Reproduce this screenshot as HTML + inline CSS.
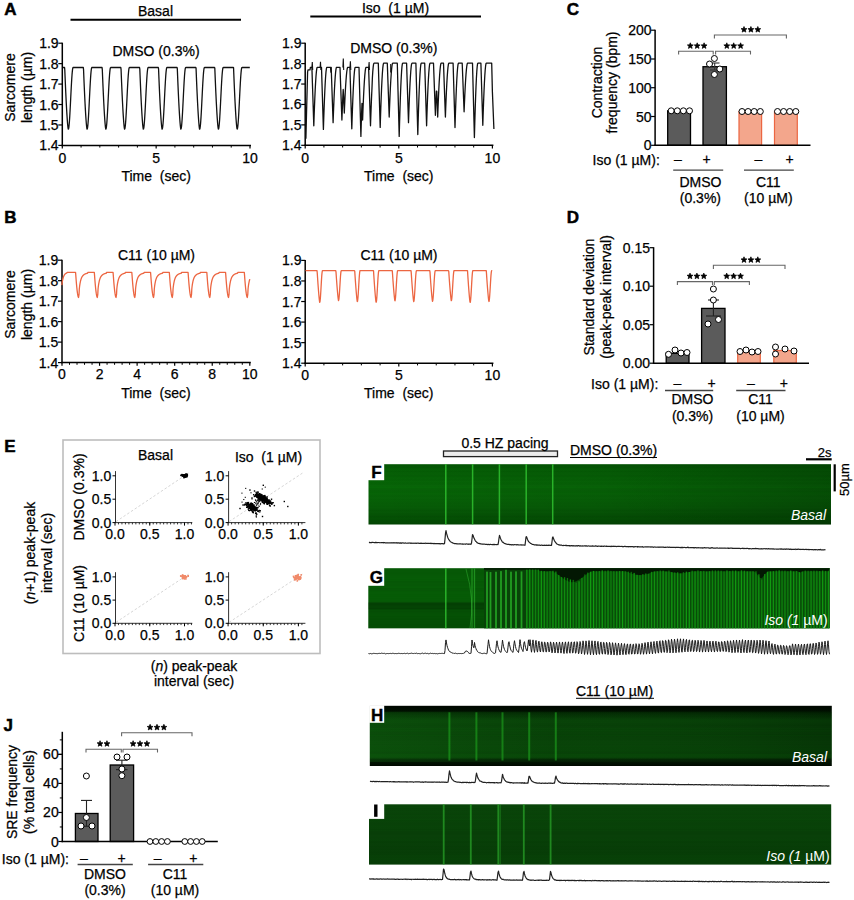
<!DOCTYPE html>
<html><head><meta charset="utf-8"><style>
html,body{margin:0;padding:0;background:#fff;width:854px;height:900px;overflow:hidden}
svg{display:block}
text{font-family:"Liberation Sans", sans-serif; stroke:#000; stroke-width:0.25px}
</style></head><body>
<svg width="854" height="900" viewBox="0 0 854 900">
<defs><linearGradient id="gF" x1="0" y1="0" x2="0" y2="1"><stop offset="0" stop-color="rgb(6,90,6)"/><stop offset="0.4" stop-color="rgb(8,102,8)"/><stop offset="0.75" stop-color="rgb(7,90,7)"/><stop offset="1" stop-color="rgb(4,70,4)"/></linearGradient><linearGradient id="gFx" x1="0" y1="0" x2="1" y2="0"><stop offset="0" stop-color="#000" stop-opacity="0"/><stop offset="0.5" stop-color="#000" stop-opacity="0.05"/><stop offset="1" stop-color="#000" stop-opacity="0.22"/></linearGradient><linearGradient id="gH" x1="0" y1="0" x2="0" y2="1"><stop offset="0" stop-color="rgb(0,6,0)"/><stop offset="0.07" stop-color="rgb(0,12,0)"/><stop offset="0.13" stop-color="rgb(4,38,4)"/><stop offset="0.22" stop-color="rgb(8,62,8)"/><stop offset="0.86" stop-color="rgb(8,64,8)"/><stop offset="0.9" stop-color="rgb(3,28,3)"/><stop offset="1" stop-color="rgb(0,8,0)"/></linearGradient><linearGradient id="gHx" x1="0" y1="0" x2="1" y2="0"><stop offset="0" stop-color="rgb(30,150,30)" stop-opacity="0.18"/><stop offset="0.4" stop-color="rgb(30,150,30)" stop-opacity="0.05"/><stop offset="1" stop-color="#000" stop-opacity="0.15"/></linearGradient><linearGradient id="gI" x1="0" y1="0" x2="0" y2="1"><stop offset="0" stop-color="rgb(10,70,10)"/><stop offset="0.5" stop-color="rgb(9,64,9)"/><stop offset="1" stop-color="rgb(8,62,8)"/></linearGradient><pattern id="pG" x="0" y="0" width="3.05" height="10" patternUnits="userSpaceOnUse"><rect x="0" y="0" width="3.05" height="10" fill="rgb(8,80,8)"/><rect x="0.7" y="0" width="1.4" height="10" fill="rgb(30,160,30)"/></pattern></defs>
<text x="4.30" y="14.80" font-size="17" font-weight="bold" style="stroke-width:0.5px">A</text>
<text x="4.30" y="223.00" font-size="17" font-weight="bold" style="stroke-width:0.5px">B</text>
<text x="566.80" y="15.00" font-size="17" font-weight="bold" style="stroke-width:0.5px">C</text>
<text x="566.80" y="222.50" font-size="17" font-weight="bold" style="stroke-width:0.5px">D</text>
<text x="4.30" y="451.50" font-size="17" font-weight="bold" style="stroke-width:0.5px">E</text>
<text x="3.50" y="730.50" font-size="17" font-weight="bold" style="stroke-width:0.5px">J</text>
<line x1="62.30" y1="42.70" x2="62.30" y2="146.15" stroke="#000" stroke-width="1.5" />
<line x1="61.55" y1="145.40" x2="251.00" y2="145.40" stroke="#000" stroke-width="1.5" />
<line x1="58.30" y1="43.20" x2="62.30" y2="43.20" stroke="#000" stroke-width="1.2" />
<text x="58.60" y="48.20" font-size="14" text-anchor="end" >1.9</text>
<line x1="58.30" y1="63.64" x2="62.30" y2="63.64" stroke="#000" stroke-width="1.2" />
<text x="58.60" y="68.64" font-size="14" text-anchor="end" >1.8</text>
<line x1="58.30" y1="84.08" x2="62.30" y2="84.08" stroke="#000" stroke-width="1.2" />
<text x="58.60" y="89.08" font-size="14" text-anchor="end" >1.7</text>
<line x1="58.30" y1="104.52" x2="62.30" y2="104.52" stroke="#000" stroke-width="1.2" />
<text x="58.60" y="109.52" font-size="14" text-anchor="end" >1.6</text>
<line x1="58.30" y1="124.96" x2="62.30" y2="124.96" stroke="#000" stroke-width="1.2" />
<text x="58.60" y="129.96" font-size="14" text-anchor="end" >1.5</text>
<line x1="58.30" y1="145.40" x2="62.30" y2="145.40" stroke="#000" stroke-width="1.2" />
<text x="58.60" y="150.40" font-size="14" text-anchor="end" >1.4</text>
<line x1="62.30" y1="145.40" x2="62.30" y2="148.60" stroke="#000" stroke-width="1.2" />
<text x="62.30" y="162.50" font-size="14" text-anchor="middle" >0</text>
<line x1="156.15" y1="145.40" x2="156.15" y2="148.60" stroke="#000" stroke-width="1.2" />
<text x="156.15" y="162.50" font-size="14" text-anchor="middle" >5</text>
<line x1="250.00" y1="145.40" x2="250.00" y2="148.60" stroke="#000" stroke-width="1.2" />
<text x="250.00" y="162.50" font-size="14" text-anchor="middle" >10</text>
<line x1="81.07" y1="145.40" x2="81.07" y2="147.60" stroke="#000" stroke-width="1.0" />
<line x1="99.84" y1="145.40" x2="99.84" y2="147.60" stroke="#000" stroke-width="1.0" />
<line x1="118.61" y1="145.40" x2="118.61" y2="147.60" stroke="#000" stroke-width="1.0" />
<line x1="137.38" y1="145.40" x2="137.38" y2="147.60" stroke="#000" stroke-width="1.0" />
<line x1="174.92" y1="145.40" x2="174.92" y2="147.60" stroke="#000" stroke-width="1.0" />
<line x1="193.69" y1="145.40" x2="193.69" y2="147.60" stroke="#000" stroke-width="1.0" />
<line x1="212.46" y1="145.40" x2="212.46" y2="147.60" stroke="#000" stroke-width="1.0" />
<line x1="231.23" y1="145.40" x2="231.23" y2="147.60" stroke="#000" stroke-width="1.0" />
<text x="156.15" y="181.00" font-size="14" text-anchor="middle" >Time&#160;&#160;(sec)</text>
<text transform="translate(15.00,87.50) rotate(-90)" font-size="14" text-anchor="middle">Sarcomere</text>
<text transform="translate(31.50,87.50) rotate(-90)" font-size="14" text-anchor="middle">length (µm)</text>
<text transform="translate(15.00,304.50) rotate(-90)" font-size="14" text-anchor="middle">Sarcomere</text>
<text transform="translate(31.50,304.50) rotate(-90)" font-size="14" text-anchor="middle">length (µm)</text>
<line x1="70.50" y1="19.70" x2="241.00" y2="19.70" stroke="#000" stroke-width="2" />
<text x="155.50" y="15.50" font-size="14" text-anchor="middle" >Basal</text>
<line x1="310.30" y1="16.40" x2="481.00" y2="16.40" stroke="#000" stroke-width="2" />
<text x="395.50" y="12.50" font-size="14" text-anchor="middle" >Iso&#160;&#160;(1 µM)</text>
<text x="156.00" y="56.00" font-size="14" text-anchor="middle" >DMSO (0.3%)</text>
<path d="M62.80,67.50 L63.05,67.50 L63.30,67.50 L63.55,67.50 L63.80,67.50 L64.05,67.50 L64.30,67.50 L64.55,67.50 L64.80,70.05 L65.05,76.28 L65.30,82.26 L65.55,88.01 L65.80,93.49 L66.05,98.71 L66.30,103.65 L66.55,108.29 L66.80,112.61 L67.05,116.58 L67.30,120.17 L67.55,123.33 L67.80,126.01 L68.05,128.07 L68.30,129.20 L68.55,128.79 L68.80,127.56 L69.05,125.56 L69.30,122.82 L69.55,119.44 L69.80,115.49 L70.05,111.08 L70.30,106.33 L70.55,101.37 L70.80,96.33 L71.05,91.34 L71.30,86.54 L71.55,82.06 L71.80,78.01 L72.05,74.50 L72.30,71.63 L72.55,69.48 L72.80,68.09 L73.05,67.52 L73.30,67.50 L73.55,67.50 L73.80,67.50 L74.05,67.50 L74.30,67.50 L74.55,67.50 L74.80,67.50 L75.05,67.50 L75.30,67.50 L75.55,67.50 L75.80,67.50 L76.05,67.50 L76.30,67.50 L76.55,67.50 L76.80,67.50 L77.05,67.50 L77.30,67.50 L77.55,67.50 L77.80,67.50 L78.05,67.50 L78.30,67.50 L78.55,67.50 L78.80,67.50 L79.05,67.50 L79.30,67.50 L79.55,67.50 L79.80,67.50 L80.05,67.50 L80.30,67.50 L80.55,67.50 L80.80,67.50 L81.05,67.50 L81.30,67.50 L81.55,67.50 L81.80,67.50 L82.05,67.50 L82.30,67.50 L82.55,67.50 L82.80,67.50 L83.05,67.50 L83.30,67.50 L83.55,69.80 L83.80,76.03 L84.05,82.03 L84.30,87.78 L84.55,93.28 L84.80,98.51 L85.05,103.46 L85.30,108.11 L85.55,112.44 L85.80,116.42 L86.05,120.03 L86.30,123.22 L86.55,125.91 L86.80,128.00 L87.05,129.19 L87.30,128.82 L87.55,127.63 L87.80,125.65 L88.05,122.95 L88.30,119.59 L88.55,115.66 L88.80,111.27 L89.05,106.53 L89.30,101.57 L89.55,96.53 L89.80,91.54 L90.05,86.73 L90.30,82.23 L90.55,78.16 L90.80,74.63 L91.05,71.73 L91.30,69.55 L91.55,68.13 L91.80,67.52 L92.05,67.50 L92.30,67.50 L92.55,67.50 L92.80,67.50 L93.05,67.50 L93.30,67.50 L93.55,67.50 L93.80,67.50 L94.05,67.50 L94.30,67.50 L94.55,67.50 L94.80,67.50 L95.05,67.50 L95.30,67.50 L95.55,67.50 L95.80,67.50 L96.05,67.50 L96.30,67.50 L96.55,67.50 L96.80,67.50 L97.05,67.50 L97.30,67.50 L97.55,67.50 L97.80,67.50 L98.05,67.50 L98.30,67.50 L98.55,67.50 L98.80,67.50 L99.05,67.50 L99.30,67.50 L99.55,67.50 L99.80,67.50 L100.05,67.50 L100.30,67.50 L100.55,67.50 L100.80,67.50 L101.05,67.50 L101.30,67.50 L101.55,67.50 L101.80,67.50 L102.05,67.50 L102.30,69.55 L102.55,75.79 L102.80,81.79 L103.05,87.56 L103.30,93.06 L103.55,98.31 L103.80,103.27 L104.05,107.93 L104.30,112.27 L104.55,116.27 L104.80,119.89 L105.05,123.10 L105.30,125.81 L105.55,127.93 L105.80,129.17 L106.05,128.85 L106.30,127.69 L106.55,125.75 L106.80,123.07 L107.05,119.73 L107.30,115.82 L107.55,111.45 L107.80,106.72 L108.05,101.78 L108.30,96.74 L108.55,91.74 L108.80,86.92 L109.05,82.40 L109.30,78.31 L109.55,74.76 L109.80,71.84 L110.05,69.62 L110.30,68.17 L110.55,67.53 L110.80,67.50 L111.05,67.50 L111.30,67.50 L111.55,67.50 L111.80,67.50 L112.05,67.50 L112.30,67.50 L112.55,67.50 L112.80,67.50 L113.05,67.50 L113.30,67.50 L113.55,67.50 L113.80,67.50 L114.05,67.50 L114.30,67.50 L114.55,67.50 L114.80,67.50 L115.05,67.50 L115.30,67.50 L115.55,67.50 L115.80,67.50 L116.05,67.50 L116.30,67.50 L116.55,67.50 L116.80,67.50 L117.05,67.50 L117.30,67.50 L117.55,67.50 L117.80,67.50 L118.05,67.50 L118.30,67.50 L118.55,67.50 L118.80,67.50 L119.05,67.50 L119.30,67.50 L119.55,67.50 L119.80,67.50 L120.05,67.50 L120.30,67.50 L120.55,67.50 L120.80,67.50 L121.05,69.29 L121.30,75.54 L121.55,81.56 L121.80,87.33 L122.05,92.85 L122.30,98.10 L122.55,103.07 L122.80,107.75 L123.05,112.11 L123.30,116.12 L123.55,119.76 L123.80,122.98 L124.05,125.71 L124.30,127.86 L124.55,129.15 L124.80,128.88 L125.05,127.75 L125.30,125.84 L125.55,123.19 L125.80,119.88 L126.05,115.99 L126.30,111.63 L126.55,106.92 L126.80,101.98 L127.05,96.94 L127.30,91.94 L127.55,87.11 L127.80,82.58 L128.05,78.47 L128.30,74.89 L128.55,71.94 L128.80,69.70 L129.05,68.22 L129.30,67.54 L129.55,67.50 L129.80,67.50 L130.05,67.50 L130.30,67.50 L130.55,67.50 L130.80,67.50 L131.05,67.50 L131.30,67.50 L131.55,67.50 L131.80,67.50 L132.05,67.50 L132.30,67.50 L132.55,67.50 L132.80,67.50 L133.05,67.50 L133.30,67.50 L133.55,67.50 L133.80,67.50 L134.05,67.50 L134.30,67.50 L134.55,67.50 L134.80,67.50 L135.05,67.50 L135.30,67.50 L135.55,67.50 L135.80,67.50 L136.05,67.50 L136.30,67.50 L136.55,67.50 L136.80,67.50 L137.05,67.50 L137.30,67.50 L137.55,67.50 L137.80,67.50 L138.05,67.50 L138.30,67.50 L138.55,67.50 L138.80,67.50 L139.05,67.50 L139.30,67.50 L139.55,67.50 L139.80,69.04 L140.05,75.30 L140.30,81.32 L140.55,87.10 L140.80,92.63 L141.05,97.90 L141.30,102.88 L141.55,107.57 L141.80,111.94 L142.05,115.97 L142.30,119.62 L142.55,122.86 L142.80,125.62 L143.05,127.79 L143.30,129.13 L143.55,128.91 L143.80,127.81 L144.05,125.93 L144.30,123.31 L144.55,120.02 L144.80,116.15 L145.05,111.81 L145.30,107.11 L145.55,102.18 L145.80,97.14 L146.05,92.13 L146.30,87.29 L146.55,82.75 L146.80,78.62 L147.05,75.02 L147.30,72.05 L147.55,69.77 L147.80,68.26 L148.05,67.55 L148.30,67.50 L148.55,67.50 L148.80,67.50 L149.05,67.50 L149.30,67.50 L149.55,67.50 L149.80,67.50 L150.05,67.50 L150.30,67.50 L150.55,67.50 L150.80,67.50 L151.05,67.50 L151.30,67.50 L151.55,67.50 L151.80,67.50 L152.05,67.50 L152.30,67.50 L152.55,67.50 L152.80,67.50 L153.05,67.50 L153.30,67.50 L153.55,67.50 L153.80,67.50 L154.05,67.50 L154.30,67.50 L154.55,67.50 L154.80,67.50 L155.05,67.50 L155.30,67.50 L155.55,67.50 L155.80,67.50 L156.05,67.50 L156.30,67.50 L156.55,67.50 L156.80,67.50 L157.05,67.50 L157.30,67.50 L157.55,67.50 L157.80,67.50 L158.05,67.50 L158.30,67.50 L158.55,68.78 L158.80,75.05 L159.05,81.08 L159.30,86.88 L159.55,92.42 L159.80,97.69 L160.05,102.69 L160.30,107.39 L160.55,111.77 L160.80,115.81 L161.05,119.48 L161.30,122.74 L161.55,125.52 L161.80,127.72 L162.05,129.10 L162.30,128.94 L162.55,127.87 L162.80,126.02 L163.05,123.43 L163.30,120.16 L163.55,116.32 L163.80,111.99 L164.05,107.31 L164.30,102.38 L164.55,97.34 L164.80,92.33 L165.05,87.48 L165.30,82.93 L165.55,78.78 L165.80,75.16 L166.05,72.15 L166.30,69.85 L166.55,68.31 L166.80,67.57 L167.05,67.50 L167.30,67.50 L167.55,67.50 L167.80,67.50 L168.05,67.50 L168.30,67.50 L168.55,67.50 L168.80,67.50 L169.05,67.50 L169.30,67.50 L169.55,67.50 L169.80,67.50 L170.05,67.50 L170.30,67.50 L170.55,67.50 L170.80,67.50 L171.05,67.50 L171.30,67.50 L171.55,67.50 L171.80,67.50 L172.05,67.50 L172.30,67.50 L172.55,67.50 L172.80,67.50 L173.05,67.50 L173.30,67.50 L173.55,67.50 L173.80,67.50 L174.05,67.50 L174.30,67.50 L174.55,67.50 L174.80,67.50 L175.05,67.50 L175.30,67.50 L175.55,67.50 L175.80,67.50 L176.05,67.50 L176.30,67.50 L176.55,67.50 L176.80,67.50 L177.05,67.50 L177.30,68.53 L177.55,74.80 L177.80,80.85 L178.05,86.65 L178.30,92.20 L178.55,97.49 L178.80,102.49 L179.05,107.20 L179.30,111.60 L179.55,115.66 L179.80,119.34 L180.05,122.61 L180.30,125.41 L180.55,127.64 L180.80,129.07 L181.05,128.96 L181.30,127.93 L181.55,126.11 L181.80,123.54 L182.05,120.31 L182.30,116.48 L182.55,112.18 L182.80,107.50 L183.05,102.58 L183.30,97.54 L183.55,92.53 L183.80,87.67 L184.05,83.10 L184.30,78.94 L184.55,75.29 L184.80,72.26 L185.05,69.93 L185.30,68.35 L185.55,67.58 L185.80,67.50 L186.05,67.50 L186.30,67.50 L186.55,67.50 L186.80,67.50 L187.05,67.50 L187.30,67.50 L187.55,67.50 L187.80,67.50 L188.05,67.50 L188.30,67.50 L188.55,67.50 L188.80,67.50 L189.05,67.50 L189.30,67.50 L189.55,67.50 L189.80,67.50 L190.05,67.50 L190.30,67.50 L190.55,67.50 L190.80,67.50 L191.05,67.50 L191.30,67.50 L191.55,67.50 L191.80,67.50 L192.05,67.50 L192.30,67.50 L192.55,67.50 L192.80,67.50 L193.05,67.50 L193.30,67.50 L193.55,67.50 L193.80,67.50 L194.05,67.50 L194.30,67.50 L194.55,67.50 L194.80,67.50 L195.05,67.50 L195.30,67.50 L195.55,67.50 L195.80,67.50 L196.05,68.27 L196.30,74.56 L196.55,80.61 L196.80,86.42 L197.05,91.98 L197.30,97.28 L197.55,102.30 L197.80,107.02 L198.05,111.43 L198.30,115.50 L198.55,119.20 L198.80,122.49 L199.05,125.31 L199.30,127.56 L199.55,129.03 L199.80,128.99 L200.05,127.99 L200.30,126.19 L200.55,123.66 L200.80,120.45 L201.05,116.65 L201.30,112.36 L201.55,107.69 L201.80,102.78 L202.05,97.74 L202.30,92.73 L202.55,87.86 L202.80,83.28 L203.05,79.09 L203.30,75.42 L203.55,72.37 L203.80,70.01 L204.05,68.40 L204.30,67.60 L204.55,67.50 L204.80,67.50 L205.05,67.50 L205.30,67.50 L205.55,67.50 L205.80,67.50 L206.05,67.50 L206.30,67.50 L206.55,67.50 L206.80,67.50 L207.05,67.50 L207.30,67.50 L207.55,67.50 L207.80,67.50 L208.05,67.50 L208.30,67.50 L208.55,67.50 L208.80,67.50 L209.05,67.50 L209.30,67.50 L209.55,67.50 L209.80,67.50 L210.05,67.50 L210.30,67.50 L210.55,67.50 L210.80,67.50 L211.05,67.50 L211.30,67.50 L211.55,67.50 L211.80,67.50 L212.05,67.50 L212.30,67.50 L212.55,67.50 L212.80,67.50 L213.05,67.50 L213.30,67.50 L213.55,67.50 L213.80,67.50 L214.05,67.50 L214.30,67.50 L214.55,67.50 L214.80,68.01 L215.05,74.31 L215.30,80.37 L215.55,86.20 L215.80,91.77 L216.05,97.07 L216.30,102.10 L216.55,106.84 L216.80,111.26 L217.05,115.34 L217.30,119.06 L217.55,122.37 L217.80,125.21 L218.05,127.49 L218.30,129.00 L218.55,129.01 L218.80,128.04 L219.05,126.28 L219.30,123.77 L219.55,120.59 L219.80,116.81 L220.05,112.54 L220.30,107.88 L220.55,102.98 L220.80,97.95 L221.05,92.93 L221.30,88.05 L221.55,83.45 L221.80,79.25 L222.05,75.56 L222.30,72.48 L222.55,70.09 L222.80,68.45 L223.05,67.61 L223.30,67.50 L223.55,67.50 L223.80,67.50 L224.05,67.50 L224.30,67.50 L224.55,67.50 L224.80,67.50 L225.05,67.50 L225.30,67.50 L225.55,67.50 L225.80,67.50 L226.05,67.50 L226.30,67.50 L226.55,67.50 L226.80,67.50 L227.05,67.50 L227.30,67.50 L227.55,67.50 L227.80,67.50 L228.05,67.50 L228.30,67.50 L228.55,67.50 L228.80,67.50 L229.05,67.50 L229.30,67.50 L229.55,67.50 L229.80,67.50 L230.05,67.50 L230.30,67.50 L230.55,67.50 L230.80,67.50 L231.05,67.50 L231.30,67.50 L231.55,67.50 L231.80,67.50 L232.05,67.50 L232.30,67.50 L232.55,67.50 L232.80,67.50 L233.05,67.50 L233.30,67.50 L233.55,67.76 L233.80,74.06 L234.05,80.14 L234.30,85.97 L234.55,91.55 L234.80,96.87 L235.05,101.91 L235.30,106.65 L235.55,111.09 L235.80,115.19 L236.05,118.92 L236.30,122.25 L236.55,125.11 L236.80,127.41 L237.05,128.96 L237.30,129.03 L237.55,128.10 L237.80,126.37 L238.05,123.89 L238.30,120.73 L238.55,116.97 L238.80,112.71 L239.05,108.07 L239.30,103.18 L239.55,98.15 L239.80,93.13 L240.05,88.24 L240.30,83.63 L240.55,79.41 L240.80,75.70 L241.05,72.59 L241.30,70.17 L241.55,68.50 L241.80,67.63 L242.05,67.50 L242.30,67.50 L242.55,67.50 L242.80,67.50 L243.05,67.50 L243.30,67.50 L243.55,67.50 L243.80,67.50 L244.05,67.50 L244.30,67.50 L244.55,67.50 L244.80,67.50 L245.05,67.50 L245.30,67.50 L245.55,67.50 L245.80,67.50 L246.05,67.50 L246.30,67.50 L246.55,67.50 L246.80,67.50 L247.05,67.50 L247.30,67.50 L247.55,67.50 L247.80,67.50 L248.05,67.50 L248.30,67.50 L248.55,67.50 L248.80,67.50 L249.05,67.50 L249.30,67.50 L249.55,67.50 L249.80,67.50" fill="none" stroke="#111" stroke-width="1.3" stroke-linejoin="round" />
<line x1="305.20" y1="42.70" x2="305.20" y2="146.05" stroke="#000" stroke-width="1.5" />
<line x1="304.45" y1="145.30" x2="493.40" y2="145.30" stroke="#000" stroke-width="1.5" />
<line x1="301.20" y1="43.20" x2="305.20" y2="43.20" stroke="#000" stroke-width="1.2" />
<text x="301.50" y="48.20" font-size="14" text-anchor="end" >1.9</text>
<line x1="301.20" y1="63.62" x2="305.20" y2="63.62" stroke="#000" stroke-width="1.2" />
<text x="301.50" y="68.62" font-size="14" text-anchor="end" >1.8</text>
<line x1="301.20" y1="84.04" x2="305.20" y2="84.04" stroke="#000" stroke-width="1.2" />
<text x="301.50" y="89.04" font-size="14" text-anchor="end" >1.7</text>
<line x1="301.20" y1="104.46" x2="305.20" y2="104.46" stroke="#000" stroke-width="1.2" />
<text x="301.50" y="109.46" font-size="14" text-anchor="end" >1.6</text>
<line x1="301.20" y1="124.88" x2="305.20" y2="124.88" stroke="#000" stroke-width="1.2" />
<text x="301.50" y="129.88" font-size="14" text-anchor="end" >1.5</text>
<line x1="301.20" y1="145.30" x2="305.20" y2="145.30" stroke="#000" stroke-width="1.2" />
<text x="301.50" y="150.30" font-size="14" text-anchor="end" >1.4</text>
<line x1="305.20" y1="145.30" x2="305.20" y2="148.50" stroke="#000" stroke-width="1.2" />
<text x="305.20" y="162.50" font-size="14" text-anchor="middle" >0</text>
<line x1="398.80" y1="145.30" x2="398.80" y2="148.50" stroke="#000" stroke-width="1.2" />
<text x="398.80" y="162.50" font-size="14" text-anchor="middle" >5</text>
<line x1="492.40" y1="145.30" x2="492.40" y2="148.50" stroke="#000" stroke-width="1.2" />
<text x="492.40" y="162.50" font-size="14" text-anchor="middle" >10</text>
<line x1="323.92" y1="145.30" x2="323.92" y2="147.50" stroke="#000" stroke-width="1.0" />
<line x1="342.64" y1="145.30" x2="342.64" y2="147.50" stroke="#000" stroke-width="1.0" />
<line x1="361.36" y1="145.30" x2="361.36" y2="147.50" stroke="#000" stroke-width="1.0" />
<line x1="380.08" y1="145.30" x2="380.08" y2="147.50" stroke="#000" stroke-width="1.0" />
<line x1="417.52" y1="145.30" x2="417.52" y2="147.50" stroke="#000" stroke-width="1.0" />
<line x1="436.24" y1="145.30" x2="436.24" y2="147.50" stroke="#000" stroke-width="1.0" />
<line x1="454.96" y1="145.30" x2="454.96" y2="147.50" stroke="#000" stroke-width="1.0" />
<line x1="473.68" y1="145.30" x2="473.68" y2="147.50" stroke="#000" stroke-width="1.0" />
<text x="398.80" y="181.00" font-size="14" text-anchor="middle" >Time&#160;&#160;(sec)</text>
<text x="393.80" y="53.00" font-size="14" text-anchor="middle" >DMSO (0.3%)</text>
<path d="M305.90,138.70 L306.60,110.00 L307.60,72.00 L308.00,69.80 L308.40,69.80 L308.80,69.80 L309.20,69.80 L309.60,69.80 L310.00,69.80 L310.40,67.30 L310.80,67.30 L311.20,67.30 L311.60,67.30 L311.90,67.30 L312.00,70.38 L312.40,82.69 L312.80,95.01 L313.20,107.33 L313.60,119.64 L313.80,125.80 L314.00,119.75 L314.10,116.84 L314.40,108.55 L314.80,98.55 L315.20,89.81 L315.60,82.36 L316.00,76.27 L316.40,71.63 L316.80,68.54 L317.20,67.30 L317.60,67.30 L318.00,67.30 L318.40,67.30 L318.80,67.30 L319.20,67.30 L319.60,67.30 L320.00,67.30 L320.40,67.30 L320.80,67.30 L321.20,67.30 L321.50,67.30 L321.60,70.57 L322.00,83.64 L322.40,96.72 L322.80,109.79 L323.20,122.86 L323.40,129.40 L323.60,122.98 L323.70,119.89 L324.00,111.08 L324.40,100.47 L324.80,91.19 L325.20,83.29 L325.60,76.83 L326.00,71.89 L326.40,68.62 L326.80,67.30 L327.20,67.30 L327.60,67.30 L328.00,67.30 L328.40,67.30 L328.80,67.30 L329.20,67.30 L329.60,67.30 L330.00,67.30 L330.40,67.30 L330.80,67.30 L331.20,67.30 L331.20,67.30 L331.60,78.96 L332.00,90.63 L332.40,102.29 L332.80,113.95 L333.10,122.70 L333.20,119.80 L333.40,114.21 L333.60,108.91 L334.00,99.15 L334.40,90.57 L334.80,83.21 L335.20,77.12 L335.60,72.36 L336.00,69.06 L336.40,67.40 L336.80,67.30 L337.20,67.30 L337.60,67.30 L338.00,67.30 L338.40,67.30 L338.80,67.30 L339.20,67.30 L339.60,67.30 L340.00,67.30 L340.00,67.30 L340.40,78.39 L340.80,89.49 L341.20,100.58 L341.60,111.68 L341.90,120.00 L342.00,117.24 L342.20,111.93 L342.40,106.88 L342.40,106.88 L342.80,97.60 L343.20,89.44 L343.60,96.16 L344.00,105.78 L344.30,113.00 L344.40,110.61 L344.60,106.00 L344.80,101.62 L345.20,93.58 L345.60,86.50 L346.00,80.42 L346.40,75.40 L346.80,71.48 L347.20,68.75 L347.60,67.38 L348.00,67.30 L348.40,67.30 L348.80,67.30 L349.20,67.30 L349.60,67.30 L349.90,67.30 L350.00,70.54 L350.40,83.48 L350.80,96.43 L351.20,109.38 L351.60,122.33 L351.80,128.80 L352.00,122.44 L352.10,119.38 L352.40,110.66 L352.80,100.15 L353.20,90.96 L353.60,83.14 L354.00,76.73 L354.40,71.85 L354.80,68.61 L355.20,67.30 L355.60,67.30 L356.00,67.30 L356.40,67.30 L356.80,67.30 L357.20,67.30 L357.60,67.30 L358.00,67.30 L358.40,67.30 L358.80,67.30 L359.00,67.30 L359.20,74.57 L359.60,89.12 L360.00,103.67 L360.40,118.22 L360.70,129.13 L360.80,132.76 L360.90,136.40 L361.20,125.81 L361.20,125.81 L361.60,112.93 L362.00,103.36 L362.40,114.45 L362.60,120.00 L362.80,114.55 L362.90,111.93 L363.20,104.46 L363.60,95.45 L364.00,87.58 L364.40,80.87 L364.80,75.38 L365.20,71.20 L365.60,68.42 L366.00,67.30 L366.40,67.30 L366.80,67.30 L367.20,67.30 L367.60,67.30 L368.00,67.30 L368.40,67.30 L368.60,67.30 L368.80,73.46 L369.20,85.77 L369.60,98.09 L370.00,110.41 L370.40,122.72 L370.50,125.80 L370.80,116.84 L370.80,116.84 L371.20,105.93 L371.60,96.25 L372.00,87.82 L372.40,77.55 L372.80,71.41 L373.20,66.84 L373.60,63.99 L374.00,63.20 L374.40,63.20 L374.80,63.20 L375.20,63.20 L375.60,63.20 L376.00,63.20 L376.40,63.20 L376.80,63.20 L377.20,63.20 L377.60,63.20 L378.00,63.20 L378.30,63.20 L378.40,66.58 L378.80,80.09 L379.20,93.61 L379.60,107.13 L380.00,120.64 L380.20,127.40 L380.40,120.76 L380.50,117.57 L380.80,108.46 L381.20,97.50 L381.60,87.90 L382.00,79.73 L382.40,73.05 L382.80,67.95 L383.20,64.56 L383.60,63.20 L384.00,63.20 L384.40,63.20 L384.80,63.20 L385.20,63.20 L385.60,63.20 L386.00,63.20 L386.40,63.20 L386.80,63.20 L387.20,63.20 L387.30,63.20 L387.60,71.69 L388.00,83.02 L388.40,94.35 L388.80,105.67 L389.20,117.00 L389.20,117.00 L389.50,108.76 L389.60,106.15 L390.00,96.39 L390.40,87.77 L390.80,80.32 L391.20,74.09 L391.60,69.14 L392.00,65.57 L392.40,63.53 L392.80,63.20 L393.20,63.20 L393.60,63.20 L394.00,63.20 L394.40,63.20 L394.80,63.20 L395.20,63.20 L395.60,63.20 L396.00,63.20 L396.40,63.20 L396.80,63.20 L397.20,63.20 L397.30,63.20 L397.60,74.76 L398.00,90.17 L398.40,105.58 L398.80,120.99 L399.20,136.40 L399.20,136.40 L399.50,125.19 L399.60,121.63 L400.00,108.36 L400.40,96.64 L400.80,86.50 L401.20,78.02 L401.60,71.29 L402.00,66.42 L402.40,63.65 L402.80,63.20 L403.20,63.20 L403.60,63.20 L404.00,63.20 L404.40,63.20 L404.80,63.20 L405.20,63.20 L405.60,63.20 L406.00,63.20 L406.40,63.20 L406.60,63.20 L406.80,69.46 L407.20,81.99 L407.60,94.52 L408.00,107.04 L408.40,119.57 L408.50,122.70 L408.80,113.59 L408.80,113.59 L409.20,102.49 L409.60,92.64 L410.00,84.07 L410.40,76.84 L410.80,71.00 L411.20,66.66 L411.60,63.95 L412.00,63.20 L412.40,63.20 L412.80,63.20 L413.20,63.20 L413.60,63.20 L414.00,63.20 L414.40,63.20 L414.80,63.20 L415.20,63.20 L415.60,63.20 L415.90,63.20 L416.00,66.96 L416.40,81.99 L416.80,97.02 L417.20,112.05 L417.60,127.08 L417.80,134.60 L418.00,127.22 L418.10,123.66 L418.40,113.54 L418.80,101.34 L419.20,90.67 L419.60,81.58 L420.00,74.15 L420.40,68.48 L420.80,64.72 L421.20,63.20 L421.60,63.20 L422.00,63.20 L422.40,63.20 L422.80,63.20 L423.20,63.20 L423.60,63.20 L424.00,63.20 L424.40,63.20 L424.70,63.20 L424.80,66.49 L425.20,79.67 L425.60,92.85 L426.00,106.03 L426.40,119.21 L426.60,125.80 L426.80,119.33 L426.90,116.21 L427.20,107.34 L427.60,96.64 L428.00,87.29 L428.40,79.32 L428.80,72.80 L429.20,67.83 L429.60,64.53 L430.00,63.20 L430.40,63.20 L430.80,63.20 L431.20,63.20 L431.60,63.20 L432.00,63.20 L432.40,63.20 L432.80,63.20 L433.20,63.20 L433.50,63.20 L433.60,65.94 L434.00,76.91 L434.40,87.88 L434.80,98.85 L435.20,109.82 L435.40,115.30 L435.60,109.91 L435.70,107.32 L435.80,104.79 L436.00,99.93 L436.40,91.03 L436.80,91.52 L437.20,102.84 L437.60,114.17 L437.70,117.00 L438.00,108.76 L438.00,108.76 L438.40,98.73 L438.80,89.82 L439.20,82.07 L439.60,75.53 L440.00,70.26 L440.40,66.33 L440.80,63.88 L441.20,63.20 L441.60,63.20 L442.00,63.20 L442.40,63.20 L442.80,63.20 L443.20,63.20 L443.50,63.20 L443.60,66.03 L444.00,77.36 L444.40,88.68 L444.80,100.01 L445.20,111.34 L445.40,117.00 L445.60,111.44 L445.70,108.76 L446.00,101.13 L446.40,91.94 L446.80,83.90 L447.20,77.05 L447.60,71.45 L448.00,67.18 L448.40,64.34 L448.80,63.20 L449.20,63.20 L449.60,63.20 L450.00,63.20 L450.40,63.20 L450.80,63.20 L451.20,63.20 L451.60,63.20 L452.00,63.20 L452.40,63.20 L452.80,63.20 L453.10,63.20 L453.20,66.59 L453.60,80.15 L454.00,93.71 L454.40,107.26 L454.80,120.82 L455.00,127.60 L455.20,120.94 L455.30,117.73 L455.60,108.61 L456.00,97.60 L456.40,87.98 L456.80,79.78 L457.20,73.08 L457.60,67.96 L458.00,64.57 L458.40,63.20 L458.80,63.20 L459.20,63.20 L459.60,63.20 L460.00,63.20 L460.40,63.20 L460.80,63.20 L461.20,63.20 L461.60,63.20 L462.00,63.20 L462.20,63.20 L462.40,68.32 L462.80,78.55 L463.20,88.78 L463.60,99.01 L464.00,109.24 L464.10,111.80 L464.40,104.36 L464.40,104.36 L464.80,95.29 L465.20,87.25 L465.60,80.25 L466.00,74.34 L466.40,69.58 L466.80,66.03 L467.20,63.81 L467.60,63.20 L468.00,63.20 L468.40,63.20 L468.80,63.20 L469.20,63.20 L469.60,63.20 L470.00,63.20 L470.40,63.20 L470.80,63.20 L471.20,63.20 L471.60,63.20 L472.00,63.20 L472.40,63.20 L472.50,63.20 L472.80,74.95 L473.20,90.61 L473.60,106.27 L474.00,121.94 L474.40,137.60 L474.40,137.60 L474.70,126.20 L474.80,122.59 L475.20,109.11 L475.60,97.18 L476.00,86.88 L476.40,78.26 L476.80,71.42 L477.20,66.48 L477.60,63.65 L478.00,63.20 L478.40,63.20 L478.80,63.20 L479.20,63.20 L479.60,63.20 L480.00,63.20 L480.40,63.20 L480.80,63.20 L480.90,63.20 L481.20,73.01 L481.60,86.08 L482.00,99.15 L482.40,112.23 L482.80,125.30 L482.80,125.30 L483.10,115.79 L483.20,112.77 L483.60,101.52 L484.00,91.57 L484.40,82.97 L484.80,75.77 L485.20,70.06 L485.60,65.94 L486.00,63.58 L486.40,63.20 L486.80,63.20 L487.20,63.20 L487.60,63.20 L488.00,63.20 L488.40,63.20 L488.80,63.20 L489.20,63.20 L489.60,63.20 L490.00,63.20 L490.40,63.20 L490.80,63.20 L491.20,63.20 L491.60,63.20 L491.70,63.20 L492.00,75.48 L492.40,91.86 L493.90,129.08" fill="none" stroke="#111" stroke-width="1.3" stroke-linejoin="round" />
<path d="M311.90,67.5 L312.30,62 L312.70,70" fill="none" stroke="#111" stroke-width="1.1"/>
<path d="M320.10,67.5 L320.50,61.8 L320.90,70" fill="none" stroke="#111" stroke-width="1.1"/>
<path d="M342.90,67.5 L343.30,58.5 L343.70,70" fill="none" stroke="#111" stroke-width="1.1"/>
<path d="M350.00,67.5 L350.40,61.4 L350.80,70" fill="none" stroke="#111" stroke-width="1.1"/>
<path d="M368.70,67.5 L369.10,62 L369.50,70" fill="none" stroke="#111" stroke-width="1.1"/>
<line x1="330.50" y1="67.30" x2="331.00" y2="72.60" stroke="#111" stroke-width="1.3" />
<line x1="390.70" y1="64.00" x2="390.70" y2="72.60" stroke="#111" stroke-width="1.1" />
<line x1="62.00" y1="259.70" x2="62.00" y2="363.35" stroke="#000" stroke-width="1.5" />
<line x1="61.25" y1="362.60" x2="250.80" y2="362.60" stroke="#000" stroke-width="1.5" />
<line x1="58.00" y1="260.20" x2="62.00" y2="260.20" stroke="#000" stroke-width="1.2" />
<text x="58.30" y="265.20" font-size="14" text-anchor="end" >1.9</text>
<line x1="58.00" y1="280.68" x2="62.00" y2="280.68" stroke="#000" stroke-width="1.2" />
<text x="58.30" y="285.68" font-size="14" text-anchor="end" >1.8</text>
<line x1="58.00" y1="301.16" x2="62.00" y2="301.16" stroke="#000" stroke-width="1.2" />
<text x="58.30" y="306.16" font-size="14" text-anchor="end" >1.7</text>
<line x1="58.00" y1="321.64" x2="62.00" y2="321.64" stroke="#000" stroke-width="1.2" />
<text x="58.30" y="326.64" font-size="14" text-anchor="end" >1.6</text>
<line x1="58.00" y1="342.12" x2="62.00" y2="342.12" stroke="#000" stroke-width="1.2" />
<text x="58.30" y="347.12" font-size="14" text-anchor="end" >1.5</text>
<line x1="58.00" y1="362.60" x2="62.00" y2="362.60" stroke="#000" stroke-width="1.2" />
<text x="58.30" y="367.60" font-size="14" text-anchor="end" >1.4</text>
<line x1="62.00" y1="362.60" x2="62.00" y2="365.80" stroke="#000" stroke-width="1.2" />
<text x="62.00" y="379.30" font-size="14" text-anchor="middle" >0</text>
<line x1="99.56" y1="362.60" x2="99.56" y2="365.80" stroke="#000" stroke-width="1.2" />
<text x="99.56" y="379.30" font-size="14" text-anchor="middle" >2</text>
<line x1="137.12" y1="362.60" x2="137.12" y2="365.80" stroke="#000" stroke-width="1.2" />
<text x="137.12" y="379.30" font-size="14" text-anchor="middle" >4</text>
<line x1="174.68" y1="362.60" x2="174.68" y2="365.80" stroke="#000" stroke-width="1.2" />
<text x="174.68" y="379.30" font-size="14" text-anchor="middle" >6</text>
<line x1="212.24" y1="362.60" x2="212.24" y2="365.80" stroke="#000" stroke-width="1.2" />
<text x="212.24" y="379.30" font-size="14" text-anchor="middle" >8</text>
<line x1="249.80" y1="362.60" x2="249.80" y2="365.80" stroke="#000" stroke-width="1.2" />
<text x="249.80" y="379.30" font-size="14" text-anchor="middle" >10</text>
<line x1="69.51" y1="362.60" x2="69.51" y2="364.80" stroke="#000" stroke-width="1.0" />
<line x1="77.02" y1="362.60" x2="77.02" y2="364.80" stroke="#000" stroke-width="1.0" />
<line x1="84.54" y1="362.60" x2="84.54" y2="364.80" stroke="#000" stroke-width="1.0" />
<line x1="92.05" y1="362.60" x2="92.05" y2="364.80" stroke="#000" stroke-width="1.0" />
<line x1="107.07" y1="362.60" x2="107.07" y2="364.80" stroke="#000" stroke-width="1.0" />
<line x1="114.58" y1="362.60" x2="114.58" y2="364.80" stroke="#000" stroke-width="1.0" />
<line x1="122.10" y1="362.60" x2="122.10" y2="364.80" stroke="#000" stroke-width="1.0" />
<line x1="129.61" y1="362.60" x2="129.61" y2="364.80" stroke="#000" stroke-width="1.0" />
<line x1="144.63" y1="362.60" x2="144.63" y2="364.80" stroke="#000" stroke-width="1.0" />
<line x1="152.14" y1="362.60" x2="152.14" y2="364.80" stroke="#000" stroke-width="1.0" />
<line x1="159.66" y1="362.60" x2="159.66" y2="364.80" stroke="#000" stroke-width="1.0" />
<line x1="167.17" y1="362.60" x2="167.17" y2="364.80" stroke="#000" stroke-width="1.0" />
<line x1="182.19" y1="362.60" x2="182.19" y2="364.80" stroke="#000" stroke-width="1.0" />
<line x1="189.70" y1="362.60" x2="189.70" y2="364.80" stroke="#000" stroke-width="1.0" />
<line x1="197.22" y1="362.60" x2="197.22" y2="364.80" stroke="#000" stroke-width="1.0" />
<line x1="204.73" y1="362.60" x2="204.73" y2="364.80" stroke="#000" stroke-width="1.0" />
<line x1="219.75" y1="362.60" x2="219.75" y2="364.80" stroke="#000" stroke-width="1.0" />
<line x1="227.26" y1="362.60" x2="227.26" y2="364.80" stroke="#000" stroke-width="1.0" />
<line x1="234.78" y1="362.60" x2="234.78" y2="364.80" stroke="#000" stroke-width="1.0" />
<line x1="242.29" y1="362.60" x2="242.29" y2="364.80" stroke="#000" stroke-width="1.0" />
<text x="155.90" y="398.20" font-size="14" text-anchor="middle" >Time&#160;&#160;(sec)</text>
<text x="156.50" y="260.00" font-size="14" text-anchor="middle" >C11 (10 µM)</text>
<path d="M61.80,285.20 L62.05,283.35 L62.30,281.76 L62.55,280.41 L62.80,279.25 L63.05,278.26 L63.30,277.41 L63.55,276.69 L63.80,276.07 L64.05,275.54 L64.30,275.08 L64.55,274.69 L64.80,274.36 L65.05,274.08 L65.30,273.84 L65.55,273.63 L65.80,273.45 L66.05,273.30 L66.30,273.17 L66.55,273.06 L66.80,272.96 L67.05,272.40 L67.30,272.40 L67.55,272.40 L67.80,272.40 L68.05,272.40 L68.30,272.40 L68.55,272.40 L68.80,272.40 L69.05,272.40 L69.30,272.40 L69.55,272.40 L69.80,272.40 L70.05,272.40 L70.30,272.40 L70.55,272.40 L70.80,272.40 L71.05,272.40 L71.30,272.40 L71.55,272.40 L71.80,272.40 L72.05,272.40 L72.30,272.40 L72.55,272.40 L72.80,272.40 L73.05,272.40 L73.30,272.40 L73.55,272.40 L73.80,272.40 L74.05,272.40 L74.30,272.40 L74.55,272.40 L74.80,272.40 L75.05,272.40 L75.30,272.40 L75.55,272.40 L75.80,275.33 L76.05,278.77 L76.30,281.94 L76.55,284.85 L76.80,287.49 L77.05,289.85 L77.30,291.93 L77.55,293.71 L77.80,295.18 L78.05,296.32 L78.30,297.10 L78.55,297.48 L78.80,295.99 L79.05,294.11 L79.30,288.98 L79.55,286.80 L79.80,284.96 L80.05,283.40 L80.30,282.07 L80.55,280.95 L80.80,279.98 L81.05,279.15 L81.30,278.44 L81.55,277.82 L81.80,277.28 L82.05,276.82 L82.30,276.41 L82.55,276.05 L82.80,275.73 L83.05,275.45 L83.30,275.20 L83.55,274.97 L83.80,274.77 L84.05,274.59 L84.30,274.43 L84.55,274.28 L84.80,274.15 L85.05,274.02 L85.30,273.91 L85.55,273.81 L85.80,273.71 L86.05,273.63 L86.30,273.55 L86.55,273.47 L86.80,273.40 L87.05,273.34 L87.30,273.28 L87.55,273.22 L87.80,272.40 L88.05,272.40 L88.30,272.40 L88.55,272.40 L88.80,272.40 L89.05,272.40 L89.30,272.40 L89.55,272.40 L89.80,272.40 L90.05,272.40 L90.30,272.40 L90.55,272.40 L90.80,272.40 L91.05,272.40 L91.30,272.40 L91.55,272.40 L91.80,272.40 L92.05,272.40 L92.30,272.40 L92.55,272.40 L92.80,272.40 L93.05,272.40 L93.30,272.40 L93.55,272.40 L93.80,272.40 L94.05,272.40 L94.30,272.40 L94.55,275.33 L94.80,278.77 L95.05,281.94 L95.30,284.85 L95.55,287.49 L95.80,289.85 L96.05,291.93 L96.30,293.71 L96.55,295.18 L96.80,296.32 L97.05,297.10 L97.30,297.48 L97.55,295.99 L97.80,294.11 L98.05,288.98 L98.30,286.80 L98.55,284.96 L98.80,283.40 L99.05,282.07 L99.30,280.95 L99.55,279.98 L99.80,279.15 L100.05,278.44 L100.30,277.82 L100.55,277.28 L100.80,276.82 L101.05,276.41 L101.30,276.05 L101.55,275.73 L101.80,275.45 L102.05,275.20 L102.30,274.97 L102.55,274.77 L102.80,274.59 L103.05,274.43 L103.30,274.28 L103.55,274.15 L103.80,274.02 L104.05,273.91 L104.30,273.81 L104.55,273.71 L104.80,273.63 L105.05,273.55 L105.30,273.47 L105.55,273.40 L105.80,273.34 L106.05,273.28 L106.30,273.22 L106.55,272.40 L106.80,272.40 L107.05,272.40 L107.30,272.40 L107.55,272.40 L107.80,272.40 L108.05,272.40 L108.30,272.40 L108.55,272.40 L108.80,272.40 L109.05,272.40 L109.30,272.40 L109.55,272.40 L109.80,272.40 L110.05,272.40 L110.30,272.40 L110.55,272.40 L110.80,272.40 L111.05,272.40 L111.30,272.40 L111.55,272.40 L111.80,272.40 L112.05,272.40 L112.30,272.40 L112.55,272.40 L112.80,272.40 L113.05,272.40 L113.30,275.33 L113.55,278.77 L113.80,281.94 L114.05,284.85 L114.30,287.49 L114.55,289.85 L114.80,291.93 L115.05,293.71 L115.30,295.18 L115.55,296.32 L115.80,297.10 L116.05,297.48 L116.30,295.99 L116.55,294.11 L116.80,288.98 L117.05,286.80 L117.30,284.96 L117.55,283.40 L117.80,282.07 L118.05,280.95 L118.30,279.98 L118.55,279.15 L118.80,278.44 L119.05,277.82 L119.30,277.28 L119.55,276.82 L119.80,276.41 L120.05,276.05 L120.30,275.73 L120.55,275.45 L120.80,275.20 L121.05,274.97 L121.30,274.77 L121.55,274.59 L121.80,274.43 L122.05,274.28 L122.30,274.15 L122.55,274.02 L122.80,273.91 L123.05,273.81 L123.30,273.71 L123.55,273.63 L123.80,273.55 L124.05,273.47 L124.30,273.40 L124.55,273.34 L124.80,273.28 L125.05,273.22 L125.30,272.40 L125.55,272.40 L125.80,272.40 L126.05,272.40 L126.30,272.40 L126.55,272.40 L126.80,272.40 L127.05,272.40 L127.30,272.40 L127.55,272.40 L127.80,272.40 L128.05,272.40 L128.30,272.40 L128.55,272.40 L128.80,272.40 L129.05,272.40 L129.30,272.40 L129.55,272.40 L129.80,272.40 L130.05,272.40 L130.30,272.40 L130.55,272.40 L130.80,272.40 L131.05,272.40 L131.30,272.40 L131.55,272.40 L131.80,272.40 L132.05,275.33 L132.30,278.77 L132.55,281.94 L132.80,284.85 L133.05,287.49 L133.30,289.85 L133.55,291.93 L133.80,293.71 L134.05,295.18 L134.30,296.32 L134.55,297.10 L134.80,297.48 L135.05,295.99 L135.30,294.11 L135.55,288.98 L135.80,286.80 L136.05,284.96 L136.30,283.40 L136.55,282.07 L136.80,280.95 L137.05,279.98 L137.30,279.15 L137.55,278.44 L137.80,277.82 L138.05,277.28 L138.30,276.82 L138.55,276.41 L138.80,276.05 L139.05,275.73 L139.30,275.45 L139.55,275.20 L139.80,274.97 L140.05,274.77 L140.30,274.59 L140.55,274.43 L140.80,274.28 L141.05,274.15 L141.30,274.02 L141.55,273.91 L141.80,273.81 L142.05,273.71 L142.30,273.63 L142.55,273.55 L142.80,273.47 L143.05,273.40 L143.30,273.34 L143.55,273.28 L143.80,273.22 L144.05,272.40 L144.30,272.40 L144.55,272.40 L144.80,272.40 L145.05,272.40 L145.30,272.40 L145.55,272.40 L145.80,272.40 L146.05,272.40 L146.30,272.40 L146.55,272.40 L146.80,272.40 L147.05,272.40 L147.30,272.40 L147.55,272.40 L147.80,272.40 L148.05,272.40 L148.30,272.40 L148.55,272.40 L148.80,272.40 L149.05,272.40 L149.30,272.40 L149.55,272.40 L149.80,272.40 L150.05,272.40 L150.30,272.40 L150.55,272.40 L150.80,275.33 L151.05,278.77 L151.30,281.94 L151.55,284.85 L151.80,287.49 L152.05,289.85 L152.30,291.93 L152.55,293.71 L152.80,295.18 L153.05,296.32 L153.30,297.10 L153.55,297.48 L153.80,295.99 L154.05,294.11 L154.30,288.98 L154.55,286.80 L154.80,284.96 L155.05,283.40 L155.30,282.07 L155.55,280.95 L155.80,279.98 L156.05,279.15 L156.30,278.44 L156.55,277.82 L156.80,277.28 L157.05,276.82 L157.30,276.41 L157.55,276.05 L157.80,275.73 L158.05,275.45 L158.30,275.20 L158.55,274.97 L158.80,274.77 L159.05,274.59 L159.30,274.43 L159.55,274.28 L159.80,274.15 L160.05,274.02 L160.30,273.91 L160.55,273.81 L160.80,273.71 L161.05,273.63 L161.30,273.55 L161.55,273.47 L161.80,273.40 L162.05,273.34 L162.30,273.28 L162.55,273.22 L162.80,272.40 L163.05,272.40 L163.30,272.40 L163.55,272.40 L163.80,272.40 L164.05,272.40 L164.30,272.40 L164.55,272.40 L164.80,272.40 L165.05,272.40 L165.30,272.40 L165.55,272.40 L165.80,272.40 L166.05,272.40 L166.30,272.40 L166.55,272.40 L166.80,272.40 L167.05,272.40 L167.30,272.40 L167.55,272.40 L167.80,272.40 L168.05,272.40 L168.30,272.40 L168.55,272.40 L168.80,272.40 L169.05,272.40 L169.30,272.40 L169.55,275.33 L169.80,278.77 L170.05,281.94 L170.30,284.85 L170.55,287.49 L170.80,289.85 L171.05,291.93 L171.30,293.71 L171.55,295.18 L171.80,296.32 L172.05,297.10 L172.30,297.48 L172.55,295.99 L172.80,294.11 L173.05,288.98 L173.30,286.80 L173.55,284.96 L173.80,283.40 L174.05,282.07 L174.30,280.95 L174.55,279.98 L174.80,279.15 L175.05,278.44 L175.30,277.82 L175.55,277.28 L175.80,276.82 L176.05,276.41 L176.30,276.05 L176.55,275.73 L176.80,275.45 L177.05,275.20 L177.30,274.97 L177.55,274.77 L177.80,274.59 L178.05,274.43 L178.30,274.28 L178.55,274.15 L178.80,274.02 L179.05,273.91 L179.30,273.81 L179.55,273.71 L179.80,273.63 L180.05,273.55 L180.30,273.47 L180.55,273.40 L180.80,273.34 L181.05,273.28 L181.30,273.22 L181.55,272.40 L181.80,272.40 L182.05,272.40 L182.30,272.40 L182.55,272.40 L182.80,272.40 L183.05,272.40 L183.30,272.40 L183.55,272.40 L183.80,272.40 L184.05,272.40 L184.30,272.40 L184.55,272.40 L184.80,272.40 L185.05,272.40 L185.30,272.40 L185.55,272.40 L185.80,272.40 L186.05,272.40 L186.30,272.40 L186.55,272.40 L186.80,272.40 L187.05,272.40 L187.30,272.40 L187.55,272.40 L187.80,272.40 L188.05,272.40 L188.30,275.33 L188.55,278.77 L188.80,281.94 L189.05,284.85 L189.30,287.49 L189.55,289.85 L189.80,291.93 L190.05,293.71 L190.30,295.18 L190.55,296.32 L190.80,297.10 L191.05,297.48 L191.30,295.99 L191.55,294.11 L191.80,288.98 L192.05,286.80 L192.30,284.96 L192.55,283.40 L192.80,282.07 L193.05,280.95 L193.30,279.98 L193.55,279.15 L193.80,278.44 L194.05,277.82 L194.30,277.28 L194.55,276.82 L194.80,276.41 L195.05,276.05 L195.30,275.73 L195.55,275.45 L195.80,275.20 L196.05,274.97 L196.30,274.77 L196.55,274.59 L196.80,274.43 L197.05,274.28 L197.30,274.15 L197.55,274.02 L197.80,273.91 L198.05,273.81 L198.30,273.71 L198.55,273.63 L198.80,273.55 L199.05,273.47 L199.30,273.40 L199.55,273.34 L199.80,273.28 L200.05,273.22 L200.30,272.40 L200.55,272.40 L200.80,272.40 L201.05,272.40 L201.30,272.40 L201.55,272.40 L201.80,272.40 L202.05,272.40 L202.30,272.40 L202.55,272.40 L202.80,272.40 L203.05,272.40 L203.30,272.40 L203.55,272.40 L203.80,272.40 L204.05,272.40 L204.30,272.40 L204.55,272.40 L204.80,272.40 L205.05,272.40 L205.30,272.40 L205.55,272.40 L205.80,272.40 L206.05,272.40 L206.30,272.40 L206.55,272.40 L206.80,272.40 L207.05,275.33 L207.30,278.77 L207.55,281.94 L207.80,284.85 L208.05,287.49 L208.30,289.85 L208.55,291.93 L208.80,293.71 L209.05,295.18 L209.30,296.32 L209.55,297.10 L209.80,297.48 L210.05,295.99 L210.30,294.11 L210.55,288.98 L210.80,286.80 L211.05,284.96 L211.30,283.40 L211.55,282.07 L211.80,280.95 L212.05,279.98 L212.30,279.15 L212.55,278.44 L212.80,277.82 L213.05,277.28 L213.30,276.82 L213.55,276.41 L213.80,276.05 L214.05,275.73 L214.30,275.45 L214.55,275.20 L214.80,274.97 L215.05,274.77 L215.30,274.59 L215.55,274.43 L215.80,274.28 L216.05,274.15 L216.30,274.02 L216.55,273.91 L216.80,273.81 L217.05,273.71 L217.30,273.63 L217.55,273.55 L217.80,273.47 L218.05,273.40 L218.30,273.34 L218.55,273.28 L218.80,273.22 L219.05,272.40 L219.30,272.40 L219.55,272.40 L219.80,272.40 L220.05,272.40 L220.30,272.40 L220.55,272.40 L220.80,272.40 L221.05,272.40 L221.30,272.40 L221.55,272.40 L221.80,272.40 L222.05,272.40 L222.30,272.40 L222.55,272.40 L222.80,272.40 L223.05,272.40 L223.30,272.40 L223.55,272.40 L223.80,272.40 L224.05,272.40 L224.30,272.40 L224.55,272.40 L224.80,272.40 L225.05,272.40 L225.30,272.40 L225.55,272.40 L225.80,275.33 L226.05,278.77 L226.30,281.94 L226.55,284.85 L226.80,287.49 L227.05,289.85 L227.30,291.93 L227.55,293.71 L227.80,295.18 L228.05,296.32 L228.30,297.10 L228.55,297.48 L228.80,295.99 L229.05,294.11 L229.30,288.98 L229.55,286.80 L229.80,284.96 L230.05,283.40 L230.30,282.07 L230.55,280.95 L230.80,279.98 L231.05,279.15 L231.30,278.44 L231.55,277.82 L231.80,277.28 L232.05,276.82 L232.30,276.41 L232.55,276.05 L232.80,275.73 L233.05,275.45 L233.30,275.20 L233.55,274.97 L233.80,274.77 L234.05,274.59 L234.30,274.43 L234.55,274.28 L234.80,274.15 L235.05,274.02 L235.30,273.91 L235.55,273.81 L235.80,273.71 L236.05,273.63 L236.30,273.55 L236.55,273.47 L236.80,273.40 L237.05,273.34 L237.30,273.28 L237.55,273.22 L237.80,272.40 L238.05,272.40 L238.30,272.40 L238.55,272.40 L238.80,272.40 L239.05,272.40 L239.30,272.40 L239.55,272.40 L239.80,272.40 L240.05,272.40 L240.30,272.40 L240.55,272.40 L240.80,272.40 L241.05,272.40 L241.30,272.40 L241.55,272.40 L241.80,272.40 L242.05,272.40 L242.30,272.40 L242.55,272.40 L242.80,272.40 L243.05,272.40 L243.30,272.40 L243.55,272.40 L243.80,272.40 L244.05,272.40 L244.30,272.40 L244.55,275.33 L244.80,278.77 L245.05,281.94 L245.30,284.85 L245.55,287.49 L245.80,289.85 L246.05,291.93 L246.30,293.71 L246.55,295.18 L246.80,296.32 L247.05,297.10 L247.30,297.48 L247.55,295.99 L247.80,294.11 L248.05,288.98 L248.30,286.80 L248.55,284.96 L248.80,283.40 L249.05,282.07 L249.30,280.95 L249.55,279.98 L249.80,279.15" fill="none" stroke="#ec6642" stroke-width="1.3" stroke-linejoin="round" />
<line x1="305.20" y1="259.90" x2="305.20" y2="363.95" stroke="#000" stroke-width="1.5" />
<line x1="304.45" y1="363.20" x2="493.40" y2="363.20" stroke="#000" stroke-width="1.5" />
<line x1="301.20" y1="260.40" x2="305.20" y2="260.40" stroke="#000" stroke-width="1.2" />
<text x="301.50" y="265.40" font-size="14" text-anchor="end" >1.9</text>
<line x1="301.20" y1="280.96" x2="305.20" y2="280.96" stroke="#000" stroke-width="1.2" />
<text x="301.50" y="285.96" font-size="14" text-anchor="end" >1.8</text>
<line x1="301.20" y1="301.52" x2="305.20" y2="301.52" stroke="#000" stroke-width="1.2" />
<text x="301.50" y="306.52" font-size="14" text-anchor="end" >1.7</text>
<line x1="301.20" y1="322.08" x2="305.20" y2="322.08" stroke="#000" stroke-width="1.2" />
<text x="301.50" y="327.08" font-size="14" text-anchor="end" >1.6</text>
<line x1="301.20" y1="342.64" x2="305.20" y2="342.64" stroke="#000" stroke-width="1.2" />
<text x="301.50" y="347.64" font-size="14" text-anchor="end" >1.5</text>
<line x1="301.20" y1="363.20" x2="305.20" y2="363.20" stroke="#000" stroke-width="1.2" />
<text x="301.50" y="368.20" font-size="14" text-anchor="end" >1.4</text>
<line x1="305.20" y1="363.20" x2="305.20" y2="366.40" stroke="#000" stroke-width="1.2" />
<text x="305.20" y="379.50" font-size="14" text-anchor="middle" >0</text>
<line x1="398.80" y1="363.20" x2="398.80" y2="366.40" stroke="#000" stroke-width="1.2" />
<text x="398.80" y="379.50" font-size="14" text-anchor="middle" >5</text>
<line x1="492.40" y1="363.20" x2="492.40" y2="366.40" stroke="#000" stroke-width="1.2" />
<text x="492.40" y="379.50" font-size="14" text-anchor="middle" >10</text>
<line x1="323.92" y1="363.20" x2="323.92" y2="365.40" stroke="#000" stroke-width="1.0" />
<line x1="342.64" y1="363.20" x2="342.64" y2="365.40" stroke="#000" stroke-width="1.0" />
<line x1="361.36" y1="363.20" x2="361.36" y2="365.40" stroke="#000" stroke-width="1.0" />
<line x1="380.08" y1="363.20" x2="380.08" y2="365.40" stroke="#000" stroke-width="1.0" />
<line x1="417.52" y1="363.20" x2="417.52" y2="365.40" stroke="#000" stroke-width="1.0" />
<line x1="436.24" y1="363.20" x2="436.24" y2="365.40" stroke="#000" stroke-width="1.0" />
<line x1="454.96" y1="363.20" x2="454.96" y2="365.40" stroke="#000" stroke-width="1.0" />
<line x1="473.68" y1="363.20" x2="473.68" y2="365.40" stroke="#000" stroke-width="1.0" />
<text x="398.80" y="398.40" font-size="14" text-anchor="middle" >Time&#160;&#160;(sec)</text>
<text x="399.00" y="260.20" font-size="14" text-anchor="middle" >C11 (10 µM)</text>
<path d="M305.50,270.60 L305.75,270.60 L306.00,270.60 L306.25,270.60 L306.50,270.60 L306.75,270.60 L307.00,270.60 L307.25,270.60 L307.50,270.60 L307.75,270.60 L308.00,270.60 L308.25,270.60 L308.50,270.60 L308.75,270.60 L309.00,270.60 L309.25,270.60 L309.50,270.60 L309.75,270.60 L310.00,270.60 L310.25,270.60 L310.50,270.60 L310.75,270.60 L311.00,270.60 L311.25,270.60 L311.50,270.60 L311.75,270.60 L312.00,270.60 L312.25,270.60 L312.50,270.60 L312.75,270.60 L313.00,270.60 L313.25,270.60 L313.50,270.60 L313.75,270.60 L314.00,270.60 L314.25,270.60 L314.50,270.60 L314.75,270.60 L315.00,270.60 L315.25,270.60 L315.50,270.60 L315.75,270.60 L316.00,270.60 L316.25,270.60 L316.50,270.60 L316.75,270.60 L317.00,270.60 L317.25,272.96 L317.50,276.81 L317.75,280.52 L318.00,284.10 L318.25,287.52 L318.50,290.76 L318.75,293.81 L319.00,296.62 L319.25,299.15 L319.50,301.27 L319.75,302.37 L320.00,301.51 L320.25,299.47 L320.50,296.41 L320.75,292.58 L321.00,288.28 L321.25,283.84 L321.50,279.60 L321.75,275.91 L322.00,273.04 L322.25,271.22 L322.50,270.60 L322.75,270.60 L323.00,270.60 L323.25,270.60 L323.50,270.60 L323.75,270.60 L324.00,270.60 L324.25,270.60 L324.50,270.60 L324.75,270.60 L325.00,270.60 L325.25,270.60 L325.50,270.60 L325.75,270.60 L326.00,270.60 L326.25,270.60 L326.50,270.60 L326.75,270.60 L327.00,270.60 L327.25,270.60 L327.50,270.60 L327.75,270.60 L328.00,270.60 L328.25,270.60 L328.50,270.60 L328.75,270.60 L329.00,270.60 L329.25,270.60 L329.50,270.60 L329.75,270.60 L330.00,270.60 L330.25,270.60 L330.50,270.60 L330.75,270.60 L331.00,270.60 L331.25,270.60 L331.50,270.60 L331.75,270.60 L332.00,270.60 L332.25,270.60 L332.50,270.60 L332.75,270.60 L333.00,270.60 L333.25,270.60 L333.50,270.60 L333.75,270.60 L334.00,270.60 L334.25,270.60 L334.50,270.60 L334.75,270.60 L335.00,270.60 L335.25,270.60 L335.50,270.60 L335.75,270.60 L336.00,272.09 L336.25,275.74 L336.50,279.27 L336.75,282.67 L337.00,285.93 L337.25,289.02 L337.50,291.94 L337.75,294.64 L338.00,297.08 L338.25,299.17 L338.50,300.60 L338.75,300.01 L339.00,298.30 L339.25,295.60 L339.50,292.11 L339.75,288.11 L340.00,283.92 L340.25,279.86 L340.50,276.25 L340.75,273.37 L341.00,271.44 L341.25,270.62 L341.50,270.60 L341.75,270.60 L342.00,270.60 L342.25,270.60 L342.50,270.60 L342.75,270.60 L343.00,270.60 L343.25,270.60 L343.50,270.60 L343.75,270.60 L344.00,270.60 L344.25,270.60 L344.50,270.60 L344.75,270.60 L345.00,270.60 L345.25,270.60 L345.50,270.60 L345.75,270.60 L346.00,270.60 L346.25,270.60 L346.50,270.60 L346.75,270.60 L347.00,270.60 L347.25,270.60 L347.50,270.60 L347.75,270.60 L348.00,270.60 L348.25,270.60 L348.50,270.60 L348.75,270.60 L349.00,270.60 L349.25,270.60 L349.50,270.60 L349.75,270.60 L350.00,270.60 L350.25,270.60 L350.50,270.60 L350.75,270.60 L351.00,270.60 L351.25,270.60 L351.50,270.60 L351.75,270.60 L352.00,270.60 L352.25,270.60 L352.50,270.60 L352.75,270.60 L353.00,270.60 L353.25,270.60 L353.50,270.60 L353.75,270.60 L354.00,270.60 L354.25,270.60 L354.50,270.60 L354.75,271.38 L355.00,275.18 L355.25,278.87 L355.50,282.42 L355.75,285.82 L356.00,289.07 L356.25,292.13 L356.50,294.98 L356.75,297.57 L357.00,299.82 L357.25,301.52 L357.50,301.31 L357.75,299.76 L358.00,297.15 L358.25,293.67 L358.50,289.61 L358.75,285.28 L359.00,281.01 L359.25,277.15 L359.50,273.99 L359.75,271.78 L360.00,270.70 L360.25,270.60 L360.50,270.60 L360.75,270.60 L361.00,270.60 L361.25,270.60 L361.50,270.60 L361.75,270.60 L362.00,270.60 L362.25,270.60 L362.50,270.60 L362.75,270.60 L363.00,270.60 L363.25,270.60 L363.50,270.60 L363.75,270.60 L364.00,270.60 L364.25,270.60 L364.50,270.60 L364.75,270.60 L365.00,270.60 L365.25,270.60 L365.50,270.60 L365.75,270.60 L366.00,270.60 L366.25,270.60 L366.50,270.60 L366.75,270.60 L367.00,270.60 L367.25,270.60 L367.50,270.60 L367.75,270.60 L368.00,270.60 L368.25,270.60 L368.50,270.60 L368.75,270.60 L369.00,270.60 L369.25,270.60 L369.50,270.60 L369.75,270.60 L370.00,270.60 L370.25,270.60 L370.50,270.60 L370.75,270.60 L371.00,270.60 L371.25,270.60 L371.50,270.60 L371.75,270.60 L372.00,270.60 L372.25,270.60 L372.50,270.60 L372.75,270.60 L373.00,270.60 L373.25,270.60 L373.50,270.60 L373.75,274.52 L374.00,278.31 L374.25,281.97 L374.50,285.48 L374.75,288.84 L375.00,292.01 L375.25,294.97 L375.50,297.67 L375.75,300.05 L376.00,301.94 L376.25,302.18 L376.50,300.83 L376.75,298.36 L377.00,294.96 L377.25,290.90 L377.50,286.50 L377.75,282.10 L378.00,278.04 L378.25,274.64 L378.50,272.17 L378.75,270.82 L379.00,270.60 L379.25,270.60 L379.50,270.60 L379.75,270.60 L380.00,270.60 L380.25,270.60 L380.50,270.60 L380.75,270.60 L381.00,270.60 L381.25,270.60 L381.50,270.60 L381.75,270.60 L382.00,270.60 L382.25,270.60 L382.50,270.60 L382.75,270.60 L383.00,270.60 L383.25,270.60 L383.50,270.60 L383.75,270.60 L384.00,270.60 L384.25,270.60 L384.50,270.60 L384.75,270.60 L385.00,270.60 L385.25,270.60 L385.50,270.60 L385.75,270.60 L386.00,270.60 L386.25,270.60 L386.50,270.60 L386.75,270.60 L387.00,270.60 L387.25,270.60 L387.50,270.60 L387.75,270.60 L388.00,270.60 L388.25,270.60 L388.50,270.60 L388.75,270.60 L389.00,270.60 L389.25,270.60 L389.50,270.60 L389.75,270.60 L390.00,270.60 L390.25,270.60 L390.50,270.60 L390.75,270.60 L391.00,270.60 L391.25,270.60 L391.50,270.60 L391.75,270.60 L392.00,270.60 L392.25,270.60 L392.50,273.59 L392.75,277.23 L393.00,280.75 L393.25,284.12 L393.50,287.35 L393.75,290.41 L394.00,293.27 L394.25,295.90 L394.50,298.24 L394.75,300.16 L395.00,300.80 L395.25,299.75 L395.50,297.59 L395.75,294.52 L396.00,290.75 L396.25,286.60 L396.50,282.38 L396.75,278.42 L397.00,275.04 L397.25,272.49 L397.50,270.98 L397.75,270.60 L398.00,270.60 L398.25,270.60 L398.50,270.60 L398.75,270.60 L399.00,270.60 L399.25,270.60 L399.50,270.60 L399.75,270.60 L400.00,270.60 L400.25,270.60 L400.50,270.60 L400.75,270.60 L401.00,270.60 L401.25,270.60 L401.50,270.60 L401.75,270.60 L402.00,270.60 L402.25,270.60 L402.50,270.60 L402.75,270.60 L403.00,270.60 L403.25,270.60 L403.50,270.60 L403.75,270.60 L404.00,270.60 L404.25,270.60 L404.50,270.60 L404.75,270.60 L405.00,270.60 L405.25,270.60 L405.50,270.60 L405.75,270.60 L406.00,270.60 L406.25,270.60 L406.50,270.60 L406.75,270.60 L407.00,270.60 L407.25,270.60 L407.50,270.60 L407.75,270.60 L408.00,270.60 L408.25,270.60 L408.50,270.60 L408.75,270.60 L409.00,270.60 L409.25,270.60 L409.50,270.60 L409.75,270.60 L410.00,270.60 L410.25,270.60 L410.50,270.60 L410.75,270.60 L411.00,270.60 L411.25,272.90 L411.50,276.65 L411.75,280.27 L412.00,283.76 L412.25,287.09 L412.50,290.25 L412.75,293.23 L413.00,295.97 L413.25,298.43 L413.50,300.50 L413.75,301.58 L414.00,300.73 L414.25,298.74 L414.50,295.76 L414.75,292.03 L415.00,287.84 L415.25,283.50 L415.50,279.37 L415.75,275.77 L416.00,272.98 L416.25,271.21 L416.50,270.60 L416.75,270.60 L417.00,270.60 L417.25,270.60 L417.50,270.60 L417.75,270.60 L418.00,270.60 L418.25,270.60 L418.50,270.60 L418.75,270.60 L419.00,270.60 L419.25,270.60 L419.50,270.60 L419.75,270.60 L420.00,270.60 L420.25,270.60 L420.50,270.60 L420.75,270.60 L421.00,270.60 L421.25,270.60 L421.50,270.60 L421.75,270.60 L422.00,270.60 L422.25,270.60 L422.50,270.60 L422.75,270.60 L423.00,270.60 L423.25,270.60 L423.50,270.60 L423.75,270.60 L424.00,270.60 L424.25,270.60 L424.50,270.60 L424.75,270.60 L425.00,270.60 L425.25,270.60 L425.50,270.60 L425.75,270.60 L426.00,270.60 L426.25,270.60 L426.50,270.60 L426.75,270.60 L427.00,270.60 L427.25,270.60 L427.50,270.60 L427.75,270.60 L428.00,270.60 L428.25,270.60 L428.50,270.60 L428.75,270.60 L429.00,270.60 L429.25,270.60 L429.50,270.60 L429.75,270.60 L430.00,272.13 L430.25,275.86 L430.50,279.47 L430.75,282.95 L431.00,286.28 L431.25,289.45 L431.50,292.44 L431.75,295.20 L432.00,297.70 L432.25,299.84 L432.50,301.30 L432.75,300.70 L433.00,298.95 L433.25,296.18 L433.50,292.61 L433.75,288.52 L434.00,284.23 L434.25,280.08 L434.50,276.38 L434.75,273.43 L435.00,271.46 L435.25,270.62 L435.50,270.60 L435.75,270.60 L436.00,270.60 L436.25,270.60 L436.50,270.60 L436.75,270.60 L437.00,270.60 L437.25,270.60 L437.50,270.60 L437.75,270.60 L438.00,270.60 L438.25,270.60 L438.50,270.60 L438.75,270.60 L439.00,270.60 L439.25,270.60 L439.50,270.60 L439.75,270.60 L440.00,270.60 L440.25,270.60 L440.50,270.60 L440.75,270.60 L441.00,270.60 L441.25,270.60 L441.50,270.60 L441.75,270.60 L442.00,270.60 L442.25,270.60 L442.50,270.60 L442.75,270.60 L443.00,270.60 L443.25,270.60 L443.50,270.60 L443.75,270.60 L444.00,270.60 L444.25,270.60 L444.50,270.60 L444.75,270.60 L445.00,270.60 L445.25,270.60 L445.50,270.60 L445.75,270.60 L446.00,270.60 L446.25,270.60 L446.50,270.60 L446.75,270.60 L447.00,270.60 L447.25,270.60 L447.50,270.60 L447.75,270.60 L448.00,270.60 L448.25,270.60 L448.50,270.60 L448.75,271.35 L449.00,275.05 L449.25,278.63 L449.50,282.08 L449.75,285.38 L450.00,288.53 L450.25,291.51 L450.50,294.28 L450.75,296.79 L451.00,298.98 L451.25,300.62 L451.50,300.42 L451.75,298.92 L452.00,296.38 L452.25,293.00 L452.50,289.06 L452.75,284.85 L453.00,280.71 L453.25,276.96 L453.50,273.89 L453.75,271.75 L454.00,270.69 L454.25,270.60 L454.50,270.60 L454.75,270.60 L455.00,270.60 L455.25,270.60 L455.50,270.60 L455.75,270.60 L456.00,270.60 L456.25,270.60 L456.50,270.60 L456.75,270.60 L457.00,270.60 L457.25,270.60 L457.50,270.60 L457.75,270.60 L458.00,270.60 L458.25,270.60 L458.50,270.60 L458.75,270.60 L459.00,270.60 L459.25,270.60 L459.50,270.60 L459.75,270.60 L460.00,270.60 L460.25,270.60 L460.50,270.60 L460.75,270.60 L461.00,270.60 L461.25,270.60 L461.50,270.60 L461.75,270.60 L462.00,270.60 L462.25,270.60 L462.50,270.60 L462.75,270.60 L463.00,270.60 L463.25,270.60 L463.50,270.60 L463.75,270.60 L464.00,270.60 L464.25,270.60 L464.50,270.60 L464.75,270.60 L465.00,270.60 L465.25,270.60 L465.50,270.60 L465.75,270.60 L466.00,270.60 L466.25,270.60 L466.50,270.60 L466.75,270.60 L467.00,270.60 L467.25,270.60 L467.50,270.60 L467.75,274.54 L468.00,278.36 L468.25,282.04 L468.50,285.58 L468.75,288.95 L469.00,292.14 L469.25,295.12 L469.50,297.84 L469.75,300.24 L470.00,302.14 L470.25,302.37 L470.50,301.02 L470.75,298.53 L471.00,295.11 L471.25,291.03 L471.50,286.60 L471.75,282.17 L472.00,278.09 L472.25,274.67 L472.50,272.18 L472.75,270.83 L473.00,270.60 L473.25,270.60 L473.50,270.60 L473.75,270.60 L474.00,270.60 L474.25,270.60 L474.50,270.60 L474.75,270.60 L475.00,270.60 L475.25,270.60 L475.50,270.60 L475.75,270.60 L476.00,270.60 L476.25,270.60 L476.50,270.60 L476.75,270.60 L477.00,270.60 L477.25,270.60 L477.50,270.60 L477.75,270.60 L478.00,270.60 L478.25,270.60 L478.50,270.60 L478.75,270.60 L479.00,270.60 L479.25,270.60 L479.50,270.60 L479.75,270.60 L480.00,270.60 L480.25,270.60 L480.50,270.60 L480.75,270.60 L481.00,270.60 L481.25,270.60 L481.50,270.60 L481.75,270.60 L482.00,270.60 L482.25,270.60 L482.50,270.60 L482.75,270.60 L483.00,270.60 L483.25,270.60 L483.50,270.60 L483.75,270.60 L484.00,270.60 L484.25,270.60 L484.50,270.60 L484.75,270.60 L485.00,270.60 L485.25,270.60 L485.50,270.60 L485.75,270.60 L486.00,270.60 L486.25,270.60 L486.50,273.66 L486.75,277.39 L487.00,280.98 L487.25,284.44 L487.50,287.74 L487.75,290.86 L488.00,293.79 L488.25,296.49 L488.50,298.88 L488.75,300.84 L489.00,301.50 L489.25,300.42 L489.50,298.22 L489.75,295.07 L490.00,291.22 L490.25,286.97 L490.50,282.65 L490.75,278.60 L491.00,275.14 L491.25,272.53 L491.50,270.99 L491.75,270.60 L492.00,270.60 L492.25,270.60" fill="none" stroke="#ec6642" stroke-width="1.3" stroke-linejoin="round" />
<line x1="651.10" y1="30.20" x2="655.10" y2="30.20" stroke="#000" stroke-width="1.2" />
<text x="651.50" y="35.20" font-size="14" text-anchor="end" >200</text>
<line x1="651.10" y1="59.00" x2="655.10" y2="59.00" stroke="#000" stroke-width="1.2" />
<text x="651.50" y="64.00" font-size="14" text-anchor="end" >150</text>
<line x1="651.10" y1="87.70" x2="655.10" y2="87.70" stroke="#000" stroke-width="1.2" />
<text x="651.50" y="92.70" font-size="14" text-anchor="end" >100</text>
<line x1="651.10" y1="116.50" x2="655.10" y2="116.50" stroke="#000" stroke-width="1.2" />
<text x="651.50" y="121.50" font-size="14" text-anchor="end" >50</text>
<line x1="651.10" y1="145.30" x2="655.10" y2="145.30" stroke="#000" stroke-width="1.2" />
<text x="651.50" y="150.30" font-size="14" text-anchor="end" >0</text>
<rect x="667.70" y="110.80" width="22.80" height="34.50" fill="#5b5b5b" stroke="#000" stroke-width="1.3" />
<rect x="703.00" y="66.70" width="23.40" height="78.60" fill="#5b5b5b" stroke="#000" stroke-width="1.3" />
<rect x="739.00" y="111.50" width="22.60" height="33.80" fill="#f3a68c" stroke="#ec6642" stroke-width="1.2" />
<rect x="774.50" y="111.50" width="22.80" height="33.80" fill="#f3a68c" stroke="#ec6642" stroke-width="1.2" />
<line x1="655.10" y1="29.70" x2="655.10" y2="146.00" stroke="#000" stroke-width="1.5" />
<line x1="654.40" y1="145.30" x2="810.50" y2="145.30" stroke="#000" stroke-width="1.5" />
<text x="592.60" y="164.50" font-size="14" >Iso (1 µM):</text>
<text x="677.90" y="163.50" font-size="14" text-anchor="middle" >&#8211;</text>
<text x="706.50" y="163.50" font-size="14" text-anchor="middle" >+</text>
<text x="758.40" y="163.50" font-size="14" text-anchor="middle" >&#8211;</text>
<text x="789.60" y="163.50" font-size="14" text-anchor="middle" >+</text>
<line x1="673.20" y1="170.20" x2="723.20" y2="170.20" stroke="#444" stroke-width="1.3" />
<line x1="744.00" y1="170.20" x2="793.80" y2="170.20" stroke="#444" stroke-width="1.3" />
<text x="700.40" y="187.00" font-size="14" text-anchor="middle" >DMSO</text>
<text x="700.40" y="202.70" font-size="14" text-anchor="middle" >(0.3%)</text>
<text x="768.30" y="187.00" font-size="14" text-anchor="middle" >C11</text>
<text x="768.30" y="202.70" font-size="14" text-anchor="middle" >(10 µM)</text>
<circle cx="671.20" cy="110.80" r="3" fill="#fff" stroke="#000" stroke-width="1"/>
<circle cx="677.30" cy="110.80" r="3" fill="#fff" stroke="#000" stroke-width="1"/>
<circle cx="683.40" cy="110.80" r="3" fill="#fff" stroke="#000" stroke-width="1"/>
<circle cx="689.50" cy="110.80" r="3" fill="#fff" stroke="#000" stroke-width="1"/>
<circle cx="742.00" cy="111.50" r="3" fill="#fff" stroke="#000" stroke-width="1"/>
<circle cx="748.10" cy="111.50" r="3" fill="#fff" stroke="#000" stroke-width="1"/>
<circle cx="754.20" cy="111.50" r="3" fill="#fff" stroke="#000" stroke-width="1"/>
<circle cx="760.30" cy="111.50" r="3" fill="#fff" stroke="#000" stroke-width="1"/>
<circle cx="777.50" cy="111.50" r="3" fill="#fff" stroke="#000" stroke-width="1"/>
<circle cx="783.60" cy="111.50" r="3" fill="#fff" stroke="#000" stroke-width="1"/>
<circle cx="789.70" cy="111.50" r="3" fill="#fff" stroke="#000" stroke-width="1"/>
<circle cx="795.80" cy="111.50" r="3" fill="#fff" stroke="#000" stroke-width="1"/>
<line x1="714.70" y1="63.00" x2="714.70" y2="70.00" stroke="#333" stroke-width="1.1" />
<line x1="710.00" y1="63.00" x2="719.50" y2="63.00" stroke="#333" stroke-width="1.1" />
<line x1="710.00" y1="70.00" x2="719.50" y2="70.00" stroke="#333" stroke-width="1.1" />
<circle cx="714.40" cy="58.50" r="3" fill="#fff" stroke="#000" stroke-width="1"/>
<circle cx="709.50" cy="64.00" r="3" fill="#fff" stroke="#000" stroke-width="1"/>
<circle cx="719.80" cy="69.00" r="3" fill="#fff" stroke="#000" stroke-width="1"/>
<circle cx="714.40" cy="74.50" r="3" fill="#fff" stroke="#000" stroke-width="1"/>
<path d="M678.60,54.50 L678.60,51.30 L713.20,51.30 L713.20,54.50" fill="none" stroke="#666" stroke-width="1.1"/>
<polygon points="690.30,42.80 691.12,44.77 693.25,44.94 691.63,46.33 692.12,48.41 690.30,47.30 688.48,48.41 688.97,46.33 687.35,44.94 689.48,44.77" fill="#000" stroke="#000" stroke-width="0.7" stroke-linejoin="round"/>
<polygon points="697.20,42.80 698.02,44.77 700.15,44.94 698.53,46.33 699.02,48.41 697.20,47.30 695.38,48.41 695.87,46.33 694.25,44.94 696.38,44.77" fill="#000" stroke="#000" stroke-width="0.7" stroke-linejoin="round"/>
<polygon points="704.10,42.80 704.92,44.77 707.05,44.94 705.43,46.33 705.92,48.41 704.10,47.30 702.28,48.41 702.77,46.33 701.15,44.94 703.28,44.77" fill="#000" stroke="#000" stroke-width="0.7" stroke-linejoin="round"/>
<path d="M715.60,54.50 L715.60,51.30 L750.50,51.30 L750.50,54.50" fill="none" stroke="#666" stroke-width="1.1"/>
<polygon points="726.80,42.80 727.62,44.77 729.75,44.94 728.13,46.33 728.62,48.41 726.80,47.30 724.98,48.41 725.47,46.33 723.85,44.94 725.98,44.77" fill="#000" stroke="#000" stroke-width="0.7" stroke-linejoin="round"/>
<polygon points="733.70,42.80 734.52,44.77 736.65,44.94 735.03,46.33 735.52,48.41 733.70,47.30 731.88,48.41 732.37,46.33 730.75,44.94 732.88,44.77" fill="#000" stroke="#000" stroke-width="0.7" stroke-linejoin="round"/>
<polygon points="740.60,42.80 741.42,44.77 743.55,44.94 741.93,46.33 742.42,48.41 740.60,47.30 738.78,48.41 739.27,46.33 737.65,44.94 739.78,44.77" fill="#000" stroke="#000" stroke-width="0.7" stroke-linejoin="round"/>
<path d="M714.40,38.50 L714.40,35.00 L786.40,35.00 L786.40,38.50" fill="none" stroke="#666" stroke-width="1.1"/>
<polygon points="744.00,26.50 744.82,28.47 746.95,28.64 745.33,30.03 745.82,32.11 744.00,31.00 742.18,32.11 742.67,30.03 741.05,28.64 743.18,28.47" fill="#000" stroke="#000" stroke-width="0.7" stroke-linejoin="round"/>
<polygon points="750.90,26.50 751.72,28.47 753.85,28.64 752.23,30.03 752.72,32.11 750.90,31.00 749.08,32.11 749.57,30.03 747.95,28.64 750.08,28.47" fill="#000" stroke="#000" stroke-width="0.7" stroke-linejoin="round"/>
<polygon points="757.80,26.50 758.62,28.47 760.75,28.64 759.13,30.03 759.62,32.11 757.80,31.00 755.98,32.11 756.47,30.03 754.85,28.64 756.98,28.47" fill="#000" stroke="#000" stroke-width="0.7" stroke-linejoin="round"/>
<text transform="translate(601.50,82.50) rotate(-90)" font-size="14" text-anchor="middle">Contraction</text>
<text transform="translate(617.00,82.50) rotate(-90)" font-size="14" text-anchor="middle">frequency (bpm)</text>
<line x1="649.60" y1="247.70" x2="653.60" y2="247.70" stroke="#000" stroke-width="1.2" />
<text x="650.00" y="252.70" font-size="14" text-anchor="end" >0.15</text>
<line x1="649.60" y1="286.20" x2="653.60" y2="286.20" stroke="#000" stroke-width="1.2" />
<text x="650.00" y="291.20" font-size="14" text-anchor="end" >0.10</text>
<line x1="649.60" y1="324.70" x2="653.60" y2="324.70" stroke="#000" stroke-width="1.2" />
<text x="650.00" y="329.70" font-size="14" text-anchor="end" >0.05</text>
<line x1="649.60" y1="363.20" x2="653.60" y2="363.20" stroke="#000" stroke-width="1.2" />
<text x="650.00" y="368.20" font-size="14" text-anchor="end" >0.00</text>
<rect x="666.20" y="353.30" width="22.80" height="9.90" fill="#5b5b5b" stroke="#000" stroke-width="1.3" />
<rect x="701.60" y="308.40" width="23.40" height="54.80" fill="#5b5b5b" stroke="#000" stroke-width="1.3" />
<rect x="737.70" y="352.00" width="22.60" height="11.20" fill="#f3a68c" stroke="#ec6642" stroke-width="1.2" />
<rect x="773.80" y="350.50" width="22.50" height="12.70" fill="#f3a68c" stroke="#ec6642" stroke-width="1.2" />
<line x1="653.60" y1="247.20" x2="653.60" y2="363.90" stroke="#000" stroke-width="1.5" />
<line x1="652.90" y1="363.20" x2="809.00" y2="363.20" stroke="#000" stroke-width="1.5" />
<text x="591.10" y="388.70" font-size="14" >Iso (1 µM):</text>
<text x="677.50" y="387.70" font-size="14" text-anchor="middle" >&#8211;</text>
<text x="711.50" y="387.70" font-size="14" text-anchor="middle" >+</text>
<text x="751.00" y="387.70" font-size="14" text-anchor="middle" >&#8211;</text>
<text x="783.80" y="387.70" font-size="14" text-anchor="middle" >+</text>
<line x1="665.00" y1="390.50" x2="713.20" y2="390.50" stroke="#444" stroke-width="1.3" />
<line x1="736.20" y1="390.50" x2="785.50" y2="390.50" stroke="#444" stroke-width="1.3" />
<text x="692.50" y="403.50" font-size="14" text-anchor="middle" >DMSO</text>
<text x="692.50" y="420.50" font-size="14" text-anchor="middle" >(0.3%)</text>
<text x="760.50" y="403.50" font-size="14" text-anchor="middle" >C11</text>
<text x="760.50" y="420.50" font-size="14" text-anchor="middle" >(10 µM)</text>
<circle cx="668.50" cy="354.30" r="3" fill="#fff" stroke="#000" stroke-width="1"/>
<circle cx="675.00" cy="350.00" r="3" fill="#fff" stroke="#000" stroke-width="1"/>
<circle cx="681.00" cy="353.00" r="3" fill="#fff" stroke="#000" stroke-width="1"/>
<circle cx="687.00" cy="352.50" r="3" fill="#fff" stroke="#000" stroke-width="1"/>
<circle cx="740.00" cy="351.50" r="3" fill="#fff" stroke="#000" stroke-width="1"/>
<circle cx="746.00" cy="350.00" r="3" fill="#fff" stroke="#000" stroke-width="1"/>
<circle cx="752.00" cy="352.00" r="3" fill="#fff" stroke="#000" stroke-width="1"/>
<circle cx="758.00" cy="351.50" r="3" fill="#fff" stroke="#000" stroke-width="1"/>
<circle cx="775.50" cy="347.00" r="3" fill="#fff" stroke="#000" stroke-width="1"/>
<circle cx="775.50" cy="354.00" r="3" fill="#fff" stroke="#000" stroke-width="1"/>
<circle cx="785.00" cy="349.00" r="3" fill="#fff" stroke="#000" stroke-width="1"/>
<circle cx="794.00" cy="351.00" r="3" fill="#fff" stroke="#000" stroke-width="1"/>
<line x1="713.40" y1="300.00" x2="713.40" y2="316.00" stroke="#222" stroke-width="1.1" />
<line x1="708.00" y1="300.00" x2="719.00" y2="300.00" stroke="#222" stroke-width="1.1" />
<line x1="706.00" y1="316.00" x2="721.00" y2="316.00" stroke="#222" stroke-width="1.1" />
<circle cx="713.40" cy="289.00" r="3" fill="#fff" stroke="#000" stroke-width="1"/>
<circle cx="713.40" cy="300.00" r="3" fill="#fff" stroke="#000" stroke-width="1"/>
<circle cx="708.00" cy="324.00" r="3" fill="#fff" stroke="#000" stroke-width="1"/>
<circle cx="718.50" cy="319.50" r="3" fill="#fff" stroke="#000" stroke-width="1"/>
<path d="M677.40,285.00 L677.40,281.60 L712.50,281.60 L712.50,285.00" fill="none" stroke="#666" stroke-width="1.1"/>
<polygon points="690.00,273.10 690.82,275.07 692.95,275.24 691.33,276.63 691.82,278.71 690.00,277.60 688.18,278.71 688.67,276.63 687.05,275.24 689.18,275.07" fill="#000" stroke="#000" stroke-width="0.7" stroke-linejoin="round"/>
<polygon points="696.90,273.10 697.72,275.07 699.85,275.24 698.23,276.63 698.72,278.71 696.90,277.60 695.08,278.71 695.57,276.63 693.95,275.24 696.08,275.07" fill="#000" stroke="#000" stroke-width="0.7" stroke-linejoin="round"/>
<polygon points="703.80,273.10 704.62,275.07 706.75,275.24 705.13,276.63 705.62,278.71 703.80,277.60 701.98,278.71 702.47,276.63 700.85,275.24 702.98,275.07" fill="#000" stroke="#000" stroke-width="0.7" stroke-linejoin="round"/>
<path d="M714.30,285.00 L714.30,281.60 L749.40,281.60 L749.40,285.00" fill="none" stroke="#666" stroke-width="1.1"/>
<polygon points="726.70,273.10 727.52,275.07 729.65,275.24 728.03,276.63 728.52,278.71 726.70,277.60 724.88,278.71 725.37,276.63 723.75,275.24 725.88,275.07" fill="#000" stroke="#000" stroke-width="0.7" stroke-linejoin="round"/>
<polygon points="733.60,273.10 734.42,275.07 736.55,275.24 734.93,276.63 735.42,278.71 733.60,277.60 731.78,278.71 732.27,276.63 730.65,275.24 732.78,275.07" fill="#000" stroke="#000" stroke-width="0.7" stroke-linejoin="round"/>
<polygon points="740.50,273.10 741.32,275.07 743.45,275.24 741.83,276.63 742.32,278.71 740.50,277.60 738.68,278.71 739.17,276.63 737.55,275.24 739.68,275.07" fill="#000" stroke="#000" stroke-width="0.7" stroke-linejoin="round"/>
<path d="M713.40,269.00 L713.40,265.30 L785.00,265.30 L785.00,269.00" fill="none" stroke="#666" stroke-width="1.1"/>
<polygon points="744.00,256.80 744.82,258.77 746.95,258.94 745.33,260.33 745.82,262.41 744.00,261.30 742.18,262.41 742.67,260.33 741.05,258.94 743.18,258.77" fill="#000" stroke="#000" stroke-width="0.7" stroke-linejoin="round"/>
<polygon points="750.90,256.80 751.72,258.77 753.85,258.94 752.23,260.33 752.72,262.41 750.90,261.30 749.08,262.41 749.57,260.33 747.95,258.94 750.08,258.77" fill="#000" stroke="#000" stroke-width="0.7" stroke-linejoin="round"/>
<polygon points="757.80,256.80 758.62,258.77 760.75,258.94 759.13,260.33 759.62,262.41 757.80,261.30 755.98,262.41 756.47,260.33 754.85,258.94 756.98,258.77" fill="#000" stroke="#000" stroke-width="0.7" stroke-linejoin="round"/>
<text transform="translate(594.30,297.00) rotate(-90)" font-size="14" text-anchor="middle">Standard deviation</text>
<text transform="translate(610.80,297.00) rotate(-90)" font-size="14" text-anchor="middle">(peak-peak interval)</text>
<line x1="58.30" y1="754.40" x2="62.30" y2="754.40" stroke="#000" stroke-width="1.2" />
<line x1="58.30" y1="754.40" x2="62.30" y2="754.40" stroke="#000" stroke-width="1.2" />
<text x="58.70" y="759.40" font-size="14" text-anchor="end" >60</text>
<line x1="58.30" y1="783.43" x2="62.30" y2="783.43" stroke="#000" stroke-width="1.2" />
<text x="58.70" y="788.43" font-size="14" text-anchor="end" >40</text>
<line x1="58.30" y1="812.47" x2="62.30" y2="812.47" stroke="#000" stroke-width="1.2" />
<text x="58.70" y="817.47" font-size="14" text-anchor="end" >20</text>
<line x1="58.30" y1="841.50" x2="62.30" y2="841.50" stroke="#000" stroke-width="1.2" />
<text x="58.70" y="846.50" font-size="14" text-anchor="end" >0</text>
<rect x="75.40" y="813.48" width="22.60" height="28.02" fill="#5b5b5b" stroke="#000" stroke-width="1.3" />
<rect x="110.20" y="765.00" width="23.40" height="76.50" fill="#5b5b5b" stroke="#000" stroke-width="1.3" />
<line x1="62.30" y1="731.80" x2="62.30" y2="842.20" stroke="#000" stroke-width="1.5" />
<line x1="61.60" y1="841.50" x2="217.80" y2="841.50" stroke="#000" stroke-width="1.5" />
<text x="1.80" y="864.20" font-size="14" >Iso (1 µM):</text>
<text x="84.00" y="863.20" font-size="14" text-anchor="middle" >&#8211;</text>
<text x="121.50" y="863.20" font-size="14" text-anchor="middle" >+</text>
<text x="157.60" y="863.20" font-size="14" text-anchor="middle" >&#8211;</text>
<text x="193.40" y="863.20" font-size="14" text-anchor="middle" >+</text>
<line x1="77.60" y1="864.50" x2="132.80" y2="864.50" stroke="#444" stroke-width="1.3" />
<line x1="148.10" y1="864.50" x2="203.30" y2="864.50" stroke="#444" stroke-width="1.3" />
<text x="105.00" y="878.60" font-size="14" text-anchor="middle" >DMSO</text>
<text x="105.00" y="894.60" font-size="14" text-anchor="middle" >(0.3%)</text>
<text x="175.00" y="878.60" font-size="14" text-anchor="middle" >C11</text>
<text x="175.00" y="894.60" font-size="14" text-anchor="middle" >(10 µM)</text>
<line x1="59.80" y1="826.98" x2="62.30" y2="826.98" stroke="#000" stroke-width="1.0" />
<line x1="59.80" y1="797.95" x2="62.30" y2="797.95" stroke="#000" stroke-width="1.0" />
<line x1="59.80" y1="768.92" x2="62.30" y2="768.92" stroke="#000" stroke-width="1.0" />
<line x1="59.80" y1="739.88" x2="62.30" y2="739.88" stroke="#000" stroke-width="1.0" />
<line x1="86.50" y1="800.42" x2="86.50" y2="826.26" stroke="#222" stroke-width="1.1" />
<line x1="81.00" y1="800.42" x2="92.00" y2="800.42" stroke="#222" stroke-width="1.1" />
<line x1="81.00" y1="826.26" x2="92.00" y2="826.26" stroke="#222" stroke-width="1.1" />
<circle cx="86.40" cy="776.00" r="3" fill="#fff" stroke="#000" stroke-width="1"/>
<circle cx="86.40" cy="817.50" r="3" fill="#fff" stroke="#000" stroke-width="1"/>
<circle cx="81.00" cy="826.00" r="3" fill="#fff" stroke="#000" stroke-width="1"/>
<circle cx="92.00" cy="826.00" r="3" fill="#fff" stroke="#000" stroke-width="1"/>
<line x1="121.90" y1="760.21" x2="121.90" y2="769.64" stroke="#222" stroke-width="1.1" />
<line x1="116.00" y1="760.21" x2="127.50" y2="760.21" stroke="#222" stroke-width="1.1" />
<line x1="116.00" y1="769.64" x2="127.50" y2="769.64" stroke="#222" stroke-width="1.1" />
<circle cx="117.00" cy="757.00" r="3" fill="#fff" stroke="#000" stroke-width="1"/>
<circle cx="127.00" cy="757.00" r="3" fill="#fff" stroke="#000" stroke-width="1"/>
<circle cx="121.90" cy="769.00" r="3" fill="#fff" stroke="#000" stroke-width="1"/>
<circle cx="121.90" cy="775.70" r="3" fill="#fff" stroke="#000" stroke-width="1"/>
<circle cx="150.00" cy="841.50" r="2.9" fill="#fff" stroke="#000" stroke-width="1"/>
<circle cx="155.80" cy="841.50" r="2.9" fill="#fff" stroke="#000" stroke-width="1"/>
<circle cx="161.60" cy="841.50" r="2.9" fill="#fff" stroke="#000" stroke-width="1"/>
<circle cx="167.40" cy="841.50" r="2.9" fill="#fff" stroke="#000" stroke-width="1"/>
<circle cx="184.80" cy="841.50" r="2.9" fill="#fff" stroke="#000" stroke-width="1"/>
<circle cx="190.60" cy="841.50" r="2.9" fill="#fff" stroke="#000" stroke-width="1"/>
<circle cx="196.40" cy="841.50" r="2.9" fill="#fff" stroke="#000" stroke-width="1"/>
<circle cx="202.20" cy="841.50" r="2.9" fill="#fff" stroke="#000" stroke-width="1"/>
<path d="M86.00,752.50 L86.00,749.20 L121.30,749.20 L121.30,752.50" fill="none" stroke="#666" stroke-width="1.1"/>
<polygon points="100.05,740.70 100.87,742.67 103.00,742.84 101.38,744.23 101.87,746.31 100.05,745.20 98.23,746.31 98.72,744.23 97.10,742.84 99.23,742.67" fill="#000" stroke="#000" stroke-width="0.7" stroke-linejoin="round"/>
<polygon points="106.95,740.70 107.77,742.67 109.90,742.84 108.28,744.23 108.77,746.31 106.95,745.20 105.13,746.31 105.62,744.23 104.00,742.84 106.13,742.67" fill="#000" stroke="#000" stroke-width="0.7" stroke-linejoin="round"/>
<path d="M123.00,752.50 L123.00,749.20 L157.50,749.20 L157.50,752.50" fill="none" stroke="#666" stroke-width="1.1"/>
<polygon points="133.10,740.70 133.92,742.67 136.05,742.84 134.43,744.23 134.92,746.31 133.10,745.20 131.28,746.31 131.77,744.23 130.15,742.84 132.28,742.67" fill="#000" stroke="#000" stroke-width="0.7" stroke-linejoin="round"/>
<polygon points="140.00,740.70 140.82,742.67 142.95,742.84 141.33,744.23 141.82,746.31 140.00,745.20 138.18,746.31 138.67,744.23 137.05,742.84 139.18,742.67" fill="#000" stroke="#000" stroke-width="0.7" stroke-linejoin="round"/>
<polygon points="146.90,740.70 147.72,742.67 149.85,742.84 148.23,744.23 148.72,746.31 146.90,745.20 145.08,746.31 145.57,744.23 143.95,742.84 146.08,742.67" fill="#000" stroke="#000" stroke-width="0.7" stroke-linejoin="round"/>
<path d="M121.60,736.30 L121.60,732.80 L192.00,732.80 L192.00,736.30" fill="none" stroke="#666" stroke-width="1.1"/>
<polygon points="150.10,724.30 150.92,726.27 153.05,726.44 151.43,727.83 151.92,729.91 150.10,728.79 148.28,729.91 148.77,727.83 147.15,726.44 149.28,726.27" fill="#000" stroke="#000" stroke-width="0.7" stroke-linejoin="round"/>
<polygon points="157.00,724.30 157.82,726.27 159.95,726.44 158.33,727.83 158.82,729.91 157.00,728.79 155.18,729.91 155.67,727.83 154.05,726.44 156.18,726.27" fill="#000" stroke="#000" stroke-width="0.7" stroke-linejoin="round"/>
<polygon points="163.90,724.30 164.72,726.27 166.85,726.44 165.23,727.83 165.72,729.91 163.90,728.79 162.08,729.91 162.57,727.83 160.95,726.44 163.08,726.27" fill="#000" stroke="#000" stroke-width="0.7" stroke-linejoin="round"/>
<text transform="translate(16.50,792.00) rotate(-90)" font-size="14" text-anchor="middle">SRE frequency</text>
<text transform="translate(34.00,792.00) rotate(-90)" font-size="14" text-anchor="middle">(% total cells)</text>
<rect x="63.00" y="440.00" width="257.00" height="213.50" fill="none" stroke="#bdbdbd" stroke-width="1.6" />
<text x="155.50" y="460.00" font-size="14" text-anchor="middle" >Basal</text>
<text x="268.50" y="461.80" font-size="14" text-anchor="middle" >Iso&#160;&#160;(1 µM)</text>
<text transform="translate(84,497) rotate(-90)" font-size="14" text-anchor="middle">DMSO (0.3%)</text>
<text transform="translate(84,603.5) rotate(-90)" font-size="14" text-anchor="middle">C11 (10 µM)</text>
<text transform="translate(35,553) rotate(-90)" font-size="14" text-anchor="middle">(<tspan font-style="italic">n</tspan>+1) peak-peak</text>
<text transform="translate(51.5,553) rotate(-90)" font-size="14" text-anchor="middle">interval (sec)</text>
<text x="194" y="671" font-size="14" text-anchor="middle">(<tspan font-style="italic">n</tspan>) peak-peak</text>
<text x="194.00" y="685.50" font-size="14" text-anchor="middle" >interval (sec)</text>
<line x1="115.50" y1="471.10" x2="115.50" y2="523.10" stroke="#333" stroke-width="1.0" />
<line x1="114.50" y1="522.60" x2="192.30" y2="522.60" stroke="#333" stroke-width="1.0" />
<line x1="112.50" y1="475.80" x2="115.50" y2="475.80" stroke="#000" stroke-width="1.0" />
<text x="111.20" y="480.80" font-size="14" text-anchor="end" >1.0</text>
<line x1="112.50" y1="499.20" x2="115.50" y2="499.20" stroke="#000" stroke-width="1.0" />
<text x="111.20" y="504.20" font-size="14" text-anchor="end" >0.5</text>
<line x1="112.50" y1="522.60" x2="115.50" y2="522.60" stroke="#000" stroke-width="1.0" />
<text x="111.20" y="527.60" font-size="14" text-anchor="end" >0.0</text>
<line x1="115.00" y1="522.60" x2="115.00" y2="525.60" stroke="#000" stroke-width="1.0" />
<text x="115.00" y="538.50" font-size="14" text-anchor="middle" >0.0</text>
<line x1="149.75" y1="522.60" x2="149.75" y2="525.60" stroke="#000" stroke-width="1.0" />
<text x="149.75" y="538.50" font-size="14" text-anchor="middle" >0.5</text>
<line x1="184.50" y1="522.60" x2="184.50" y2="525.60" stroke="#000" stroke-width="1.0" />
<text x="184.50" y="538.50" font-size="14" text-anchor="middle" >1.0</text>
<line x1="118.47" y1="522.60" x2="118.47" y2="524.40" stroke="#000" stroke-width="0.8" />
<line x1="121.95" y1="522.60" x2="121.95" y2="524.40" stroke="#000" stroke-width="0.8" />
<line x1="125.42" y1="522.60" x2="125.42" y2="524.40" stroke="#000" stroke-width="0.8" />
<line x1="128.90" y1="522.60" x2="128.90" y2="524.40" stroke="#000" stroke-width="0.8" />
<line x1="132.38" y1="522.60" x2="132.38" y2="524.40" stroke="#000" stroke-width="0.8" />
<line x1="135.85" y1="522.60" x2="135.85" y2="524.40" stroke="#000" stroke-width="0.8" />
<line x1="139.32" y1="522.60" x2="139.32" y2="524.40" stroke="#000" stroke-width="0.8" />
<line x1="142.80" y1="522.60" x2="142.80" y2="524.40" stroke="#000" stroke-width="0.8" />
<line x1="146.28" y1="522.60" x2="146.28" y2="524.40" stroke="#000" stroke-width="0.8" />
<line x1="149.75" y1="522.60" x2="149.75" y2="524.40" stroke="#000" stroke-width="0.8" />
<line x1="153.22" y1="522.60" x2="153.22" y2="524.40" stroke="#000" stroke-width="0.8" />
<line x1="156.70" y1="522.60" x2="156.70" y2="524.40" stroke="#000" stroke-width="0.8" />
<line x1="160.18" y1="522.60" x2="160.18" y2="524.40" stroke="#000" stroke-width="0.8" />
<line x1="163.65" y1="522.60" x2="163.65" y2="524.40" stroke="#000" stroke-width="0.8" />
<line x1="167.12" y1="522.60" x2="167.12" y2="524.40" stroke="#000" stroke-width="0.8" />
<line x1="170.60" y1="522.60" x2="170.60" y2="524.40" stroke="#000" stroke-width="0.8" />
<line x1="174.07" y1="522.60" x2="174.07" y2="524.40" stroke="#000" stroke-width="0.8" />
<line x1="177.55" y1="522.60" x2="177.55" y2="524.40" stroke="#000" stroke-width="0.8" />
<line x1="181.03" y1="522.60" x2="181.03" y2="524.40" stroke="#000" stroke-width="0.8" />
<line x1="184.50" y1="522.60" x2="184.50" y2="524.40" stroke="#000" stroke-width="0.8" />
<line x1="187.97" y1="522.60" x2="187.97" y2="524.40" stroke="#000" stroke-width="0.8" />
<line x1="191.45" y1="522.60" x2="191.45" y2="524.40" stroke="#000" stroke-width="0.8" />
<line x1="116.00" y1="521.60" x2="188.50" y2="473.11" stroke="#ccc" stroke-width="0.8" stroke-dasharray="2.5,2"/>
<line x1="228.60" y1="471.10" x2="228.60" y2="523.10" stroke="#333" stroke-width="1.0" />
<line x1="227.60" y1="522.60" x2="305.40" y2="522.60" stroke="#333" stroke-width="1.0" />
<line x1="225.60" y1="475.80" x2="228.60" y2="475.80" stroke="#000" stroke-width="1.0" />
<text x="224.30" y="480.80" font-size="14" text-anchor="end" >1.0</text>
<line x1="225.60" y1="499.20" x2="228.60" y2="499.20" stroke="#000" stroke-width="1.0" />
<text x="224.30" y="504.20" font-size="14" text-anchor="end" >0.5</text>
<line x1="225.60" y1="522.60" x2="228.60" y2="522.60" stroke="#000" stroke-width="1.0" />
<text x="224.30" y="527.60" font-size="14" text-anchor="end" >0.0</text>
<line x1="228.10" y1="522.60" x2="228.10" y2="525.60" stroke="#000" stroke-width="1.0" />
<text x="228.10" y="538.50" font-size="14" text-anchor="middle" >0.0</text>
<line x1="263.25" y1="522.60" x2="263.25" y2="525.60" stroke="#000" stroke-width="1.0" />
<text x="263.25" y="538.50" font-size="14" text-anchor="middle" >0.5</text>
<line x1="298.40" y1="522.60" x2="298.40" y2="525.60" stroke="#000" stroke-width="1.0" />
<text x="298.40" y="538.50" font-size="14" text-anchor="middle" >1.0</text>
<line x1="231.61" y1="522.60" x2="231.61" y2="524.40" stroke="#000" stroke-width="0.8" />
<line x1="235.13" y1="522.60" x2="235.13" y2="524.40" stroke="#000" stroke-width="0.8" />
<line x1="238.64" y1="522.60" x2="238.64" y2="524.40" stroke="#000" stroke-width="0.8" />
<line x1="242.16" y1="522.60" x2="242.16" y2="524.40" stroke="#000" stroke-width="0.8" />
<line x1="245.67" y1="522.60" x2="245.67" y2="524.40" stroke="#000" stroke-width="0.8" />
<line x1="249.19" y1="522.60" x2="249.19" y2="524.40" stroke="#000" stroke-width="0.8" />
<line x1="252.70" y1="522.60" x2="252.70" y2="524.40" stroke="#000" stroke-width="0.8" />
<line x1="256.22" y1="522.60" x2="256.22" y2="524.40" stroke="#000" stroke-width="0.8" />
<line x1="259.74" y1="522.60" x2="259.74" y2="524.40" stroke="#000" stroke-width="0.8" />
<line x1="263.25" y1="522.60" x2="263.25" y2="524.40" stroke="#000" stroke-width="0.8" />
<line x1="266.76" y1="522.60" x2="266.76" y2="524.40" stroke="#000" stroke-width="0.8" />
<line x1="270.28" y1="522.60" x2="270.28" y2="524.40" stroke="#000" stroke-width="0.8" />
<line x1="273.79" y1="522.60" x2="273.79" y2="524.40" stroke="#000" stroke-width="0.8" />
<line x1="277.31" y1="522.60" x2="277.31" y2="524.40" stroke="#000" stroke-width="0.8" />
<line x1="280.82" y1="522.60" x2="280.82" y2="524.40" stroke="#000" stroke-width="0.8" />
<line x1="284.34" y1="522.60" x2="284.34" y2="524.40" stroke="#000" stroke-width="0.8" />
<line x1="287.85" y1="522.60" x2="287.85" y2="524.40" stroke="#000" stroke-width="0.8" />
<line x1="291.37" y1="522.60" x2="291.37" y2="524.40" stroke="#000" stroke-width="0.8" />
<line x1="294.88" y1="522.60" x2="294.88" y2="524.40" stroke="#000" stroke-width="0.8" />
<line x1="298.40" y1="522.60" x2="298.40" y2="524.40" stroke="#000" stroke-width="0.8" />
<line x1="301.91" y1="522.60" x2="301.91" y2="524.40" stroke="#000" stroke-width="0.8" />
<line x1="229.10" y1="521.60" x2="302.40" y2="473.14" stroke="#ccc" stroke-width="0.8" stroke-dasharray="2.5,2"/>
<line x1="115.50" y1="572.20" x2="115.50" y2="623.80" stroke="#333" stroke-width="1.0" />
<line x1="114.50" y1="623.30" x2="192.30" y2="623.30" stroke="#333" stroke-width="1.0" />
<line x1="112.50" y1="576.90" x2="115.50" y2="576.90" stroke="#000" stroke-width="1.0" />
<text x="111.20" y="581.90" font-size="14" text-anchor="end" >1.0</text>
<line x1="112.50" y1="600.10" x2="115.50" y2="600.10" stroke="#000" stroke-width="1.0" />
<text x="111.20" y="605.10" font-size="14" text-anchor="end" >0.5</text>
<line x1="112.50" y1="623.30" x2="115.50" y2="623.30" stroke="#000" stroke-width="1.0" />
<text x="111.20" y="628.30" font-size="14" text-anchor="end" >0.0</text>
<line x1="115.00" y1="623.30" x2="115.00" y2="626.30" stroke="#000" stroke-width="1.0" />
<text x="115.00" y="639.60" font-size="14" text-anchor="middle" >0.0</text>
<line x1="149.75" y1="623.30" x2="149.75" y2="626.30" stroke="#000" stroke-width="1.0" />
<text x="149.75" y="639.60" font-size="14" text-anchor="middle" >0.5</text>
<line x1="184.50" y1="623.30" x2="184.50" y2="626.30" stroke="#000" stroke-width="1.0" />
<text x="184.50" y="639.60" font-size="14" text-anchor="middle" >1.0</text>
<line x1="118.47" y1="623.30" x2="118.47" y2="625.10" stroke="#000" stroke-width="0.8" />
<line x1="121.95" y1="623.30" x2="121.95" y2="625.10" stroke="#000" stroke-width="0.8" />
<line x1="125.42" y1="623.30" x2="125.42" y2="625.10" stroke="#000" stroke-width="0.8" />
<line x1="128.90" y1="623.30" x2="128.90" y2="625.10" stroke="#000" stroke-width="0.8" />
<line x1="132.38" y1="623.30" x2="132.38" y2="625.10" stroke="#000" stroke-width="0.8" />
<line x1="135.85" y1="623.30" x2="135.85" y2="625.10" stroke="#000" stroke-width="0.8" />
<line x1="139.32" y1="623.30" x2="139.32" y2="625.10" stroke="#000" stroke-width="0.8" />
<line x1="142.80" y1="623.30" x2="142.80" y2="625.10" stroke="#000" stroke-width="0.8" />
<line x1="146.28" y1="623.30" x2="146.28" y2="625.10" stroke="#000" stroke-width="0.8" />
<line x1="149.75" y1="623.30" x2="149.75" y2="625.10" stroke="#000" stroke-width="0.8" />
<line x1="153.22" y1="623.30" x2="153.22" y2="625.10" stroke="#000" stroke-width="0.8" />
<line x1="156.70" y1="623.30" x2="156.70" y2="625.10" stroke="#000" stroke-width="0.8" />
<line x1="160.18" y1="623.30" x2="160.18" y2="625.10" stroke="#000" stroke-width="0.8" />
<line x1="163.65" y1="623.30" x2="163.65" y2="625.10" stroke="#000" stroke-width="0.8" />
<line x1="167.12" y1="623.30" x2="167.12" y2="625.10" stroke="#000" stroke-width="0.8" />
<line x1="170.60" y1="623.30" x2="170.60" y2="625.10" stroke="#000" stroke-width="0.8" />
<line x1="174.07" y1="623.30" x2="174.07" y2="625.10" stroke="#000" stroke-width="0.8" />
<line x1="177.55" y1="623.30" x2="177.55" y2="625.10" stroke="#000" stroke-width="0.8" />
<line x1="181.03" y1="623.30" x2="181.03" y2="625.10" stroke="#000" stroke-width="0.8" />
<line x1="184.50" y1="623.30" x2="184.50" y2="625.10" stroke="#000" stroke-width="0.8" />
<line x1="187.97" y1="623.30" x2="187.97" y2="625.10" stroke="#000" stroke-width="0.8" />
<line x1="191.45" y1="623.30" x2="191.45" y2="625.10" stroke="#000" stroke-width="0.8" />
<line x1="116.00" y1="622.30" x2="188.50" y2="574.23" stroke="#ccc" stroke-width="0.8" stroke-dasharray="2.5,2"/>
<line x1="228.60" y1="572.20" x2="228.60" y2="623.80" stroke="#333" stroke-width="1.0" />
<line x1="227.60" y1="623.30" x2="305.40" y2="623.30" stroke="#333" stroke-width="1.0" />
<line x1="225.60" y1="576.90" x2="228.60" y2="576.90" stroke="#000" stroke-width="1.0" />
<text x="224.30" y="581.90" font-size="14" text-anchor="end" >1.0</text>
<line x1="225.60" y1="600.10" x2="228.60" y2="600.10" stroke="#000" stroke-width="1.0" />
<text x="224.30" y="605.10" font-size="14" text-anchor="end" >0.5</text>
<line x1="225.60" y1="623.30" x2="228.60" y2="623.30" stroke="#000" stroke-width="1.0" />
<text x="224.30" y="628.30" font-size="14" text-anchor="end" >0.0</text>
<line x1="228.10" y1="623.30" x2="228.10" y2="626.30" stroke="#000" stroke-width="1.0" />
<text x="228.10" y="639.60" font-size="14" text-anchor="middle" >0.0</text>
<line x1="263.25" y1="623.30" x2="263.25" y2="626.30" stroke="#000" stroke-width="1.0" />
<text x="263.25" y="639.60" font-size="14" text-anchor="middle" >0.5</text>
<line x1="298.40" y1="623.30" x2="298.40" y2="626.30" stroke="#000" stroke-width="1.0" />
<text x="298.40" y="639.60" font-size="14" text-anchor="middle" >1.0</text>
<line x1="231.61" y1="623.30" x2="231.61" y2="625.10" stroke="#000" stroke-width="0.8" />
<line x1="235.13" y1="623.30" x2="235.13" y2="625.10" stroke="#000" stroke-width="0.8" />
<line x1="238.64" y1="623.30" x2="238.64" y2="625.10" stroke="#000" stroke-width="0.8" />
<line x1="242.16" y1="623.30" x2="242.16" y2="625.10" stroke="#000" stroke-width="0.8" />
<line x1="245.67" y1="623.30" x2="245.67" y2="625.10" stroke="#000" stroke-width="0.8" />
<line x1="249.19" y1="623.30" x2="249.19" y2="625.10" stroke="#000" stroke-width="0.8" />
<line x1="252.70" y1="623.30" x2="252.70" y2="625.10" stroke="#000" stroke-width="0.8" />
<line x1="256.22" y1="623.30" x2="256.22" y2="625.10" stroke="#000" stroke-width="0.8" />
<line x1="259.74" y1="623.30" x2="259.74" y2="625.10" stroke="#000" stroke-width="0.8" />
<line x1="263.25" y1="623.30" x2="263.25" y2="625.10" stroke="#000" stroke-width="0.8" />
<line x1="266.76" y1="623.30" x2="266.76" y2="625.10" stroke="#000" stroke-width="0.8" />
<line x1="270.28" y1="623.30" x2="270.28" y2="625.10" stroke="#000" stroke-width="0.8" />
<line x1="273.79" y1="623.30" x2="273.79" y2="625.10" stroke="#000" stroke-width="0.8" />
<line x1="277.31" y1="623.30" x2="277.31" y2="625.10" stroke="#000" stroke-width="0.8" />
<line x1="280.82" y1="623.30" x2="280.82" y2="625.10" stroke="#000" stroke-width="0.8" />
<line x1="284.34" y1="623.30" x2="284.34" y2="625.10" stroke="#000" stroke-width="0.8" />
<line x1="287.85" y1="623.30" x2="287.85" y2="625.10" stroke="#000" stroke-width="0.8" />
<line x1="291.37" y1="623.30" x2="291.37" y2="625.10" stroke="#000" stroke-width="0.8" />
<line x1="294.88" y1="623.30" x2="294.88" y2="625.10" stroke="#000" stroke-width="0.8" />
<line x1="298.40" y1="623.30" x2="298.40" y2="625.10" stroke="#000" stroke-width="0.8" />
<line x1="301.91" y1="623.30" x2="301.91" y2="625.10" stroke="#000" stroke-width="0.8" />
<line x1="229.10" y1="622.30" x2="302.40" y2="574.26" stroke="#ccc" stroke-width="0.8" stroke-dasharray="2.5,2"/>
<rect x="184.20" y="475.27" width="1.60" height="1.60" fill="#000"/>
<rect x="183.76" y="474.20" width="1.60" height="1.60" fill="#000"/>
<rect x="183.47" y="474.11" width="1.60" height="1.60" fill="#000"/>
<rect x="184.30" y="476.21" width="1.60" height="1.60" fill="#000"/>
<rect x="183.41" y="474.44" width="1.60" height="1.60" fill="#000"/>
<rect x="184.98" y="475.32" width="1.60" height="1.60" fill="#000"/>
<rect x="184.37" y="474.16" width="1.60" height="1.60" fill="#000"/>
<rect x="184.15" y="475.63" width="1.60" height="1.60" fill="#000"/>
<rect x="182.05" y="474.59" width="1.60" height="1.60" fill="#000"/>
<rect x="181.16" y="473.84" width="1.60" height="1.60" fill="#000"/>
<rect x="181.25" y="474.79" width="1.60" height="1.60" fill="#000"/>
<rect x="182.17" y="475.24" width="1.60" height="1.60" fill="#000"/>
<rect x="184.45" y="474.83" width="1.60" height="1.60" fill="#000"/>
<rect x="180.17" y="474.52" width="1.60" height="1.60" fill="#000"/>
<rect x="184.12" y="475.10" width="1.60" height="1.60" fill="#000"/>
<rect x="181.75" y="474.57" width="1.60" height="1.60" fill="#000"/>
<rect x="182.63" y="474.27" width="1.60" height="1.60" fill="#000"/>
<rect x="185.90" y="474.27" width="1.60" height="1.60" fill="#000"/>
<rect x="184.15" y="475.80" width="1.60" height="1.60" fill="#000"/>
<rect x="183.27" y="474.90" width="1.60" height="1.60" fill="#000"/>
<rect x="184.38" y="475.06" width="1.60" height="1.60" fill="#000"/>
<rect x="182.24" y="475.07" width="1.60" height="1.60" fill="#000"/>
<rect x="186.37" y="473.61" width="1.60" height="1.60" fill="#000"/>
<rect x="185.58" y="475.11" width="1.60" height="1.60" fill="#000"/>
<rect x="183.17" y="476.80" width="1.60" height="1.60" fill="#000"/>
<rect x="185.42" y="473.92" width="1.60" height="1.60" fill="#000"/>
<rect x="184.32" y="475.52" width="1.60" height="1.60" fill="#000"/>
<rect x="183.90" y="475.61" width="1.60" height="1.60" fill="#000"/>
<rect x="184.09" y="475.60" width="1.60" height="1.60" fill="#000"/>
<rect x="186.50" y="474.39" width="1.60" height="1.60" fill="#000"/>
<rect x="184.53" y="474.58" width="1.60" height="1.60" fill="#000"/>
<rect x="184.40" y="473.93" width="1.60" height="1.60" fill="#000"/>
<rect x="183.27" y="474.82" width="1.60" height="1.60" fill="#000"/>
<rect x="185.64" y="476.03" width="1.60" height="1.60" fill="#000"/>
<rect x="182.08" y="474.28" width="1.60" height="1.60" fill="#000"/>
<rect x="185.24" y="473.21" width="1.60" height="1.60" fill="#000"/>
<rect x="183.46" y="474.91" width="1.60" height="1.60" fill="#000"/>
<rect x="186.21" y="475.62" width="1.60" height="1.60" fill="#000"/>
<rect x="183.68" y="474.67" width="1.60" height="1.60" fill="#000"/>
<rect x="183.80" y="476.37" width="1.60" height="1.60" fill="#000"/>
<rect x="261.11" y="496.99" width="1.40" height="1.40" fill="#000"/>
<rect x="264.30" y="499.27" width="1.40" height="1.40" fill="#000"/>
<rect x="262.73" y="496.56" width="1.40" height="1.40" fill="#000"/>
<rect x="263.00" y="497.90" width="1.40" height="1.40" fill="#000"/>
<rect x="267.16" y="502.38" width="1.40" height="1.40" fill="#000"/>
<rect x="262.07" y="499.29" width="1.40" height="1.40" fill="#000"/>
<rect x="260.43" y="498.96" width="1.40" height="1.40" fill="#000"/>
<rect x="262.22" y="499.23" width="1.40" height="1.40" fill="#000"/>
<rect x="256.92" y="495.58" width="1.40" height="1.40" fill="#000"/>
<rect x="257.09" y="491.49" width="1.40" height="1.40" fill="#000"/>
<rect x="262.11" y="496.55" width="1.40" height="1.40" fill="#000"/>
<rect x="261.64" y="501.80" width="1.40" height="1.40" fill="#000"/>
<rect x="259.64" y="495.53" width="1.40" height="1.40" fill="#000"/>
<rect x="263.19" y="499.67" width="1.40" height="1.40" fill="#000"/>
<rect x="262.11" y="497.78" width="1.40" height="1.40" fill="#000"/>
<rect x="265.29" y="501.00" width="1.40" height="1.40" fill="#000"/>
<rect x="258.35" y="495.70" width="1.40" height="1.40" fill="#000"/>
<rect x="263.68" y="497.24" width="1.40" height="1.40" fill="#000"/>
<rect x="264.48" y="498.08" width="1.40" height="1.40" fill="#000"/>
<rect x="266.70" y="501.28" width="1.40" height="1.40" fill="#000"/>
<rect x="263.54" y="497.98" width="1.40" height="1.40" fill="#000"/>
<rect x="263.76" y="495.63" width="1.40" height="1.40" fill="#000"/>
<rect x="257.59" y="496.01" width="1.40" height="1.40" fill="#000"/>
<rect x="252.96" y="494.03" width="1.40" height="1.40" fill="#000"/>
<rect x="254.66" y="494.91" width="1.40" height="1.40" fill="#000"/>
<rect x="258.48" y="497.29" width="1.40" height="1.40" fill="#000"/>
<rect x="264.46" y="496.88" width="1.40" height="1.40" fill="#000"/>
<rect x="266.90" y="503.60" width="1.40" height="1.40" fill="#000"/>
<rect x="262.63" y="497.98" width="1.40" height="1.40" fill="#000"/>
<rect x="262.78" y="496.84" width="1.40" height="1.40" fill="#000"/>
<rect x="267.81" y="500.67" width="1.40" height="1.40" fill="#000"/>
<rect x="263.10" y="497.35" width="1.40" height="1.40" fill="#000"/>
<rect x="261.03" y="495.23" width="1.40" height="1.40" fill="#000"/>
<rect x="268.18" y="501.58" width="1.40" height="1.40" fill="#000"/>
<rect x="266.81" y="501.04" width="1.40" height="1.40" fill="#000"/>
<rect x="259.99" y="496.27" width="1.40" height="1.40" fill="#000"/>
<rect x="260.30" y="497.05" width="1.40" height="1.40" fill="#000"/>
<rect x="261.33" y="497.14" width="1.40" height="1.40" fill="#000"/>
<rect x="257.45" y="493.87" width="1.40" height="1.40" fill="#000"/>
<rect x="270.28" y="501.96" width="1.40" height="1.40" fill="#000"/>
<rect x="257.94" y="496.18" width="1.40" height="1.40" fill="#000"/>
<rect x="269.84" y="500.31" width="1.40" height="1.40" fill="#000"/>
<rect x="262.31" y="497.15" width="1.40" height="1.40" fill="#000"/>
<rect x="254.61" y="494.85" width="1.40" height="1.40" fill="#000"/>
<rect x="262.54" y="498.53" width="1.40" height="1.40" fill="#000"/>
<rect x="259.14" y="497.12" width="1.40" height="1.40" fill="#000"/>
<rect x="260.51" y="496.91" width="1.40" height="1.40" fill="#000"/>
<rect x="258.93" y="494.05" width="1.40" height="1.40" fill="#000"/>
<rect x="268.79" y="501.34" width="1.40" height="1.40" fill="#000"/>
<rect x="263.97" y="499.22" width="1.40" height="1.40" fill="#000"/>
<rect x="261.22" y="496.70" width="1.40" height="1.40" fill="#000"/>
<rect x="265.62" y="499.76" width="1.40" height="1.40" fill="#000"/>
<rect x="262.04" y="498.13" width="1.40" height="1.40" fill="#000"/>
<rect x="267.19" y="502.44" width="1.40" height="1.40" fill="#000"/>
<rect x="264.77" y="498.78" width="1.40" height="1.40" fill="#000"/>
<rect x="256.06" y="496.11" width="1.40" height="1.40" fill="#000"/>
<rect x="266.93" y="500.84" width="1.40" height="1.40" fill="#000"/>
<rect x="264.40" y="500.91" width="1.40" height="1.40" fill="#000"/>
<rect x="265.52" y="501.85" width="1.40" height="1.40" fill="#000"/>
<rect x="259.57" y="499.25" width="1.40" height="1.40" fill="#000"/>
<rect x="256.71" y="496.35" width="1.40" height="1.40" fill="#000"/>
<rect x="264.12" y="500.91" width="1.40" height="1.40" fill="#000"/>
<rect x="269.55" y="505.30" width="1.40" height="1.40" fill="#000"/>
<rect x="259.14" y="493.35" width="1.40" height="1.40" fill="#000"/>
<rect x="266.98" y="499.33" width="1.40" height="1.40" fill="#000"/>
<rect x="261.99" y="499.54" width="1.40" height="1.40" fill="#000"/>
<rect x="257.34" y="491.51" width="1.40" height="1.40" fill="#000"/>
<rect x="263.77" y="499.23" width="1.40" height="1.40" fill="#000"/>
<rect x="261.62" y="497.91" width="1.40" height="1.40" fill="#000"/>
<rect x="260.21" y="494.32" width="1.40" height="1.40" fill="#000"/>
<rect x="262.75" y="496.82" width="1.40" height="1.40" fill="#000"/>
<rect x="255.29" y="494.86" width="1.40" height="1.40" fill="#000"/>
<rect x="262.12" y="498.86" width="1.40" height="1.40" fill="#000"/>
<rect x="259.00" y="495.08" width="1.40" height="1.40" fill="#000"/>
<rect x="259.13" y="494.76" width="1.40" height="1.40" fill="#000"/>
<rect x="264.15" y="498.01" width="1.40" height="1.40" fill="#000"/>
<rect x="263.95" y="499.86" width="1.40" height="1.40" fill="#000"/>
<rect x="272.43" y="502.00" width="1.40" height="1.40" fill="#000"/>
<rect x="266.56" y="500.70" width="1.40" height="1.40" fill="#000"/>
<rect x="263.78" y="496.61" width="1.40" height="1.40" fill="#000"/>
<rect x="260.16" y="498.25" width="1.40" height="1.40" fill="#000"/>
<rect x="262.28" y="498.39" width="1.40" height="1.40" fill="#000"/>
<rect x="260.56" y="499.22" width="1.40" height="1.40" fill="#000"/>
<rect x="264.33" y="495.63" width="1.40" height="1.40" fill="#000"/>
<rect x="261.29" y="494.18" width="1.40" height="1.40" fill="#000"/>
<rect x="249.25" y="489.34" width="1.40" height="1.40" fill="#000"/>
<rect x="268.35" y="502.04" width="1.40" height="1.40" fill="#000"/>
<rect x="258.44" y="494.24" width="1.40" height="1.40" fill="#000"/>
<rect x="267.40" y="501.65" width="1.40" height="1.40" fill="#000"/>
<rect x="262.95" y="498.56" width="1.40" height="1.40" fill="#000"/>
<rect x="262.23" y="499.63" width="1.40" height="1.40" fill="#000"/>
<rect x="264.89" y="500.22" width="1.40" height="1.40" fill="#000"/>
<rect x="257.85" y="496.43" width="1.40" height="1.40" fill="#000"/>
<rect x="258.93" y="498.11" width="1.40" height="1.40" fill="#000"/>
<rect x="257.39" y="495.01" width="1.40" height="1.40" fill="#000"/>
<rect x="263.71" y="496.79" width="1.40" height="1.40" fill="#000"/>
<rect x="268.90" y="504.86" width="1.40" height="1.40" fill="#000"/>
<rect x="260.12" y="498.28" width="1.40" height="1.40" fill="#000"/>
<rect x="266.36" y="496.14" width="1.40" height="1.40" fill="#000"/>
<rect x="263.82" y="499.07" width="1.40" height="1.40" fill="#000"/>
<rect x="263.90" y="497.34" width="1.40" height="1.40" fill="#000"/>
<rect x="261.69" y="497.57" width="1.40" height="1.40" fill="#000"/>
<rect x="267.51" y="502.03" width="1.40" height="1.40" fill="#000"/>
<rect x="261.48" y="500.44" width="1.40" height="1.40" fill="#000"/>
<rect x="260.64" y="496.55" width="1.40" height="1.40" fill="#000"/>
<rect x="253.72" y="495.77" width="1.40" height="1.40" fill="#000"/>
<rect x="266.10" y="502.19" width="1.40" height="1.40" fill="#000"/>
<rect x="265.47" y="500.39" width="1.40" height="1.40" fill="#000"/>
<rect x="263.82" y="498.74" width="1.40" height="1.40" fill="#000"/>
<rect x="261.79" y="498.04" width="1.40" height="1.40" fill="#000"/>
<rect x="268.71" y="503.16" width="1.40" height="1.40" fill="#000"/>
<rect x="262.90" y="497.61" width="1.40" height="1.40" fill="#000"/>
<rect x="258.74" y="498.89" width="1.40" height="1.40" fill="#000"/>
<rect x="264.81" y="499.91" width="1.40" height="1.40" fill="#000"/>
<rect x="262.09" y="496.18" width="1.40" height="1.40" fill="#000"/>
<rect x="261.73" y="499.44" width="1.40" height="1.40" fill="#000"/>
<rect x="261.20" y="497.18" width="1.40" height="1.40" fill="#000"/>
<rect x="261.67" y="498.06" width="1.40" height="1.40" fill="#000"/>
<rect x="256.09" y="494.04" width="1.40" height="1.40" fill="#000"/>
<rect x="258.36" y="497.40" width="1.40" height="1.40" fill="#000"/>
<rect x="258.96" y="497.23" width="1.40" height="1.40" fill="#000"/>
<rect x="269.45" y="502.08" width="1.40" height="1.40" fill="#000"/>
<rect x="259.98" y="497.18" width="1.40" height="1.40" fill="#000"/>
<rect x="263.47" y="497.22" width="1.40" height="1.40" fill="#000"/>
<rect x="263.09" y="502.28" width="1.40" height="1.40" fill="#000"/>
<rect x="261.76" y="497.57" width="1.40" height="1.40" fill="#000"/>
<rect x="257.99" y="496.18" width="1.40" height="1.40" fill="#000"/>
<rect x="258.25" y="493.83" width="1.40" height="1.40" fill="#000"/>
<rect x="268.87" y="500.68" width="1.40" height="1.40" fill="#000"/>
<rect x="266.12" y="503.27" width="1.40" height="1.40" fill="#000"/>
<rect x="263.37" y="499.88" width="1.40" height="1.40" fill="#000"/>
<rect x="271.18" y="503.34" width="1.40" height="1.40" fill="#000"/>
<rect x="261.23" y="495.22" width="1.40" height="1.40" fill="#000"/>
<rect x="261.72" y="500.50" width="1.40" height="1.40" fill="#000"/>
<rect x="267.53" y="499.80" width="1.40" height="1.40" fill="#000"/>
<rect x="259.45" y="495.62" width="1.40" height="1.40" fill="#000"/>
<rect x="264.11" y="499.00" width="1.40" height="1.40" fill="#000"/>
<rect x="263.38" y="499.44" width="1.40" height="1.40" fill="#000"/>
<rect x="261.46" y="497.67" width="1.40" height="1.40" fill="#000"/>
<rect x="263.65" y="498.93" width="1.40" height="1.40" fill="#000"/>
<rect x="263.38" y="502.21" width="1.40" height="1.40" fill="#000"/>
<rect x="265.18" y="500.12" width="1.40" height="1.40" fill="#000"/>
<rect x="255.20" y="494.60" width="1.40" height="1.40" fill="#000"/>
<rect x="255.50" y="491.62" width="1.40" height="1.40" fill="#000"/>
<rect x="265.79" y="501.63" width="1.40" height="1.40" fill="#000"/>
<rect x="263.40" y="495.92" width="1.40" height="1.40" fill="#000"/>
<rect x="261.65" y="496.66" width="1.40" height="1.40" fill="#000"/>
<rect x="263.65" y="503.05" width="1.40" height="1.40" fill="#000"/>
<rect x="264.24" y="498.07" width="1.40" height="1.40" fill="#000"/>
<rect x="257.75" y="495.37" width="1.40" height="1.40" fill="#000"/>
<rect x="262.85" y="496.57" width="1.40" height="1.40" fill="#000"/>
<rect x="264.10" y="497.33" width="1.40" height="1.40" fill="#000"/>
<rect x="266.61" y="502.76" width="1.40" height="1.40" fill="#000"/>
<rect x="267.70" y="500.72" width="1.40" height="1.40" fill="#000"/>
<rect x="265.00" y="499.67" width="1.40" height="1.40" fill="#000"/>
<rect x="261.31" y="497.05" width="1.40" height="1.40" fill="#000"/>
<rect x="258.29" y="493.26" width="1.40" height="1.40" fill="#000"/>
<rect x="266.24" y="500.33" width="1.40" height="1.40" fill="#000"/>
<rect x="262.84" y="500.35" width="1.40" height="1.40" fill="#000"/>
<rect x="255.92" y="492.97" width="1.40" height="1.40" fill="#000"/>
<rect x="263.14" y="499.46" width="1.40" height="1.40" fill="#000"/>
<rect x="260.29" y="498.83" width="1.40" height="1.40" fill="#000"/>
<rect x="264.55" y="497.50" width="1.40" height="1.40" fill="#000"/>
<rect x="258.10" y="497.10" width="1.40" height="1.40" fill="#000"/>
<rect x="266.16" y="497.28" width="1.40" height="1.40" fill="#000"/>
<rect x="267.98" y="502.78" width="1.40" height="1.40" fill="#000"/>
<rect x="268.73" y="501.51" width="1.40" height="1.40" fill="#000"/>
<rect x="262.32" y="496.29" width="1.40" height="1.40" fill="#000"/>
<rect x="273.66" y="504.90" width="1.40" height="1.40" fill="#000"/>
<rect x="269.98" y="501.81" width="1.40" height="1.40" fill="#000"/>
<rect x="264.71" y="496.79" width="1.40" height="1.40" fill="#000"/>
<rect x="260.30" y="498.76" width="1.40" height="1.40" fill="#000"/>
<rect x="256.52" y="496.61" width="1.40" height="1.40" fill="#000"/>
<rect x="264.96" y="498.04" width="1.40" height="1.40" fill="#000"/>
<rect x="260.92" y="496.60" width="1.40" height="1.40" fill="#000"/>
<rect x="262.91" y="497.68" width="1.40" height="1.40" fill="#000"/>
<rect x="259.41" y="495.95" width="1.40" height="1.40" fill="#000"/>
<rect x="259.33" y="494.17" width="1.40" height="1.40" fill="#000"/>
<rect x="261.80" y="499.50" width="1.40" height="1.40" fill="#000"/>
<rect x="256.17" y="494.51" width="1.40" height="1.40" fill="#000"/>
<rect x="260.69" y="495.55" width="1.40" height="1.40" fill="#000"/>
<rect x="266.75" y="500.06" width="1.40" height="1.40" fill="#000"/>
<rect x="269.70" y="501.41" width="1.40" height="1.40" fill="#000"/>
<rect x="264.53" y="499.22" width="1.40" height="1.40" fill="#000"/>
<rect x="259.02" y="497.28" width="1.40" height="1.40" fill="#000"/>
<rect x="261.57" y="498.87" width="1.40" height="1.40" fill="#000"/>
<rect x="263.35" y="496.99" width="1.40" height="1.40" fill="#000"/>
<rect x="262.22" y="498.30" width="1.40" height="1.40" fill="#000"/>
<rect x="267.50" y="499.84" width="1.40" height="1.40" fill="#000"/>
<rect x="263.88" y="496.19" width="1.40" height="1.40" fill="#000"/>
<rect x="266.33" y="498.82" width="1.40" height="1.40" fill="#000"/>
<rect x="255.04" y="493.71" width="1.40" height="1.40" fill="#000"/>
<rect x="268.61" y="499.43" width="1.40" height="1.40" fill="#000"/>
<rect x="258.64" y="494.71" width="1.40" height="1.40" fill="#000"/>
<rect x="257.59" y="496.04" width="1.40" height="1.40" fill="#000"/>
<rect x="259.82" y="495.47" width="1.40" height="1.40" fill="#000"/>
<rect x="265.78" y="499.06" width="1.40" height="1.40" fill="#000"/>
<rect x="265.31" y="498.39" width="1.40" height="1.40" fill="#000"/>
<rect x="258.97" y="492.99" width="1.40" height="1.40" fill="#000"/>
<rect x="270.89" y="502.95" width="1.40" height="1.40" fill="#000"/>
<rect x="263.76" y="499.10" width="1.40" height="1.40" fill="#000"/>
<rect x="263.34" y="498.98" width="1.40" height="1.40" fill="#000"/>
<rect x="271.65" y="502.15" width="1.40" height="1.40" fill="#000"/>
<rect x="256.85" y="493.14" width="1.40" height="1.40" fill="#000"/>
<rect x="256.42" y="495.97" width="1.40" height="1.40" fill="#000"/>
<rect x="266.95" y="499.41" width="1.40" height="1.40" fill="#000"/>
<rect x="257.05" y="494.42" width="1.40" height="1.40" fill="#000"/>
<rect x="270.84" y="498.52" width="1.40" height="1.40" fill="#000"/>
<rect x="265.79" y="498.50" width="1.40" height="1.40" fill="#000"/>
<rect x="267.98" y="499.84" width="1.40" height="1.40" fill="#000"/>
<rect x="262.66" y="495.83" width="1.40" height="1.40" fill="#000"/>
<rect x="257.45" y="497.72" width="1.40" height="1.40" fill="#000"/>
<rect x="266.51" y="500.13" width="1.40" height="1.40" fill="#000"/>
<rect x="260.47" y="493.81" width="1.40" height="1.40" fill="#000"/>
<rect x="261.05" y="497.43" width="1.40" height="1.40" fill="#000"/>
<rect x="262.41" y="498.16" width="1.40" height="1.40" fill="#000"/>
<rect x="257.97" y="495.49" width="1.40" height="1.40" fill="#000"/>
<rect x="261.52" y="500.05" width="1.40" height="1.40" fill="#000"/>
<rect x="270.77" y="503.20" width="1.40" height="1.40" fill="#000"/>
<rect x="259.48" y="496.42" width="1.40" height="1.40" fill="#000"/>
<rect x="260.69" y="495.96" width="1.40" height="1.40" fill="#000"/>
<rect x="263.27" y="497.01" width="1.40" height="1.40" fill="#000"/>
<rect x="265.37" y="499.95" width="1.40" height="1.40" fill="#000"/>
<rect x="263.91" y="498.92" width="1.40" height="1.40" fill="#000"/>
<rect x="260.34" y="495.39" width="1.40" height="1.40" fill="#000"/>
<rect x="262.12" y="497.18" width="1.40" height="1.40" fill="#000"/>
<rect x="263.70" y="499.10" width="1.40" height="1.40" fill="#000"/>
<rect x="256.84" y="495.03" width="1.40" height="1.40" fill="#000"/>
<rect x="257.46" y="494.21" width="1.40" height="1.40" fill="#000"/>
<rect x="263.07" y="495.08" width="1.40" height="1.40" fill="#000"/>
<rect x="262.97" y="498.93" width="1.40" height="1.40" fill="#000"/>
<rect x="262.36" y="497.54" width="1.40" height="1.40" fill="#000"/>
<rect x="261.87" y="496.28" width="1.40" height="1.40" fill="#000"/>
<rect x="261.98" y="497.09" width="1.40" height="1.40" fill="#000"/>
<rect x="264.03" y="497.20" width="1.40" height="1.40" fill="#000"/>
<rect x="263.59" y="499.30" width="1.40" height="1.40" fill="#000"/>
<rect x="262.44" y="497.57" width="1.40" height="1.40" fill="#000"/>
<rect x="266.36" y="497.81" width="1.40" height="1.40" fill="#000"/>
<rect x="264.47" y="500.01" width="1.40" height="1.40" fill="#000"/>
<rect x="263.61" y="499.73" width="1.40" height="1.40" fill="#000"/>
<rect x="260.12" y="496.46" width="1.40" height="1.40" fill="#000"/>
<rect x="265.08" y="500.71" width="1.40" height="1.40" fill="#000"/>
<rect x="264.77" y="497.10" width="1.40" height="1.40" fill="#000"/>
<rect x="264.08" y="501.40" width="1.40" height="1.40" fill="#000"/>
<rect x="266.82" y="501.43" width="1.40" height="1.40" fill="#000"/>
<rect x="255.32" y="495.64" width="1.40" height="1.40" fill="#000"/>
<rect x="264.05" y="494.88" width="1.40" height="1.40" fill="#000"/>
<rect x="265.48" y="497.57" width="1.40" height="1.40" fill="#000"/>
<rect x="257.67" y="494.30" width="1.40" height="1.40" fill="#000"/>
<rect x="268.42" y="501.35" width="1.40" height="1.40" fill="#000"/>
<rect x="262.49" y="501.44" width="1.40" height="1.40" fill="#000"/>
<rect x="269.58" y="502.53" width="1.40" height="1.40" fill="#000"/>
<rect x="262.66" y="496.26" width="1.40" height="1.40" fill="#000"/>
<rect x="259.41" y="497.23" width="1.40" height="1.40" fill="#000"/>
<rect x="264.30" y="499.67" width="1.40" height="1.40" fill="#000"/>
<rect x="267.55" y="500.11" width="1.40" height="1.40" fill="#000"/>
<rect x="261.89" y="499.29" width="1.40" height="1.40" fill="#000"/>
<rect x="264.35" y="501.39" width="1.40" height="1.40" fill="#000"/>
<rect x="264.64" y="499.14" width="1.40" height="1.40" fill="#000"/>
<rect x="265.03" y="498.16" width="1.40" height="1.40" fill="#000"/>
<rect x="246.08" y="504.63" width="1.40" height="1.40" fill="#000"/>
<rect x="250.88" y="507.12" width="1.40" height="1.40" fill="#000"/>
<rect x="246.71" y="503.25" width="1.40" height="1.40" fill="#000"/>
<rect x="250.30" y="504.55" width="1.40" height="1.40" fill="#000"/>
<rect x="245.08" y="502.28" width="1.40" height="1.40" fill="#000"/>
<rect x="253.56" y="508.93" width="1.40" height="1.40" fill="#000"/>
<rect x="249.58" y="505.70" width="1.40" height="1.40" fill="#000"/>
<rect x="255.82" y="504.42" width="1.40" height="1.40" fill="#000"/>
<rect x="250.48" y="507.31" width="1.40" height="1.40" fill="#000"/>
<rect x="251.82" y="510.34" width="1.40" height="1.40" fill="#000"/>
<rect x="254.31" y="509.27" width="1.40" height="1.40" fill="#000"/>
<rect x="251.50" y="508.41" width="1.40" height="1.40" fill="#000"/>
<rect x="249.78" y="505.77" width="1.40" height="1.40" fill="#000"/>
<rect x="252.25" y="511.09" width="1.40" height="1.40" fill="#000"/>
<rect x="250.88" y="506.45" width="1.40" height="1.40" fill="#000"/>
<rect x="250.73" y="508.98" width="1.40" height="1.40" fill="#000"/>
<rect x="249.97" y="508.74" width="1.40" height="1.40" fill="#000"/>
<rect x="248.67" y="504.81" width="1.40" height="1.40" fill="#000"/>
<rect x="250.06" y="507.51" width="1.40" height="1.40" fill="#000"/>
<rect x="255.59" y="506.64" width="1.40" height="1.40" fill="#000"/>
<rect x="248.38" y="505.61" width="1.40" height="1.40" fill="#000"/>
<rect x="250.69" y="503.55" width="1.40" height="1.40" fill="#000"/>
<rect x="253.88" y="509.34" width="1.40" height="1.40" fill="#000"/>
<rect x="253.13" y="507.04" width="1.40" height="1.40" fill="#000"/>
<rect x="254.47" y="508.33" width="1.40" height="1.40" fill="#000"/>
<rect x="255.23" y="507.54" width="1.40" height="1.40" fill="#000"/>
<rect x="248.66" y="505.54" width="1.40" height="1.40" fill="#000"/>
<rect x="248.70" y="506.45" width="1.40" height="1.40" fill="#000"/>
<rect x="252.83" y="506.02" width="1.40" height="1.40" fill="#000"/>
<rect x="251.81" y="506.45" width="1.40" height="1.40" fill="#000"/>
<rect x="254.48" y="507.59" width="1.40" height="1.40" fill="#000"/>
<rect x="249.01" y="507.65" width="1.40" height="1.40" fill="#000"/>
<rect x="256.06" y="513.55" width="1.40" height="1.40" fill="#000"/>
<rect x="251.30" y="507.21" width="1.40" height="1.40" fill="#000"/>
<rect x="255.83" y="509.39" width="1.40" height="1.40" fill="#000"/>
<rect x="248.39" y="505.20" width="1.40" height="1.40" fill="#000"/>
<rect x="253.30" y="506.49" width="1.40" height="1.40" fill="#000"/>
<rect x="247.77" y="501.88" width="1.40" height="1.40" fill="#000"/>
<rect x="253.86" y="506.97" width="1.40" height="1.40" fill="#000"/>
<rect x="250.71" y="506.83" width="1.40" height="1.40" fill="#000"/>
<rect x="253.37" y="507.46" width="1.40" height="1.40" fill="#000"/>
<rect x="253.49" y="506.49" width="1.40" height="1.40" fill="#000"/>
<rect x="251.13" y="504.76" width="1.40" height="1.40" fill="#000"/>
<rect x="254.59" y="508.80" width="1.40" height="1.40" fill="#000"/>
<rect x="249.47" y="504.99" width="1.40" height="1.40" fill="#000"/>
<rect x="250.07" y="507.35" width="1.40" height="1.40" fill="#000"/>
<rect x="247.58" y="502.52" width="1.40" height="1.40" fill="#000"/>
<rect x="248.06" y="509.55" width="1.40" height="1.40" fill="#000"/>
<rect x="254.15" y="508.37" width="1.40" height="1.40" fill="#000"/>
<rect x="251.61" y="510.87" width="1.40" height="1.40" fill="#000"/>
<rect x="250.94" y="505.88" width="1.40" height="1.40" fill="#000"/>
<rect x="254.38" y="509.65" width="1.40" height="1.40" fill="#000"/>
<rect x="253.67" y="507.32" width="1.40" height="1.40" fill="#000"/>
<rect x="255.40" y="512.59" width="1.40" height="1.40" fill="#000"/>
<rect x="252.35" y="508.75" width="1.40" height="1.40" fill="#000"/>
<rect x="244.91" y="504.01" width="1.40" height="1.40" fill="#000"/>
<rect x="250.37" y="507.04" width="1.40" height="1.40" fill="#000"/>
<rect x="253.56" y="507.57" width="1.40" height="1.40" fill="#000"/>
<rect x="246.11" y="504.25" width="1.40" height="1.40" fill="#000"/>
<rect x="249.44" y="505.02" width="1.40" height="1.40" fill="#000"/>
<rect x="249.85" y="505.25" width="1.40" height="1.40" fill="#000"/>
<rect x="243.61" y="504.29" width="1.40" height="1.40" fill="#000"/>
<rect x="251.09" y="508.76" width="1.40" height="1.40" fill="#000"/>
<rect x="256.99" y="510.40" width="1.40" height="1.40" fill="#000"/>
<rect x="246.86" y="502.34" width="1.40" height="1.40" fill="#000"/>
<rect x="248.25" y="503.94" width="1.40" height="1.40" fill="#000"/>
<rect x="253.23" y="504.23" width="1.40" height="1.40" fill="#000"/>
<rect x="253.57" y="505.37" width="1.40" height="1.40" fill="#000"/>
<rect x="252.25" y="507.19" width="1.40" height="1.40" fill="#000"/>
<rect x="250.46" y="506.14" width="1.40" height="1.40" fill="#000"/>
<rect x="250.26" y="505.00" width="1.40" height="1.40" fill="#000"/>
<rect x="246.47" y="503.73" width="1.40" height="1.40" fill="#000"/>
<rect x="254.94" y="512.81" width="1.40" height="1.40" fill="#000"/>
<rect x="254.51" y="510.14" width="1.40" height="1.40" fill="#000"/>
<rect x="248.13" y="507.54" width="1.40" height="1.40" fill="#000"/>
<rect x="251.20" y="506.61" width="1.40" height="1.40" fill="#000"/>
<rect x="250.38" y="506.40" width="1.40" height="1.40" fill="#000"/>
<rect x="250.12" y="505.90" width="1.40" height="1.40" fill="#000"/>
<rect x="248.49" y="504.34" width="1.40" height="1.40" fill="#000"/>
<rect x="257.93" y="510.82" width="1.40" height="1.40" fill="#000"/>
<rect x="250.16" y="507.09" width="1.40" height="1.40" fill="#000"/>
<rect x="254.29" y="506.56" width="1.40" height="1.40" fill="#000"/>
<rect x="249.92" y="507.67" width="1.40" height="1.40" fill="#000"/>
<rect x="251.97" y="507.45" width="1.40" height="1.40" fill="#000"/>
<rect x="256.36" y="508.68" width="1.40" height="1.40" fill="#000"/>
<rect x="251.98" y="506.24" width="1.40" height="1.40" fill="#000"/>
<rect x="257.25" y="506.84" width="1.40" height="1.40" fill="#000"/>
<rect x="249.82" y="504.87" width="1.40" height="1.40" fill="#000"/>
<rect x="252.70" y="508.82" width="1.40" height="1.40" fill="#000"/>
<rect x="256.66" y="507.18" width="1.40" height="1.40" fill="#000"/>
<rect x="253.71" y="507.75" width="1.40" height="1.40" fill="#000"/>
<rect x="248.92" y="506.33" width="1.40" height="1.40" fill="#000"/>
<rect x="250.41" y="502.32" width="1.40" height="1.40" fill="#000"/>
<rect x="251.50" y="504.10" width="1.40" height="1.40" fill="#000"/>
<rect x="249.11" y="506.13" width="1.40" height="1.40" fill="#000"/>
<rect x="250.85" y="509.52" width="1.40" height="1.40" fill="#000"/>
<rect x="252.02" y="504.36" width="1.40" height="1.40" fill="#000"/>
<rect x="249.90" y="504.19" width="1.40" height="1.40" fill="#000"/>
<rect x="247.42" y="505.20" width="1.40" height="1.40" fill="#000"/>
<rect x="251.12" y="502.95" width="1.40" height="1.40" fill="#000"/>
<rect x="253.40" y="507.90" width="1.40" height="1.40" fill="#000"/>
<rect x="252.24" y="507.59" width="1.40" height="1.40" fill="#000"/>
<rect x="253.09" y="507.99" width="1.40" height="1.40" fill="#000"/>
<rect x="254.50" y="509.60" width="1.40" height="1.40" fill="#000"/>
<rect x="252.08" y="508.06" width="1.40" height="1.40" fill="#000"/>
<rect x="247.24" y="503.95" width="1.40" height="1.40" fill="#000"/>
<rect x="250.38" y="506.61" width="1.40" height="1.40" fill="#000"/>
<rect x="246.00" y="506.57" width="1.40" height="1.40" fill="#000"/>
<rect x="252.63" y="505.34" width="1.40" height="1.40" fill="#000"/>
<rect x="246.61" y="503.34" width="1.40" height="1.40" fill="#000"/>
<rect x="251.65" y="505.66" width="1.40" height="1.40" fill="#000"/>
<rect x="252.11" y="506.10" width="1.40" height="1.40" fill="#000"/>
<rect x="253.50" y="506.81" width="1.40" height="1.40" fill="#000"/>
<rect x="250.36" y="508.06" width="1.40" height="1.40" fill="#000"/>
<rect x="259.57" y="510.07" width="1.40" height="1.40" fill="#000"/>
<rect x="250.67" y="504.82" width="1.40" height="1.40" fill="#000"/>
<rect x="254.53" y="506.66" width="1.40" height="1.40" fill="#000"/>
<rect x="249.93" y="505.89" width="1.40" height="1.40" fill="#000"/>
<rect x="249.29" y="503.74" width="1.40" height="1.40" fill="#000"/>
<rect x="251.71" y="503.09" width="1.40" height="1.40" fill="#000"/>
<rect x="247.48" y="503.63" width="1.40" height="1.40" fill="#000"/>
<rect x="251.88" y="506.82" width="1.40" height="1.40" fill="#000"/>
<rect x="246.58" y="502.97" width="1.40" height="1.40" fill="#000"/>
<rect x="253.13" y="508.99" width="1.40" height="1.40" fill="#000"/>
<rect x="251.83" y="505.45" width="1.40" height="1.40" fill="#000"/>
<rect x="253.61" y="507.15" width="1.40" height="1.40" fill="#000"/>
<rect x="248.61" y="503.60" width="1.40" height="1.40" fill="#000"/>
<rect x="255.29" y="509.71" width="1.40" height="1.40" fill="#000"/>
<rect x="255.05" y="508.24" width="1.40" height="1.40" fill="#000"/>
<rect x="254.51" y="507.67" width="1.40" height="1.40" fill="#000"/>
<rect x="248.74" y="509.89" width="1.40" height="1.40" fill="#000"/>
<rect x="253.94" y="507.50" width="1.40" height="1.40" fill="#000"/>
<rect x="250.78" y="507.09" width="1.40" height="1.40" fill="#000"/>
<rect x="255.20" y="508.32" width="1.40" height="1.40" fill="#000"/>
<rect x="246.52" y="503.28" width="1.40" height="1.40" fill="#000"/>
<rect x="251.25" y="506.98" width="1.40" height="1.40" fill="#000"/>
<rect x="254.83" y="509.60" width="1.40" height="1.40" fill="#000"/>
<rect x="254.58" y="506.77" width="1.40" height="1.40" fill="#000"/>
<rect x="252.02" y="511.21" width="1.40" height="1.40" fill="#000"/>
<rect x="253.31" y="508.54" width="1.40" height="1.40" fill="#000"/>
<rect x="250.23" y="509.50" width="1.40" height="1.40" fill="#000"/>
<rect x="248.72" y="504.98" width="1.40" height="1.40" fill="#000"/>
<rect x="252.00" y="508.64" width="1.40" height="1.40" fill="#000"/>
<rect x="249.78" y="506.43" width="1.40" height="1.40" fill="#000"/>
<rect x="250.40" y="506.46" width="1.40" height="1.40" fill="#000"/>
<rect x="251.89" y="505.01" width="1.40" height="1.40" fill="#000"/>
<rect x="250.50" y="507.95" width="1.40" height="1.40" fill="#000"/>
<rect x="248.72" y="504.73" width="1.40" height="1.40" fill="#000"/>
<rect x="254.12" y="506.55" width="1.40" height="1.40" fill="#000"/>
<rect x="252.73" y="505.69" width="1.40" height="1.40" fill="#000"/>
<rect x="252.61" y="511.98" width="1.40" height="1.40" fill="#000"/>
<rect x="257.32" y="510.15" width="1.40" height="1.40" fill="#000"/>
<rect x="253.33" y="508.30" width="1.40" height="1.40" fill="#000"/>
<rect x="250.28" y="509.08" width="1.40" height="1.40" fill="#000"/>
<rect x="246.60" y="505.85" width="1.40" height="1.40" fill="#000"/>
<rect x="249.96" y="508.62" width="1.40" height="1.40" fill="#000"/>
<rect x="252.41" y="506.22" width="1.40" height="1.40" fill="#000"/>
<rect x="251.47" y="508.30" width="1.40" height="1.40" fill="#000"/>
<rect x="250.99" y="507.53" width="1.40" height="1.40" fill="#000"/>
<rect x="251.61" y="502.96" width="1.40" height="1.40" fill="#000"/>
<rect x="253.30" y="509.37" width="1.40" height="1.40" fill="#000"/>
<rect x="251.67" y="507.16" width="1.40" height="1.40" fill="#000"/>
<rect x="254.68" y="508.05" width="1.40" height="1.40" fill="#000"/>
<rect x="249.42" y="505.27" width="1.40" height="1.40" fill="#000"/>
<rect x="255.90" y="507.06" width="1.40" height="1.40" fill="#000"/>
<rect x="255.28" y="508.08" width="1.40" height="1.40" fill="#000"/>
<rect x="247.06" y="506.53" width="1.40" height="1.40" fill="#000"/>
<rect x="252.12" y="504.86" width="1.40" height="1.40" fill="#000"/>
<rect x="249.48" y="507.42" width="1.40" height="1.40" fill="#000"/>
<rect x="255.10" y="508.37" width="1.40" height="1.40" fill="#000"/>
<rect x="251.87" y="508.50" width="1.40" height="1.40" fill="#000"/>
<rect x="249.14" y="506.12" width="1.40" height="1.40" fill="#000"/>
<rect x="251.66" y="506.02" width="1.40" height="1.40" fill="#000"/>
<rect x="249.82" y="506.00" width="1.40" height="1.40" fill="#000"/>
<rect x="251.87" y="506.09" width="1.40" height="1.40" fill="#000"/>
<rect x="249.13" y="507.54" width="1.40" height="1.40" fill="#000"/>
<rect x="251.17" y="508.39" width="1.40" height="1.40" fill="#000"/>
<rect x="254.27" y="509.76" width="1.40" height="1.40" fill="#000"/>
<rect x="258.55" y="509.77" width="1.40" height="1.40" fill="#000"/>
<rect x="253.90" y="507.83" width="1.40" height="1.40" fill="#000"/>
<rect x="255.21" y="512.45" width="1.40" height="1.40" fill="#000"/>
<rect x="246.49" y="501.96" width="1.40" height="1.40" fill="#000"/>
<rect x="252.55" y="509.07" width="1.40" height="1.40" fill="#000"/>
<rect x="253.48" y="508.03" width="1.40" height="1.40" fill="#000"/>
<rect x="252.06" y="508.51" width="1.40" height="1.40" fill="#000"/>
<rect x="250.20" y="508.05" width="1.40" height="1.40" fill="#000"/>
<rect x="244.25" y="503.59" width="1.40" height="1.40" fill="#000"/>
<rect x="247.51" y="506.24" width="1.40" height="1.40" fill="#000"/>
<rect x="251.39" y="505.18" width="1.40" height="1.40" fill="#000"/>
<rect x="253.15" y="506.24" width="1.40" height="1.40" fill="#000"/>
<rect x="250.00" y="503.03" width="1.40" height="1.40" fill="#000"/>
<rect x="250.80" y="507.43" width="1.40" height="1.40" fill="#000"/>
<rect x="254.37" y="508.45" width="1.40" height="1.40" fill="#000"/>
<rect x="254.31" y="508.71" width="1.40" height="1.40" fill="#000"/>
<rect x="250.54" y="507.41" width="1.40" height="1.40" fill="#000"/>
<rect x="254.64" y="508.24" width="1.40" height="1.40" fill="#000"/>
<rect x="250.73" y="506.14" width="1.40" height="1.40" fill="#000"/>
<rect x="252.30" y="505.73" width="1.40" height="1.40" fill="#000"/>
<rect x="254.60" y="508.11" width="1.40" height="1.40" fill="#000"/>
<rect x="253.33" y="506.51" width="1.40" height="1.40" fill="#000"/>
<rect x="258.71" y="501.29" width="1.00" height="1.00" fill="#000"/>
<rect x="258.41" y="504.66" width="1.00" height="1.00" fill="#000"/>
<rect x="260.03" y="502.89" width="1.00" height="1.00" fill="#000"/>
<rect x="259.13" y="498.93" width="1.00" height="1.00" fill="#000"/>
<rect x="257.01" y="502.73" width="1.00" height="1.00" fill="#000"/>
<rect x="257.69" y="501.44" width="1.00" height="1.00" fill="#000"/>
<rect x="255.13" y="499.92" width="1.00" height="1.00" fill="#000"/>
<rect x="254.89" y="499.32" width="1.00" height="1.00" fill="#000"/>
<rect x="257.69" y="499.95" width="1.00" height="1.00" fill="#000"/>
<rect x="255.62" y="502.58" width="1.00" height="1.00" fill="#000"/>
<rect x="256.80" y="499.31" width="1.00" height="1.00" fill="#000"/>
<rect x="252.40" y="503.53" width="1.00" height="1.00" fill="#000"/>
<rect x="251.81" y="504.19" width="1.00" height="1.00" fill="#000"/>
<rect x="260.24" y="497.28" width="1.00" height="1.00" fill="#000"/>
<rect x="257.74" y="498.67" width="1.00" height="1.00" fill="#000"/>
<rect x="257.90" y="500.56" width="1.00" height="1.00" fill="#000"/>
<rect x="257.89" y="502.28" width="1.00" height="1.00" fill="#000"/>
<rect x="261.80" y="498.44" width="1.00" height="1.00" fill="#000"/>
<rect x="256.88" y="500.13" width="1.00" height="1.00" fill="#000"/>
<rect x="258.64" y="500.12" width="1.00" height="1.00" fill="#000"/>
<rect x="259.41" y="499.89" width="1.00" height="1.00" fill="#000"/>
<rect x="259.72" y="495.91" width="1.00" height="1.00" fill="#000"/>
<rect x="257.63" y="503.09" width="1.00" height="1.00" fill="#000"/>
<rect x="255.94" y="501.23" width="1.00" height="1.00" fill="#000"/>
<rect x="255.58" y="500.38" width="1.00" height="1.00" fill="#000"/>
<rect x="260.07" y="504.14" width="1.00" height="1.00" fill="#000"/>
<rect x="259.14" y="498.06" width="1.00" height="1.00" fill="#000"/>
<rect x="255.07" y="502.66" width="1.00" height="1.00" fill="#000"/>
<rect x="259.08" y="498.66" width="1.00" height="1.00" fill="#000"/>
<rect x="256.71" y="503.83" width="1.00" height="1.00" fill="#000"/>
<rect x="259.23" y="500.83" width="1.10" height="1.10" fill="#000"/>
<rect x="241.39" y="492.60" width="1.10" height="1.10" fill="#000"/>
<rect x="245.16" y="487.84" width="1.10" height="1.10" fill="#000"/>
<rect x="258.20" y="499.04" width="1.10" height="1.10" fill="#000"/>
<rect x="255.78" y="516.53" width="1.10" height="1.10" fill="#000"/>
<rect x="262.01" y="495.39" width="1.10" height="1.10" fill="#000"/>
<rect x="259.27" y="511.55" width="1.10" height="1.10" fill="#000"/>
<rect x="244.73" y="496.78" width="1.10" height="1.10" fill="#000"/>
<rect x="250.46" y="492.24" width="1.10" height="1.10" fill="#000"/>
<rect x="264.69" y="486.61" width="1.10" height="1.10" fill="#000"/>
<rect x="241.49" y="501.56" width="1.10" height="1.10" fill="#000"/>
<rect x="249.41" y="504.61" width="1.10" height="1.10" fill="#000"/>
<rect x="253.89" y="501.95" width="1.10" height="1.10" fill="#000"/>
<rect x="261.68" y="488.47" width="1.10" height="1.10" fill="#000"/>
<rect x="251.45" y="498.45" width="1.10" height="1.10" fill="#000"/>
<rect x="252.64" y="505.00" width="1.10" height="1.10" fill="#000"/>
<rect x="243.24" y="498.96" width="1.10" height="1.10" fill="#000"/>
<rect x="258.58" y="505.89" width="1.10" height="1.10" fill="#000"/>
<rect x="262.60" y="484.60" width="1.4" height="1.4" fill="#000"/>
<rect x="283.60" y="500.80" width="1.4" height="1.4" fill="#000"/>
<rect x="287.10" y="505.80" width="1.4" height="1.4" fill="#000"/>
<rect x="247.60" y="508.30" width="1.4" height="1.4" fill="#000"/>
<rect x="255.60" y="515.30" width="1.4" height="1.4" fill="#000"/>
<rect x="261.80" y="515.80" width="1.4" height="1.4" fill="#000"/>
<rect x="239.30" y="507.80" width="1.4" height="1.4" fill="#000"/>
<rect x="242.30" y="504.30" width="1.4" height="1.4" fill="#000"/>
<rect x="251.30" y="497.30" width="1.4" height="1.4" fill="#000"/>
<rect x="253.80" y="490.30" width="1.4" height="1.4" fill="#000"/>
<rect x="181.98" y="577.73" width="1.60" height="1.60" fill="#f08a6a"/>
<rect x="187.36" y="574.93" width="1.60" height="1.60" fill="#f08a6a"/>
<rect x="183.74" y="578.11" width="1.60" height="1.60" fill="#f08a6a"/>
<rect x="184.61" y="576.28" width="1.60" height="1.60" fill="#f08a6a"/>
<rect x="182.83" y="575.67" width="1.60" height="1.60" fill="#f08a6a"/>
<rect x="182.82" y="575.66" width="1.60" height="1.60" fill="#f08a6a"/>
<rect x="184.54" y="575.78" width="1.60" height="1.60" fill="#f08a6a"/>
<rect x="182.41" y="575.14" width="1.60" height="1.60" fill="#f08a6a"/>
<rect x="183.11" y="575.38" width="1.60" height="1.60" fill="#f08a6a"/>
<rect x="182.87" y="576.93" width="1.60" height="1.60" fill="#f08a6a"/>
<rect x="183.86" y="576.50" width="1.60" height="1.60" fill="#f08a6a"/>
<rect x="183.84" y="576.15" width="1.60" height="1.60" fill="#f08a6a"/>
<rect x="182.97" y="575.85" width="1.60" height="1.60" fill="#f08a6a"/>
<rect x="184.57" y="575.23" width="1.60" height="1.60" fill="#f08a6a"/>
<rect x="185.61" y="576.13" width="1.60" height="1.60" fill="#f08a6a"/>
<rect x="181.85" y="575.71" width="1.60" height="1.60" fill="#f08a6a"/>
<rect x="181.98" y="576.23" width="1.60" height="1.60" fill="#f08a6a"/>
<rect x="181.91" y="577.01" width="1.60" height="1.60" fill="#f08a6a"/>
<rect x="181.79" y="574.28" width="1.60" height="1.60" fill="#f08a6a"/>
<rect x="181.88" y="574.49" width="1.60" height="1.60" fill="#f08a6a"/>
<rect x="183.13" y="576.95" width="1.60" height="1.60" fill="#f08a6a"/>
<rect x="184.37" y="575.03" width="1.60" height="1.60" fill="#f08a6a"/>
<rect x="181.83" y="577.52" width="1.60" height="1.60" fill="#f08a6a"/>
<rect x="183.77" y="576.10" width="1.60" height="1.60" fill="#f08a6a"/>
<rect x="185.10" y="578.06" width="1.60" height="1.60" fill="#f08a6a"/>
<rect x="185.53" y="576.21" width="1.60" height="1.60" fill="#f08a6a"/>
<rect x="183.84" y="576.59" width="1.60" height="1.60" fill="#f08a6a"/>
<rect x="182.10" y="575.25" width="1.60" height="1.60" fill="#f08a6a"/>
<rect x="183.29" y="575.34" width="1.60" height="1.60" fill="#f08a6a"/>
<rect x="183.09" y="576.18" width="1.60" height="1.60" fill="#f08a6a"/>
<rect x="187.41" y="575.42" width="1.60" height="1.60" fill="#f08a6a"/>
<rect x="182.98" y="575.97" width="1.60" height="1.60" fill="#f08a6a"/>
<rect x="183.99" y="576.94" width="1.60" height="1.60" fill="#f08a6a"/>
<rect x="182.32" y="575.44" width="1.60" height="1.60" fill="#f08a6a"/>
<rect x="180.25" y="575.36" width="1.60" height="1.60" fill="#f08a6a"/>
<rect x="184.17" y="576.14" width="1.60" height="1.60" fill="#f08a6a"/>
<rect x="181.37" y="575.80" width="1.60" height="1.60" fill="#f08a6a"/>
<rect x="183.26" y="576.50" width="1.60" height="1.60" fill="#f08a6a"/>
<rect x="182.13" y="575.90" width="1.60" height="1.60" fill="#f08a6a"/>
<rect x="179.93" y="575.18" width="1.60" height="1.60" fill="#f08a6a"/>
<rect x="300.42" y="574.07" width="1.60" height="1.60" fill="#f08a6a"/>
<rect x="295.92" y="576.96" width="1.60" height="1.60" fill="#f08a6a"/>
<rect x="295.84" y="575.73" width="1.60" height="1.60" fill="#f08a6a"/>
<rect x="296.56" y="576.69" width="1.60" height="1.60" fill="#f08a6a"/>
<rect x="296.51" y="574.45" width="1.60" height="1.60" fill="#f08a6a"/>
<rect x="296.36" y="575.67" width="1.60" height="1.60" fill="#f08a6a"/>
<rect x="295.44" y="576.97" width="1.60" height="1.60" fill="#f08a6a"/>
<rect x="298.17" y="577.78" width="1.60" height="1.60" fill="#f08a6a"/>
<rect x="295.56" y="577.81" width="1.60" height="1.60" fill="#f08a6a"/>
<rect x="299.40" y="578.06" width="1.60" height="1.60" fill="#f08a6a"/>
<rect x="299.90" y="576.53" width="1.60" height="1.60" fill="#f08a6a"/>
<rect x="296.30" y="577.69" width="1.60" height="1.60" fill="#f08a6a"/>
<rect x="293.56" y="576.95" width="1.60" height="1.60" fill="#f08a6a"/>
<rect x="295.48" y="576.26" width="1.60" height="1.60" fill="#f08a6a"/>
<rect x="292.69" y="575.63" width="1.60" height="1.60" fill="#f08a6a"/>
<rect x="296.65" y="577.77" width="1.60" height="1.60" fill="#f08a6a"/>
<rect x="298.98" y="576.60" width="1.60" height="1.60" fill="#f08a6a"/>
<rect x="296.26" y="575.70" width="1.60" height="1.60" fill="#f08a6a"/>
<rect x="297.63" y="576.40" width="1.60" height="1.60" fill="#f08a6a"/>
<rect x="298.09" y="578.80" width="1.60" height="1.60" fill="#f08a6a"/>
<rect x="296.63" y="574.90" width="1.60" height="1.60" fill="#f08a6a"/>
<rect x="294.72" y="574.95" width="1.60" height="1.60" fill="#f08a6a"/>
<rect x="293.95" y="578.27" width="1.60" height="1.60" fill="#f08a6a"/>
<rect x="297.22" y="574.88" width="1.60" height="1.60" fill="#f08a6a"/>
<rect x="298.20" y="578.21" width="1.60" height="1.60" fill="#f08a6a"/>
<rect x="295.87" y="575.89" width="1.60" height="1.60" fill="#f08a6a"/>
<rect x="295.92" y="577.04" width="1.60" height="1.60" fill="#f08a6a"/>
<rect x="298.17" y="578.12" width="1.60" height="1.60" fill="#f08a6a"/>
<rect x="299.49" y="578.12" width="1.60" height="1.60" fill="#f08a6a"/>
<rect x="299.83" y="577.49" width="1.60" height="1.60" fill="#f08a6a"/>
<rect x="293.18" y="576.54" width="1.60" height="1.60" fill="#f08a6a"/>
<rect x="297.42" y="576.24" width="1.60" height="1.60" fill="#f08a6a"/>
<rect x="298.80" y="576.27" width="1.60" height="1.60" fill="#f08a6a"/>
<rect x="294.57" y="578.43" width="1.60" height="1.60" fill="#f08a6a"/>
<rect x="298.23" y="576.96" width="1.60" height="1.60" fill="#f08a6a"/>
<rect x="298.83" y="577.98" width="1.60" height="1.60" fill="#f08a6a"/>
<rect x="297.48" y="573.75" width="1.60" height="1.60" fill="#f08a6a"/>
<rect x="295.15" y="576.15" width="1.60" height="1.60" fill="#f08a6a"/>
<rect x="294.44" y="576.94" width="1.60" height="1.60" fill="#f08a6a"/>
<rect x="299.44" y="576.12" width="1.60" height="1.60" fill="#f08a6a"/>
<rect x="294.09" y="579.13" width="1.60" height="1.60" fill="#f08a6a"/>
<rect x="295.66" y="575.22" width="1.60" height="1.60" fill="#f08a6a"/>
<rect x="297.25" y="577.21" width="1.60" height="1.60" fill="#f08a6a"/>
<rect x="295.08" y="577.65" width="1.60" height="1.60" fill="#f08a6a"/>
<rect x="295.58" y="575.59" width="1.60" height="1.60" fill="#f08a6a"/>
<rect x="297.11" y="577.62" width="1.60" height="1.60" fill="#f08a6a"/>
<rect x="295.24" y="577.10" width="1.60" height="1.60" fill="#f08a6a"/>
<rect x="296.48" y="580.09" width="1.60" height="1.60" fill="#f08a6a"/>
<rect x="295.07" y="578.36" width="1.60" height="1.60" fill="#f08a6a"/>
<rect x="296.58" y="576.55" width="1.60" height="1.60" fill="#f08a6a"/>
<rect x="368.50" y="464.20" width="462.50" height="60.30" fill="url(#gF)" />
<rect x="368.5" y="464.2" width="462.5" height="60.3" fill="url(#gFx)"/>
<rect x="368.50" y="464.20" width="462.50" height="1" fill="#000" opacity="0.025"/>
<rect x="368.50" y="465.20" width="462.50" height="3" fill="#000" opacity="0.037"/>
<rect x="368.50" y="468.20" width="462.50" height="3" fill="rgb(10,150,10)" opacity="0.026"/>
<rect x="368.50" y="471.20" width="462.50" height="3" fill="rgb(10,150,10)" opacity="0.014"/>
<rect x="368.50" y="474.20" width="462.50" height="1" fill="rgb(10,150,10)" opacity="0.013"/>
<rect x="368.50" y="475.20" width="462.50" height="1" fill="#000" opacity="0.035"/>
<rect x="368.50" y="476.20" width="462.50" height="1" fill="rgb(10,150,10)" opacity="0.006"/>
<rect x="368.50" y="477.20" width="462.50" height="2" fill="rgb(10,150,10)" opacity="0.010"/>
<rect x="368.50" y="479.20" width="462.50" height="1" fill="#000" opacity="0.023"/>
<rect x="368.50" y="480.20" width="462.50" height="2" fill="rgb(10,150,10)" opacity="0.019"/>
<rect x="368.50" y="482.20" width="462.50" height="1" fill="rgb(10,150,10)" opacity="0.021"/>
<rect x="368.50" y="483.20" width="462.50" height="2" fill="#000" opacity="0.011"/>
<rect x="368.50" y="485.20" width="462.50" height="1" fill="rgb(10,150,10)" opacity="0.004"/>
<rect x="368.50" y="486.20" width="462.50" height="1" fill="rgb(10,150,10)" opacity="0.010"/>
<rect x="368.50" y="487.20" width="462.50" height="1" fill="rgb(10,150,10)" opacity="0.033"/>
<rect x="368.50" y="488.20" width="462.50" height="3" fill="#000" opacity="0.037"/>
<rect x="368.50" y="491.20" width="462.50" height="1" fill="#000" opacity="0.020"/>
<rect x="368.50" y="492.20" width="462.50" height="3" fill="rgb(10,150,10)" opacity="0.017"/>
<rect x="368.50" y="495.20" width="462.50" height="2" fill="#000" opacity="0.015"/>
<rect x="368.50" y="497.20" width="462.50" height="2" fill="#000" opacity="0.001"/>
<rect x="368.50" y="499.20" width="462.50" height="1" fill="rgb(10,150,10)" opacity="0.016"/>
<rect x="368.50" y="500.20" width="462.50" height="2" fill="rgb(10,150,10)" opacity="0.012"/>
<rect x="368.50" y="502.20" width="462.50" height="1" fill="#000" opacity="0.010"/>
<rect x="368.50" y="503.20" width="462.50" height="3" fill="rgb(10,150,10)" opacity="0.015"/>
<rect x="368.50" y="506.20" width="462.50" height="1" fill="rgb(10,150,10)" opacity="0.009"/>
<rect x="368.50" y="507.20" width="462.50" height="2" fill="#000" opacity="0.003"/>
<rect x="368.50" y="509.20" width="462.50" height="2" fill="#000" opacity="0.041"/>
<rect x="368.50" y="511.20" width="462.50" height="2" fill="#000" opacity="0.000"/>
<rect x="368.50" y="513.20" width="462.50" height="3" fill="#000" opacity="0.010"/>
<rect x="368.50" y="516.20" width="462.50" height="1" fill="#000" opacity="0.036"/>
<rect x="368.50" y="517.20" width="462.50" height="3" fill="rgb(10,150,10)" opacity="0.033"/>
<rect x="368.50" y="520.20" width="462.50" height="2" fill="#000" opacity="0.012"/>
<rect x="368.50" y="522.20" width="462.50" height="1" fill="rgb(10,150,10)" opacity="0.010"/>
<rect x="368.50" y="523.20" width="462.50" height="1" fill="#000" opacity="0.031"/>
<rect x="368.50" y="524.20" width="462.50" height="0.29999999999999716" fill="#000" opacity="0.032"/>
<rect x="445.05" y="464.20" width="1.5" height="60.30" fill="rgb(50,200,50)" opacity="0.8"/>
<rect x="471.85" y="464.20" width="1.5" height="60.30" fill="rgb(50,200,50)" opacity="0.8"/>
<rect x="498.65" y="464.20" width="1.5" height="60.30" fill="rgb(50,200,50)" opacity="0.8"/>
<rect x="525.45" y="464.20" width="1.5" height="60.30" fill="rgb(50,200,50)" opacity="0.8"/>
<rect x="551.95" y="464.20" width="1.5" height="60.30" fill="rgb(50,200,50)" opacity="0.8"/>
<rect x="367.90" y="463.60" width="16.30" height="16.60" fill="#fff" />
<text x="376.55" y="477.80" font-size="17" text-anchor="middle" font-weight="bold" style="stroke-width:0.4px">F</text>
<text x="826" y="519.7" font-size="14" text-anchor="end" font-style="italic" fill="#fff" style="stroke-width:0">Basal</text>
<rect x="368.30" y="568.20" width="461.40" height="60.10" fill="rgb(7,90,7)" />
<rect x="368.3" y="602.5" width="117.7" height="7" fill="#000" opacity="0.28"/>
<rect x="368.3" y="609.5" width="117.7" height="19" fill="#000" opacity="0.1"/>
<rect x="368.30" y="568.20" width="117.70" height="3" fill="#000" opacity="0.010"/>
<rect x="368.30" y="571.20" width="117.70" height="2" fill="#000" opacity="0.028"/>
<rect x="368.30" y="573.20" width="117.70" height="2" fill="#000" opacity="0.013"/>
<rect x="368.30" y="575.20" width="117.70" height="3" fill="rgb(10,150,10)" opacity="0.015"/>
<rect x="368.30" y="578.20" width="117.70" height="1" fill="rgb(10,150,10)" opacity="0.035"/>
<rect x="368.30" y="579.20" width="117.70" height="2" fill="rgb(10,150,10)" opacity="0.021"/>
<rect x="368.30" y="581.20" width="117.70" height="2" fill="#000" opacity="0.026"/>
<rect x="368.30" y="583.20" width="117.70" height="1" fill="#000" opacity="0.005"/>
<rect x="368.30" y="584.20" width="117.70" height="2" fill="#000" opacity="0.015"/>
<rect x="368.30" y="586.20" width="117.70" height="2" fill="rgb(10,150,10)" opacity="0.018"/>
<rect x="368.30" y="588.20" width="117.70" height="3" fill="#000" opacity="0.026"/>
<rect x="368.30" y="591.20" width="117.70" height="3" fill="rgb(10,150,10)" opacity="0.023"/>
<rect x="368.30" y="594.20" width="117.70" height="1" fill="rgb(10,150,10)" opacity="0.035"/>
<rect x="368.30" y="595.20" width="117.70" height="1" fill="rgb(10,150,10)" opacity="0.027"/>
<rect x="368.30" y="596.20" width="117.70" height="2" fill="rgb(10,150,10)" opacity="0.035"/>
<rect x="368.30" y="598.20" width="117.70" height="3" fill="rgb(10,150,10)" opacity="0.010"/>
<rect x="368.30" y="601.20" width="117.70" height="3" fill="#000" opacity="0.020"/>
<rect x="368.30" y="604.20" width="117.70" height="2" fill="rgb(10,150,10)" opacity="0.009"/>
<rect x="368.30" y="606.20" width="117.70" height="2" fill="rgb(10,150,10)" opacity="0.031"/>
<rect x="368.30" y="608.20" width="117.70" height="3" fill="#000" opacity="0.008"/>
<rect x="368.30" y="611.20" width="117.70" height="1" fill="#000" opacity="0.034"/>
<rect x="368.30" y="612.20" width="117.70" height="1" fill="#000" opacity="0.004"/>
<rect x="368.30" y="613.20" width="117.70" height="3" fill="rgb(10,150,10)" opacity="0.021"/>
<rect x="368.30" y="616.20" width="117.70" height="1" fill="rgb(10,150,10)" opacity="0.011"/>
<rect x="368.30" y="617.20" width="117.70" height="1" fill="rgb(10,150,10)" opacity="0.012"/>
<rect x="368.30" y="618.20" width="117.70" height="1" fill="#000" opacity="0.022"/>
<rect x="368.30" y="619.20" width="117.70" height="2" fill="#000" opacity="0.007"/>
<rect x="368.30" y="621.20" width="117.70" height="3" fill="#000" opacity="0.022"/>
<rect x="368.30" y="624.20" width="117.70" height="3" fill="#000" opacity="0.030"/>
<rect x="368.30" y="627.20" width="117.70" height="1" fill="#000" opacity="0.019"/>
<rect x="368.30" y="628.20" width="117.70" height="0.10000000000000142" fill="rgb(10,150,10)" opacity="0.022"/>
<rect x="445.05" y="568.20" width="1.5" height="60.10" fill="rgb(50,200,50)" opacity="0.8"/>
<rect x="471.35" y="568.20" width="1.3" height="60.10" fill="rgb(50,190,50)" opacity="0.55"/>
<rect x="473.85" y="568.20" width="1.3" height="60.10" fill="rgb(50,190,50)" opacity="0.55"/>
<path d="M466,569 Q475,600 470,628" fill="none" stroke="rgb(60,200,60)" stroke-width="1" opacity="0.4"/>
<rect x="484.00" y="568.20" width="42.00" height="60.10" fill="rgb(8,66,8)" />
<rect x="526.00" y="568.20" width="303.70" height="60.10" fill="rgb(8,76,8)" />
<path d="M484,568.2 L484.0,569.70 L486.0,569.70 L488.0,569.70 L490.0,569.70 L492.0,569.70 L494.0,569.70 L496.0,569.70 L498.0,569.70 L500.0,569.70 L502.0,569.70 L504.0,569.70 L506.0,569.70 L508.0,569.70 L510.0,569.70 L512.0,569.70 L514.0,569.70 L516.0,569.70 L518.0,569.70 L520.0,569.70 L522.0,569.70 L524.0,569.70 L526.0,569.70 L528.0,569.70 L530.0,569.70 L532.0,569.70 L534.0,569.70 L536.0,569.70 L538.0,569.70 L540.0,571.20 L542.0,571.20 L544.0,571.20 L546.0,571.20 L548.0,571.20 L550.0,571.20 L552.0,571.20 L554.0,572.15 L556.0,573.35 L558.0,574.71 L560.0,576.18 L562.0,577.67 L564.0,579.10 L566.0,580.36 L568.0,581.35 L570.0,581.98 L572.0,582.20 L574.0,581.98 L576.0,581.35 L578.0,580.36 L580.0,579.10 L582.0,577.67 L584.0,576.18 L586.0,574.71 L588.0,573.35 L590.0,572.15 L592.0,571.20 L594.0,571.20 L596.0,571.20 L598.0,571.20 L600.0,571.20 L602.0,571.20 L604.0,571.20 L606.0,571.20 L608.0,571.20 L610.0,571.20 L612.0,571.20 L614.0,571.20 L616.0,571.20 L618.0,571.20 L620.0,571.20 L622.0,571.20 L624.0,571.20 L626.0,571.46 L628.0,572.19 L630.0,572.94 L632.0,573.65 L634.0,574.28 L636.0,574.78 L638.0,575.09 L640.0,575.20 L642.0,575.09 L644.0,574.78 L646.0,574.28 L648.0,573.65 L650.0,572.94 L652.0,572.19 L654.0,571.46 L656.0,571.20 L658.0,571.20 L660.0,571.20 L662.0,571.20 L664.0,571.20 L666.0,571.20 L668.0,571.41 L670.0,571.87 L672.0,572.30 L674.0,572.67 L676.0,572.96 L678.0,573.14 L680.0,573.20 L682.0,573.14 L684.0,572.96 L686.0,572.67 L688.0,572.30 L690.0,571.87 L692.0,571.41 L694.0,571.20 L696.0,571.20 L698.0,571.20 L700.0,571.20 L702.0,571.20 L704.0,571.20 L706.0,571.20 L708.0,571.20 L710.0,571.20 L712.0,571.20 L714.0,571.20 L716.0,571.20 L718.0,571.20 L720.0,571.20 L722.0,571.20 L724.0,571.20 L726.0,571.20 L728.0,571.20 L730.0,571.20 L732.0,571.20 L734.0,571.20 L736.0,571.20 L738.0,571.20 L740.0,571.20 L742.0,571.20 L744.0,571.20 L746.0,571.20 L748.0,571.20 L750.0,571.20 L752.0,571.20 L754.0,571.20 L756.0,573.09 L758.0,575.53 L760.0,577.98 L762.0,577.98 L764.0,575.53 L766.0,573.09 L768.0,571.20 L770.0,571.20 L772.0,571.20 L774.0,571.20 L776.0,571.20 L778.0,571.20 L780.0,571.20 L782.0,571.20 L784.0,571.20 L786.0,571.20 L788.0,571.20 L790.0,571.20 L792.0,571.20 L794.0,571.20 L796.0,571.20 L798.0,571.58 L800.0,572.70 L802.0,571.58 L804.0,571.20 L806.0,571.20 L808.0,571.20 L810.0,571.20 L812.0,571.20 L814.0,571.20 L816.0,571.20 L818.0,571.20 L820.0,571.20 L822.0,571.20 L824.0,571.20 L826.0,571.20 L828.0,571.20 L829.7,568.2 Z" fill="#031403" opacity="0.93"/>
<rect x="486.10" y="571.65" width="1.8" height="56.65" fill="rgb(40,180,40)" opacity="0.8"/>
<rect x="489.60" y="572.04" width="1.8" height="56.26" fill="rgb(40,180,40)" opacity="0.8"/>
<rect x="495.10" y="571.72" width="1.8" height="56.58" fill="rgb(40,180,40)" opacity="0.8"/>
<rect x="500.10" y="571.14" width="1.8" height="57.16" fill="rgb(40,180,40)" opacity="0.8"/>
<rect x="505.10" y="569.76" width="1.8" height="58.54" fill="rgb(40,180,40)" opacity="0.8"/>
<rect x="510.10" y="571.67" width="1.8" height="56.63" fill="rgb(40,180,40)" opacity="0.8"/>
<rect x="515.10" y="571.38" width="1.8" height="56.92" fill="rgb(40,180,40)" opacity="0.8"/>
<rect x="520.60" y="571.44" width="1.8" height="56.86" fill="rgb(40,180,40)" opacity="0.8"/>
<rect x="526.20" y="569.67" width="1.3" height="58.63" fill="rgb(18,165,18)" opacity="0.84"/>
<rect x="529.10" y="569.43" width="1.3" height="58.87" fill="rgb(18,165,18)" opacity="0.79"/>
<rect x="532.00" y="569.56" width="1.3" height="58.74" fill="rgb(18,165,18)" opacity="0.67"/>
<rect x="534.90" y="569.45" width="1.3" height="58.85" fill="rgb(18,165,18)" opacity="0.60"/>
<rect x="537.80" y="569.54" width="1.3" height="58.76" fill="rgb(18,165,18)" opacity="0.68"/>
<rect x="540.70" y="570.81" width="1.3" height="57.49" fill="rgb(18,165,18)" opacity="0.85"/>
<rect x="543.60" y="571.12" width="1.3" height="57.18" fill="rgb(18,165,18)" opacity="0.79"/>
<rect x="546.50" y="571.48" width="1.3" height="56.82" fill="rgb(18,165,18)" opacity="0.63"/>
<rect x="549.40" y="570.91" width="1.3" height="57.39" fill="rgb(18,165,18)" opacity="0.58"/>
<rect x="552.30" y="570.77" width="1.3" height="57.53" fill="rgb(18,165,18)" opacity="0.88"/>
<rect x="555.20" y="571.52" width="1.3" height="56.78" fill="rgb(18,165,18)" opacity="0.82"/>
<rect x="558.10" y="574.94" width="1.3" height="53.36" fill="rgb(18,165,18)" opacity="0.73"/>
<rect x="561.00" y="576.94" width="1.3" height="51.36" fill="rgb(18,165,18)" opacity="0.70"/>
<rect x="563.90" y="577.20" width="1.3" height="51.10" fill="rgb(18,165,18)" opacity="0.73"/>
<rect x="566.80" y="577.92" width="1.3" height="50.38" fill="rgb(18,165,18)" opacity="0.66"/>
<rect x="569.70" y="579.43" width="1.3" height="48.87" fill="rgb(18,165,18)" opacity="0.90"/>
<rect x="572.60" y="579.87" width="1.3" height="48.43" fill="rgb(18,165,18)" opacity="0.63"/>
<rect x="575.50" y="582.64" width="1.3" height="45.66" fill="rgb(18,165,18)" opacity="0.60"/>
<rect x="578.40" y="581.29" width="1.3" height="47.01" fill="rgb(18,165,18)" opacity="0.85"/>
<rect x="581.30" y="577.91" width="1.3" height="50.39" fill="rgb(18,165,18)" opacity="0.70"/>
<rect x="584.20" y="574.41" width="1.3" height="53.89" fill="rgb(18,165,18)" opacity="0.59"/>
<rect x="587.10" y="572.56" width="1.3" height="55.74" fill="rgb(18,165,18)" opacity="0.67"/>
<rect x="590.00" y="571.70" width="1.3" height="56.60" fill="rgb(18,165,18)" opacity="0.87"/>
<rect x="592.90" y="570.94" width="1.3" height="57.36" fill="rgb(18,165,18)" opacity="0.90"/>
<rect x="595.80" y="571.17" width="1.3" height="57.13" fill="rgb(18,165,18)" opacity="0.60"/>
<rect x="598.70" y="570.96" width="1.3" height="57.34" fill="rgb(18,165,18)" opacity="0.61"/>
<rect x="601.60" y="570.35" width="1.3" height="57.95" fill="rgb(18,165,18)" opacity="0.88"/>
<rect x="604.50" y="570.71" width="1.3" height="57.59" fill="rgb(18,165,18)" opacity="0.62"/>
<rect x="607.40" y="570.42" width="1.3" height="57.88" fill="rgb(18,165,18)" opacity="0.78"/>
<rect x="610.30" y="570.85" width="1.3" height="57.45" fill="rgb(18,165,18)" opacity="0.55"/>
<rect x="613.20" y="571.16" width="1.3" height="57.14" fill="rgb(18,165,18)" opacity="0.64"/>
<rect x="616.10" y="571.24" width="1.3" height="57.06" fill="rgb(18,165,18)" opacity="0.72"/>
<rect x="619.00" y="570.94" width="1.3" height="57.36" fill="rgb(18,165,18)" opacity="0.71"/>
<rect x="621.90" y="571.11" width="1.3" height="57.19" fill="rgb(18,165,18)" opacity="0.90"/>
<rect x="624.80" y="571.26" width="1.3" height="57.04" fill="rgb(18,165,18)" opacity="0.57"/>
<rect x="627.70" y="571.61" width="1.3" height="56.69" fill="rgb(18,165,18)" opacity="0.63"/>
<rect x="630.60" y="571.82" width="1.3" height="56.48" fill="rgb(18,165,18)" opacity="0.62"/>
<rect x="633.50" y="572.89" width="1.3" height="55.41" fill="rgb(18,165,18)" opacity="0.89"/>
<rect x="636.40" y="574.80" width="1.3" height="53.50" fill="rgb(18,165,18)" opacity="0.85"/>
<rect x="639.30" y="575.04" width="1.3" height="53.26" fill="rgb(18,165,18)" opacity="0.66"/>
<rect x="642.20" y="574.10" width="1.3" height="54.20" fill="rgb(18,165,18)" opacity="0.70"/>
<rect x="645.10" y="573.41" width="1.3" height="54.89" fill="rgb(18,165,18)" opacity="0.70"/>
<rect x="648.00" y="573.77" width="1.3" height="54.53" fill="rgb(18,165,18)" opacity="0.58"/>
<rect x="650.90" y="571.83" width="1.3" height="56.47" fill="rgb(18,165,18)" opacity="0.72"/>
<rect x="653.80" y="571.50" width="1.3" height="56.80" fill="rgb(18,165,18)" opacity="0.78"/>
<rect x="656.70" y="571.17" width="1.3" height="57.13" fill="rgb(18,165,18)" opacity="0.59"/>
<rect x="659.60" y="570.52" width="1.3" height="57.78" fill="rgb(18,165,18)" opacity="0.66"/>
<rect x="662.50" y="570.64" width="1.3" height="57.66" fill="rgb(18,165,18)" opacity="0.81"/>
<rect x="665.40" y="571.49" width="1.3" height="56.81" fill="rgb(18,165,18)" opacity="0.79"/>
<rect x="668.30" y="570.50" width="1.3" height="57.80" fill="rgb(18,165,18)" opacity="0.65"/>
<rect x="671.20" y="572.18" width="1.3" height="56.12" fill="rgb(18,165,18)" opacity="0.87"/>
<rect x="674.10" y="572.38" width="1.3" height="55.92" fill="rgb(18,165,18)" opacity="0.67"/>
<rect x="677.00" y="572.28" width="1.3" height="56.02" fill="rgb(18,165,18)" opacity="0.77"/>
<rect x="679.90" y="573.43" width="1.3" height="54.87" fill="rgb(18,165,18)" opacity="0.67"/>
<rect x="682.80" y="572.00" width="1.3" height="56.30" fill="rgb(18,165,18)" opacity="0.55"/>
<rect x="685.70" y="571.64" width="1.3" height="56.66" fill="rgb(18,165,18)" opacity="0.85"/>
<rect x="688.60" y="572.02" width="1.3" height="56.28" fill="rgb(18,165,18)" opacity="0.90"/>
<rect x="691.50" y="570.65" width="1.3" height="57.65" fill="rgb(18,165,18)" opacity="0.68"/>
<rect x="694.40" y="571.25" width="1.3" height="57.05" fill="rgb(18,165,18)" opacity="0.78"/>
<rect x="697.30" y="570.38" width="1.3" height="57.92" fill="rgb(18,165,18)" opacity="0.69"/>
<rect x="700.20" y="571.07" width="1.3" height="57.23" fill="rgb(18,165,18)" opacity="0.79"/>
<rect x="703.10" y="570.84" width="1.3" height="57.46" fill="rgb(18,165,18)" opacity="0.62"/>
<rect x="706.00" y="571.46" width="1.3" height="56.84" fill="rgb(18,165,18)" opacity="0.71"/>
<rect x="708.90" y="571.16" width="1.3" height="57.14" fill="rgb(18,165,18)" opacity="0.74"/>
<rect x="711.80" y="570.40" width="1.3" height="57.90" fill="rgb(18,165,18)" opacity="0.63"/>
<rect x="714.70" y="570.38" width="1.3" height="57.92" fill="rgb(18,165,18)" opacity="0.62"/>
<rect x="717.60" y="570.54" width="1.3" height="57.76" fill="rgb(18,165,18)" opacity="0.70"/>
<rect x="720.50" y="570.69" width="1.3" height="57.61" fill="rgb(18,165,18)" opacity="0.68"/>
<rect x="723.40" y="571.28" width="1.3" height="57.02" fill="rgb(18,165,18)" opacity="0.56"/>
<rect x="726.30" y="570.42" width="1.3" height="57.88" fill="rgb(18,165,18)" opacity="0.83"/>
<rect x="729.20" y="570.94" width="1.3" height="57.36" fill="rgb(18,165,18)" opacity="0.70"/>
<rect x="732.10" y="570.62" width="1.3" height="57.68" fill="rgb(18,165,18)" opacity="0.74"/>
<rect x="735.00" y="570.57" width="1.3" height="57.73" fill="rgb(18,165,18)" opacity="0.85"/>
<rect x="737.90" y="571.29" width="1.3" height="57.01" fill="rgb(18,165,18)" opacity="0.66"/>
<rect x="740.80" y="570.33" width="1.3" height="57.97" fill="rgb(18,165,18)" opacity="0.86"/>
<rect x="743.70" y="570.66" width="1.3" height="57.64" fill="rgb(18,165,18)" opacity="0.78"/>
<rect x="746.60" y="571.33" width="1.3" height="56.97" fill="rgb(18,165,18)" opacity="0.83"/>
<rect x="749.50" y="571.34" width="1.3" height="56.96" fill="rgb(18,165,18)" opacity="0.72"/>
<rect x="752.40" y="571.31" width="1.3" height="56.99" fill="rgb(18,165,18)" opacity="0.71"/>
<rect x="755.30" y="571.25" width="1.3" height="57.05" fill="rgb(18,165,18)" opacity="0.72"/>
<rect x="758.20" y="574.32" width="1.3" height="53.98" fill="rgb(18,165,18)" opacity="0.82"/>
<rect x="761.10" y="579.43" width="1.3" height="48.87" fill="rgb(18,165,18)" opacity="0.60"/>
<rect x="764.00" y="574.00" width="1.3" height="54.30" fill="rgb(18,165,18)" opacity="0.68"/>
<rect x="766.90" y="571.77" width="1.3" height="56.53" fill="rgb(18,165,18)" opacity="0.88"/>
<rect x="769.80" y="571.43" width="1.3" height="56.87" fill="rgb(18,165,18)" opacity="0.89"/>
<rect x="772.70" y="571.18" width="1.3" height="57.12" fill="rgb(18,165,18)" opacity="0.79"/>
<rect x="775.60" y="570.62" width="1.3" height="57.68" fill="rgb(18,165,18)" opacity="0.68"/>
<rect x="778.50" y="570.30" width="1.3" height="58.00" fill="rgb(18,165,18)" opacity="0.84"/>
<rect x="781.40" y="570.63" width="1.3" height="57.67" fill="rgb(18,165,18)" opacity="0.58"/>
<rect x="784.30" y="570.68" width="1.3" height="57.62" fill="rgb(18,165,18)" opacity="0.66"/>
<rect x="787.20" y="571.17" width="1.3" height="57.13" fill="rgb(18,165,18)" opacity="0.55"/>
<rect x="790.10" y="570.58" width="1.3" height="57.72" fill="rgb(18,165,18)" opacity="0.86"/>
<rect x="793.00" y="571.33" width="1.3" height="56.97" fill="rgb(18,165,18)" opacity="0.77"/>
<rect x="795.90" y="570.97" width="1.3" height="57.33" fill="rgb(18,165,18)" opacity="0.63"/>
<rect x="798.80" y="572.10" width="1.3" height="56.20" fill="rgb(18,165,18)" opacity="0.82"/>
<rect x="801.70" y="571.51" width="1.3" height="56.79" fill="rgb(18,165,18)" opacity="0.61"/>
<rect x="804.60" y="570.56" width="1.3" height="57.74" fill="rgb(18,165,18)" opacity="0.68"/>
<rect x="807.50" y="570.70" width="1.3" height="57.60" fill="rgb(18,165,18)" opacity="0.57"/>
<rect x="810.40" y="570.79" width="1.3" height="57.51" fill="rgb(18,165,18)" opacity="0.71"/>
<rect x="813.30" y="570.64" width="1.3" height="57.66" fill="rgb(18,165,18)" opacity="0.68"/>
<rect x="816.20" y="570.70" width="1.3" height="57.60" fill="rgb(18,165,18)" opacity="0.68"/>
<rect x="819.10" y="571.04" width="1.3" height="57.26" fill="rgb(18,165,18)" opacity="0.72"/>
<rect x="822.00" y="570.54" width="1.3" height="57.76" fill="rgb(18,165,18)" opacity="0.83"/>
<rect x="824.90" y="570.92" width="1.3" height="57.38" fill="rgb(18,165,18)" opacity="0.71"/>
<rect x="827.80" y="571.16" width="1.3" height="57.14" fill="rgb(18,165,18)" opacity="0.81"/>
<rect x="367.70" y="567.60" width="16.50" height="18.20" fill="#fff" />
<text x="376.45" y="582.80" font-size="17" text-anchor="middle" font-weight="bold" style="stroke-width:0.4px">G</text>
<rect x="369.80" y="705.80" width="462.00" height="60.20" fill="url(#gH)" />
<rect x="369.8" y="711.8" width="462" height="50.2" fill="url(#gHx)"/>
<rect x="369.80" y="711.80" width="462.00" height="2" fill="rgb(10,150,10)" opacity="0.022"/>
<rect x="369.80" y="713.80" width="462.00" height="3" fill="rgb(10,150,10)" opacity="0.012"/>
<rect x="369.80" y="716.80" width="462.00" height="3" fill="#000" opacity="0.025"/>
<rect x="369.80" y="719.80" width="462.00" height="3" fill="rgb(10,150,10)" opacity="0.014"/>
<rect x="369.80" y="722.80" width="462.00" height="2" fill="#000" opacity="0.017"/>
<rect x="369.80" y="724.80" width="462.00" height="1" fill="#000" opacity="0.027"/>
<rect x="369.80" y="725.80" width="462.00" height="2" fill="#000" opacity="0.035"/>
<rect x="369.80" y="727.80" width="462.00" height="2" fill="rgb(10,150,10)" opacity="0.011"/>
<rect x="369.80" y="729.80" width="462.00" height="2" fill="rgb(10,150,10)" opacity="0.020"/>
<rect x="369.80" y="731.80" width="462.00" height="3" fill="#000" opacity="0.027"/>
<rect x="369.80" y="734.80" width="462.00" height="1" fill="rgb(10,150,10)" opacity="0.024"/>
<rect x="369.80" y="735.80" width="462.00" height="2" fill="#000" opacity="0.033"/>
<rect x="369.80" y="737.80" width="462.00" height="3" fill="#000" opacity="0.017"/>
<rect x="369.80" y="740.80" width="462.00" height="1" fill="#000" opacity="0.003"/>
<rect x="369.80" y="741.80" width="462.00" height="2" fill="rgb(10,150,10)" opacity="0.003"/>
<rect x="369.80" y="743.80" width="462.00" height="1" fill="#000" opacity="0.011"/>
<rect x="369.80" y="744.80" width="462.00" height="1" fill="rgb(10,150,10)" opacity="0.002"/>
<rect x="369.80" y="745.80" width="462.00" height="2" fill="rgb(10,150,10)" opacity="0.013"/>
<rect x="369.80" y="747.80" width="462.00" height="3" fill="rgb(10,150,10)" opacity="0.015"/>
<rect x="369.80" y="750.80" width="462.00" height="1" fill="rgb(10,150,10)" opacity="0.017"/>
<rect x="369.80" y="751.80" width="462.00" height="2" fill="#000" opacity="0.031"/>
<rect x="369.80" y="753.80" width="462.00" height="3" fill="rgb(10,150,10)" opacity="0.032"/>
<rect x="369.80" y="756.80" width="462.00" height="2" fill="#000" opacity="0.016"/>
<rect x="369.80" y="758.80" width="462.00" height="2" fill="#000" opacity="0.005"/>
<rect x="369.80" y="760.80" width="462.00" height="1.2000000000000028" fill="rgb(10,150,10)" opacity="0.001"/>
<rect x="448.40" y="712.30" width="2.0" height="48.20" fill="rgb(30,165,30)" opacity="0.6"/>
<rect x="475.40" y="712.30" width="2.0" height="48.20" fill="rgb(30,165,30)" opacity="0.6"/>
<rect x="501.50" y="712.30" width="2.0" height="48.20" fill="rgb(30,165,30)" opacity="0.6"/>
<rect x="528.20" y="712.30" width="2.0" height="48.20" fill="rgb(30,165,30)" opacity="0.6"/>
<rect x="554.80" y="712.30" width="2.0" height="48.20" fill="rgb(30,165,30)" opacity="0.6"/>
<rect x="369.20" y="705.20" width="15.00" height="17.60" fill="#fff" />
<text x="377.20" y="720.70" font-size="17" text-anchor="middle" font-weight="bold" style="stroke-width:0.4px">H</text>
<text x="827" y="761.8" font-size="14" text-anchor="end" font-style="italic" fill="#fff" style="stroke-width:0">Basal</text>
<rect x="369.00" y="804.30" width="462.20" height="60.30" fill="url(#gI)" />
<rect x="369.00" y="804.30" width="462.20" height="2" fill="#000" opacity="0.015"/>
<rect x="369.00" y="806.30" width="462.20" height="1" fill="#000" opacity="0.008"/>
<rect x="369.00" y="807.30" width="462.20" height="1" fill="rgb(10,150,10)" opacity="0.017"/>
<rect x="369.00" y="808.30" width="462.20" height="3" fill="#000" opacity="0.028"/>
<rect x="369.00" y="811.30" width="462.20" height="2" fill="#000" opacity="0.003"/>
<rect x="369.00" y="813.30" width="462.20" height="1" fill="#000" opacity="0.029"/>
<rect x="369.00" y="814.30" width="462.20" height="1" fill="rgb(10,150,10)" opacity="0.029"/>
<rect x="369.00" y="815.30" width="462.20" height="2" fill="rgb(10,150,10)" opacity="0.002"/>
<rect x="369.00" y="817.30" width="462.20" height="1" fill="#000" opacity="0.009"/>
<rect x="369.00" y="818.30" width="462.20" height="2" fill="rgb(10,150,10)" opacity="0.024"/>
<rect x="369.00" y="820.30" width="462.20" height="1" fill="rgb(10,150,10)" opacity="0.026"/>
<rect x="369.00" y="821.30" width="462.20" height="3" fill="#000" opacity="0.005"/>
<rect x="369.00" y="824.30" width="462.20" height="1" fill="#000" opacity="0.008"/>
<rect x="369.00" y="825.30" width="462.20" height="3" fill="rgb(10,150,10)" opacity="0.010"/>
<rect x="369.00" y="828.30" width="462.20" height="1" fill="rgb(10,150,10)" opacity="0.017"/>
<rect x="369.00" y="829.30" width="462.20" height="2" fill="rgb(10,150,10)" opacity="0.011"/>
<rect x="369.00" y="831.30" width="462.20" height="3" fill="#000" opacity="0.029"/>
<rect x="369.00" y="834.30" width="462.20" height="3" fill="rgb(10,150,10)" opacity="0.001"/>
<rect x="369.00" y="837.30" width="462.20" height="1" fill="rgb(10,150,10)" opacity="0.012"/>
<rect x="369.00" y="838.30" width="462.20" height="1" fill="#000" opacity="0.003"/>
<rect x="369.00" y="839.30" width="462.20" height="2" fill="rgb(10,150,10)" opacity="0.020"/>
<rect x="369.00" y="841.30" width="462.20" height="1" fill="#000" opacity="0.014"/>
<rect x="369.00" y="842.30" width="462.20" height="1" fill="#000" opacity="0.013"/>
<rect x="369.00" y="843.30" width="462.20" height="3" fill="#000" opacity="0.016"/>
<rect x="369.00" y="846.30" width="462.20" height="3" fill="#000" opacity="0.027"/>
<rect x="369.00" y="849.30" width="462.20" height="1" fill="rgb(10,150,10)" opacity="0.009"/>
<rect x="369.00" y="850.30" width="462.20" height="2" fill="#000" opacity="0.021"/>
<rect x="369.00" y="852.30" width="462.20" height="2" fill="#000" opacity="0.018"/>
<rect x="369.00" y="854.30" width="462.20" height="3" fill="rgb(10,150,10)" opacity="0.012"/>
<rect x="369.00" y="857.30" width="462.20" height="3" fill="rgb(10,150,10)" opacity="0.023"/>
<rect x="369.00" y="860.30" width="462.20" height="1" fill="#000" opacity="0.018"/>
<rect x="369.00" y="861.30" width="462.20" height="1" fill="rgb(10,150,10)" opacity="0.020"/>
<rect x="369.00" y="862.30" width="462.20" height="2.299999999999997" fill="#000" opacity="0.015"/>
<rect x="442.80" y="804.30" width="1.8" height="60.30" fill="rgb(45,175,45)" opacity="0.65"/>
<rect x="469.90" y="804.30" width="1.8" height="60.30" fill="rgb(45,175,45)" opacity="0.65"/>
<rect x="497.40" y="804.30" width="1.8" height="60.30" fill="rgb(45,175,45)" opacity="0.65"/>
<rect x="522.90" y="804.30" width="1.8" height="60.30" fill="rgb(45,175,45)" opacity="0.65"/>
<rect x="549.70" y="804.30" width="1.8" height="60.30" fill="rgb(45,175,45)" opacity="0.65"/>
<rect x="499.60" y="804.30" width="1.2" height="60.30" fill="rgb(45,175,45)" opacity="0.4"/>
<rect x="368.40" y="803.70" width="15.80" height="15.20" fill="#fff" />
<rect x="374.10" y="804.50" width="3.40" height="12.30" fill="#000" />
<text x="827.70" y="624.80" font-size="14" text-anchor="end" fill="#fff" style="stroke-width:0"><tspan font-style="italic">Iso (1</tspan> µM)</text>
<text x="829.60" y="860.60" font-size="14" text-anchor="end" fill="#fff" style="stroke-width:0"><tspan font-style="italic">Iso (1</tspan> µM)</text>
<rect x="443.50" y="451.00" width="114.00" height="5.60" fill="#ececec" stroke="#222" stroke-width="1.3" />
<text x="505.00" y="447.50" font-size="14" text-anchor="middle" >0.5 HZ pacing</text>
<text x="570.00" y="455.00" font-size="14" >DMSO (0.3%)</text>
<line x1="570.00" y1="457.50" x2="657.00" y2="457.50" stroke="#000" stroke-width="1.0" />
<text x="576.00" y="696.00" font-size="14" >C11 (10 µM)</text>
<line x1="576.00" y1="698.30" x2="654.00" y2="698.30" stroke="#000" stroke-width="1.0" />
<line x1="806.00" y1="459.30" x2="831.70" y2="459.30" stroke="#000" stroke-width="2.2" />
<text x="831.50" y="457.00" font-size="13" text-anchor="end" >2s</text>
<line x1="834.70" y1="464.30" x2="834.70" y2="491.40" stroke="#000" stroke-width="2.2" />
<text transform="translate(849.3,479.5) rotate(-90)" font-size="13" text-anchor="middle">50µm</text>
<path d="M369.00,542.64 L369.50,542.38 L370.00,542.70 L370.50,542.63 L371.00,542.48 L371.50,542.63 L372.00,542.37 L372.50,542.35 L373.00,542.41 L373.50,542.52 L374.00,542.54 L374.50,542.53 L375.00,542.61 L375.50,542.35 L376.00,542.67 L376.50,542.45 L377.00,542.55 L377.50,542.59 L378.00,542.51 L378.50,542.49 L379.00,542.54 L379.50,542.67 L380.00,542.75 L380.50,542.75 L381.00,542.57 L381.50,542.60 L382.00,542.60 L382.50,542.77 L383.00,542.48 L383.50,542.88 L384.00,542.68 L384.50,542.65 L385.00,542.80 L385.50,542.89 L386.00,542.81 L386.50,542.91 L387.00,542.80 L387.50,542.94 L388.00,542.95 L388.50,542.80 L389.00,542.99 L389.50,542.85 L390.00,542.85 L390.50,542.73 L391.00,542.82 L391.50,542.95 L392.00,542.71 L392.50,542.95 L393.00,542.93 L393.50,542.92 L394.00,542.63 L394.50,542.89 L395.00,542.99 L395.50,542.83 L396.00,542.94 L396.50,542.65 L397.00,543.03 L397.50,542.88 L398.00,543.07 L398.50,542.75 L399.00,543.06 L399.50,542.96 L400.00,543.09 L400.50,542.89 L401.00,542.94 L401.50,543.29 L402.00,542.93 L402.50,542.95 L403.00,543.01 L403.50,542.93 L404.00,543.20 L404.50,543.27 L405.00,542.99 L405.50,542.88 L406.00,543.23 L406.50,543.23 L407.00,543.21 L407.50,543.25 L408.00,543.02 L408.50,543.11 L409.00,542.97 L409.50,542.98 L410.00,543.27 L410.50,543.08 L411.00,543.44 L411.50,543.19 L412.00,543.11 L412.50,543.29 L413.00,543.42 L413.50,543.27 L414.00,543.07 L414.50,543.27 L415.00,543.40 L415.50,543.18 L416.00,543.16 L416.50,543.38 L417.00,543.28 L417.50,543.14 L418.00,543.24 L418.50,543.20 L419.00,543.33 L419.50,543.32 L420.00,543.45 L420.50,543.41 L421.00,543.14 L421.50,543.39 L422.00,543.45 L422.50,543.41 L423.00,543.49 L423.50,543.30 L424.00,543.26 L424.50,543.50 L425.00,543.27 L425.50,543.14 L426.00,543.53 L426.50,543.33 L427.00,543.39 L427.50,543.27 L428.00,543.28 L428.50,543.31 L429.00,543.42 L429.50,543.51 L430.00,543.20 L430.50,543.57 L431.00,543.35 L431.50,543.37 L432.00,543.59 L432.50,543.51 L433.00,543.34 L433.50,543.75 L434.00,543.44 L434.50,543.58 L435.00,543.58 L435.50,543.73 L436.00,543.52 L436.50,543.70 L437.00,543.50 L437.50,543.73 L438.00,543.51 L438.50,543.57 L439.00,543.85 L439.50,543.66 L440.00,543.65 L440.50,543.91 L441.00,543.69 L441.50,543.56 L442.00,543.75 L442.50,543.53 L443.00,543.82 L443.50,543.83 L444.00,543.63 L444.50,543.63 L445.00,539.07 L445.50,533.22 L446.00,530.69 L446.50,533.23 L447.00,534.84 L447.50,536.61 L448.00,537.91 L448.50,538.98 L449.00,539.92 L449.50,540.45 L450.00,541.26 L450.50,541.64 L451.00,541.98 L451.50,542.22 L452.00,542.51 L452.50,542.92 L453.00,542.94 L453.50,543.21 L454.00,543.46 L454.50,543.56 L455.00,543.71 L455.50,543.56 L456.00,543.52 L456.50,543.83 L457.00,543.78 L457.50,543.92 L458.00,543.82 L458.50,543.99 L459.00,543.97 L459.50,543.97 L460.00,543.97 L460.50,543.97 L461.00,543.97 L461.50,543.98 L462.00,544.08 L462.50,543.91 L463.00,544.20 L463.50,543.98 L464.00,544.13 L464.50,544.01 L465.00,544.00 L465.50,544.28 L466.00,544.01 L466.50,543.90 L467.00,543.98 L467.50,544.03 L468.00,544.34 L468.50,544.11 L469.00,544.21 L469.50,543.98 L470.00,544.15 L470.50,544.20 L471.00,544.34 L471.50,543.18 L472.00,538.97 L472.50,534.56 L473.00,535.09 L473.50,536.84 L474.00,538.15 L474.50,539.00 L475.00,540.24 L475.50,540.97 L476.00,541.46 L476.50,541.85 L477.00,542.60 L477.50,542.79 L478.00,543.15 L478.50,543.43 L479.00,543.38 L479.50,543.70 L480.00,543.70 L480.50,543.83 L481.00,543.91 L481.50,544.00 L482.00,544.19 L482.50,544.13 L483.00,544.14 L483.50,544.16 L484.00,544.27 L484.50,544.15 L485.00,544.22 L485.50,544.29 L486.00,544.25 L486.50,544.32 L487.00,544.28 L487.50,544.61 L488.00,544.54 L488.50,544.44 L489.00,544.40 L489.50,544.68 L490.00,544.46 L490.50,544.42 L491.00,544.48 L491.50,544.49 L492.00,544.63 L492.50,544.47 L493.00,544.73 L493.50,544.38 L494.00,544.58 L494.50,544.38 L495.00,544.73 L495.50,544.48 L496.00,544.52 L496.50,544.65 L497.00,544.69 L497.50,544.42 L498.00,544.52 L498.50,542.03 L499.00,538.26 L499.50,535.44 L500.00,537.08 L500.50,538.40 L501.00,539.55 L501.50,540.43 L502.00,541.33 L502.50,542.07 L503.00,542.16 L503.50,542.79 L504.00,543.10 L504.50,543.49 L505.00,543.55 L505.50,543.83 L506.00,543.89 L506.50,544.22 L507.00,544.26 L507.50,544.32 L508.00,544.46 L508.50,544.45 L509.00,544.35 L509.50,544.65 L510.00,544.65 L510.50,544.63 L511.00,544.79 L511.50,544.85 L512.00,544.59 L512.50,544.65 L513.00,544.94 L513.50,544.94 L514.00,544.70 L514.50,544.66 L515.00,544.74 L515.50,544.77 L516.00,544.65 L516.50,544.85 L517.00,544.70 L517.50,544.72 L518.00,544.98 L518.50,544.80 L519.00,544.88 L519.50,544.98 L520.00,545.01 L520.50,544.88 L521.00,544.93 L521.50,544.84 L522.00,545.15 L522.50,545.03 L523.00,544.83 L523.50,544.97 L524.00,545.06 L524.50,545.04 L525.00,545.21 L525.50,541.21 L526.00,537.03 L526.50,536.58 L527.00,537.97 L527.50,539.41 L528.00,540.43 L528.50,541.59 L529.00,541.97 L529.50,542.27 L530.00,542.91 L530.50,543.39 L531.00,543.54 L531.50,543.85 L532.00,544.13 L532.50,544.39 L533.00,544.47 L533.50,544.51 L534.00,544.81 L534.50,544.74 L535.00,544.81 L535.50,544.76 L536.00,544.88 L536.50,545.10 L537.00,544.86 L537.50,545.08 L538.00,545.20 L538.50,545.09 L539.00,545.19 L539.50,545.04 L540.00,545.35 L540.50,545.34 L541.00,545.25 L541.50,545.02 L542.00,545.12 L542.50,545.37 L543.00,545.47 L543.50,545.31 L544.00,545.44 L544.50,545.22 L545.00,545.28 L545.50,545.32 L546.00,545.37 L546.50,545.15 L547.00,545.45 L547.50,545.51 L548.00,545.22 L548.50,545.20 L549.00,545.42 L549.50,545.30 L550.00,545.11 L550.50,545.50 L551.00,545.43 L551.50,545.36 L552.00,541.72 L552.50,537.53 L553.00,536.92 L553.50,538.56 L554.00,539.68 L554.50,540.75 L555.00,541.73 L555.50,542.31 L556.00,542.90 L556.50,543.62 L557.00,543.91 L557.50,544.21 L558.00,544.44 L558.50,544.65 L559.00,544.95 L559.50,544.91 L560.00,545.26 L560.50,545.03 L561.00,545.19 L561.50,545.13 L562.00,545.31 L562.50,545.46 L563.00,545.62 L563.50,545.40 L564.00,545.51 L564.50,545.50 L565.00,545.47 L565.50,545.44 L566.00,545.61 L566.50,545.41 L567.00,545.64 L567.50,545.65 L568.00,545.58 L568.50,545.55 L569.00,545.51 L569.50,545.92 L570.00,545.54 L570.50,545.90 L571.00,545.79 L571.50,545.69 L572.00,545.60 L572.50,545.87 L573.00,545.96 L573.50,545.65 L574.00,545.74 L574.50,545.91 L575.00,545.83 L575.50,546.04 L576.00,545.74 L576.50,545.88 L577.00,545.67 L577.50,546.08 L578.00,545.75 L578.50,545.58 L579.00,545.84 L579.50,545.85 L580.00,546.10 L580.50,545.84 L581.00,545.88 L581.50,545.97 L582.00,546.09 L582.50,545.90 L583.00,546.04 L583.50,545.99 L584.00,545.90 L584.50,545.95 L585.00,545.95 L585.50,545.85 L586.00,546.11 L586.50,545.81 L587.00,546.12 L587.50,546.10 L588.00,545.99 L588.50,545.91 L589.00,545.99 L589.50,546.08 L590.00,546.12 L590.50,546.07 L591.00,546.17 L591.50,545.99 L592.00,546.09 L592.50,545.88 L593.00,546.17 L593.50,546.10 L594.00,546.04 L594.50,546.24 L595.00,546.19 L595.50,545.78 L596.00,546.13 L596.50,545.96 L597.00,546.27 L597.50,546.45 L598.00,546.10 L598.50,546.17 L599.00,546.14 L599.50,546.22 L600.00,546.27 L600.50,546.35 L601.00,546.09 L601.50,546.40 L602.00,546.11 L602.50,546.26 L603.00,546.38 L603.50,546.33 L604.00,546.14 L604.50,546.18 L605.00,546.21 L605.50,546.27 L606.00,546.42 L606.50,546.14 L607.00,546.36 L607.50,546.38 L608.00,546.38 L608.50,546.38 L609.00,546.52 L609.50,546.40 L610.00,546.45 L610.50,546.43 L611.00,546.58 L611.50,546.15 L612.00,546.54 L612.50,546.36 L613.00,546.36 L613.50,546.29 L614.00,546.19 L614.50,546.38 L615.00,546.35 L615.50,546.50 L616.00,546.27 L616.50,546.63 L617.00,546.49 L617.50,546.44 L618.00,546.39 L618.50,546.39 L619.00,546.36 L619.50,546.44 L620.00,546.51 L620.50,546.50 L621.00,546.36 L621.50,546.50 L622.00,546.43 L622.50,546.57 L623.00,546.78 L623.50,546.64 L624.00,546.54 L624.50,546.39 L625.00,546.42 L625.50,546.39 L626.00,546.69 L626.50,546.52 L627.00,546.63 L627.50,546.55 L628.00,546.65 L628.50,546.81 L629.00,546.57 L629.50,546.62 L630.00,546.57 L630.50,546.78 L631.00,546.56 L631.50,546.56 L632.00,546.53 L632.50,546.54 L633.00,546.77 L633.50,547.03 L634.00,546.61 L634.50,546.86 L635.00,546.78 L635.50,546.62 L636.00,546.73 L636.50,546.75 L637.00,546.70 L637.50,547.02 L638.00,546.57 L638.50,546.85 L639.00,546.85 L639.50,546.75 L640.00,546.85 L640.50,546.94 L641.00,546.86 L641.50,546.90 L642.00,546.94 L642.50,546.62 L643.00,547.05 L643.50,547.16 L644.00,547.01 L644.50,547.02 L645.00,546.74 L645.50,546.90 L646.00,546.83 L646.50,546.86 L647.00,547.06 L647.50,546.85 L648.00,546.94 L648.50,546.74 L649.00,546.95 L649.50,546.99 L650.00,546.90 L650.50,546.91 L651.00,547.23 L651.50,546.87 L652.00,546.89 L652.50,546.93 L653.00,547.18 L653.50,547.30 L654.00,547.09 L654.50,546.97 L655.00,547.02 L655.50,547.20 L656.00,546.98 L656.50,547.27 L657.00,547.27 L657.50,547.12 L658.00,547.19 L658.50,547.21 L659.00,547.32 L659.50,547.01 L660.00,547.29 L660.50,547.11 L661.00,547.07 L661.50,547.18 L662.00,547.15 L662.50,547.07 L663.00,547.00 L663.50,547.09 L664.00,547.39 L664.50,547.46 L665.00,547.31 L665.50,547.38 L666.00,547.18 L666.50,547.24 L667.00,547.29 L667.50,547.14 L668.00,547.16 L668.50,547.30 L669.00,547.25 L669.50,547.17 L670.00,547.35 L670.50,547.28 L671.00,547.45 L671.50,547.33 L672.00,547.30 L672.50,547.36 L673.00,547.34 L673.50,547.28 L674.00,547.32 L674.50,547.47 L675.00,547.47 L675.50,547.55 L676.00,547.20 L676.50,547.36 L677.00,547.37 L677.50,547.45 L678.00,547.38 L678.50,547.38 L679.00,547.55 L679.50,547.48 L680.00,547.33 L680.50,547.64 L681.00,547.60 L681.50,547.42 L682.00,547.60 L682.50,547.42 L683.00,547.65 L683.50,547.50 L684.00,547.44 L684.50,547.49 L685.00,547.46 L685.50,547.58 L686.00,547.58 L686.50,547.58 L687.00,547.51 L687.50,547.15 L688.00,547.61 L688.50,547.38 L689.00,547.64 L689.50,547.76 L690.00,547.66 L690.50,547.59 L691.00,547.62 L691.50,547.64 L692.00,547.59 L692.50,547.60 L693.00,547.56 L693.50,547.83 L694.00,547.69 L694.50,547.81 L695.00,547.68 L695.50,547.72 L696.00,547.70 L696.50,547.79 L697.00,547.84 L697.50,547.78 L698.00,547.67 L698.50,547.67 L699.00,547.97 L699.50,547.75 L700.00,547.75 L700.50,547.97 L701.00,547.93 L701.50,547.88 L702.00,547.77 L702.50,548.11 L703.00,547.88 L703.50,547.91 L704.00,547.83 L704.50,547.69 L705.00,547.71 L705.50,547.92 L706.00,547.93 L706.50,547.86 L707.00,547.76 L707.50,547.73 L708.00,547.88 L708.50,547.75 L709.00,548.04 L709.50,548.08 L710.00,548.29 L710.50,548.06 L711.00,547.89 L711.50,547.87 L712.00,547.56 L712.50,547.92 L713.00,547.97 L713.50,548.12 L714.00,548.08 L714.50,548.09 L715.00,548.05 L715.50,548.11 L716.00,548.22 L716.50,547.92 L717.00,548.00 L717.50,547.90 L718.00,548.27 L718.50,548.24 L719.00,548.18 L719.50,547.95 L720.00,548.13 L720.50,548.09 L721.00,548.13 L721.50,548.11 L722.00,548.20 L722.50,548.10 L723.00,548.26 L723.50,548.19 L724.00,548.14 L724.50,548.17 L725.00,548.13 L725.50,548.29 L726.00,548.17 L726.50,548.25 L727.00,548.17 L727.50,548.05 L728.00,548.34 L728.50,548.12 L729.00,548.33 L729.50,548.31 L730.00,548.07 L730.50,548.16 L731.00,548.22 L731.50,548.19 L732.00,548.16 L732.50,548.40 L733.00,548.29 L733.50,548.37 L734.00,548.28 L734.50,548.38 L735.00,548.26 L735.50,548.35 L736.00,548.43 L736.50,548.38 L737.00,548.32 L737.50,548.26 L738.00,548.41 L738.50,548.44 L739.00,548.38 L739.50,548.33 L740.00,548.49 L740.50,548.73 L741.00,548.41 L741.50,548.49 L742.00,548.50 L742.50,548.16 L743.00,548.49 L743.50,548.40 L744.00,548.66 L744.50,548.47 L745.00,548.41 L745.50,548.49 L746.00,548.54 L746.50,548.46 L747.00,548.53 L747.50,548.38 L748.00,548.53 L748.50,548.66 L749.00,548.81 L749.50,548.66 L750.00,548.62 L750.50,548.74 L751.00,548.72 L751.50,548.81 L752.00,548.75 L752.50,548.61 L753.00,548.66 L753.50,548.66 L754.00,548.69 L754.50,548.68 L755.00,548.57 L755.50,548.42 L756.00,548.60 L756.50,548.45 L757.00,548.71 L757.50,548.71 L758.00,548.51 L758.50,548.80 L759.00,548.83 L759.50,548.75 L760.00,548.95 L760.50,548.98 L761.00,548.62 L761.50,548.89 L762.00,548.83 L762.50,548.84 L763.00,548.91 L763.50,548.72 L764.00,548.74 L764.50,548.72 L765.00,548.74 L765.50,548.82 L766.00,548.67 L766.50,548.72 L767.00,548.93 L767.50,548.86 L768.00,548.92 L768.50,548.65 L769.00,548.80 L769.50,548.83 L770.00,548.91 L770.50,548.84 L771.00,549.03 L771.50,548.92 L772.00,548.94 L772.50,548.95 L773.00,549.04 L773.50,548.90 L774.00,549.10 L774.50,549.03 L775.00,549.00 L775.50,549.00 L776.00,549.06 L776.50,549.13 L777.00,549.13 L777.50,549.07 L778.00,549.14 L778.50,549.06 L779.00,549.20 L779.50,549.05 L780.00,548.82 L780.50,549.23 L781.00,549.09 L781.50,548.95 L782.00,549.07 L782.50,549.00 L783.00,549.37 L783.50,549.18 L784.00,548.94 L784.50,549.20 L785.00,549.10 L785.50,549.38 L786.00,549.03 L786.50,548.90 L787.00,549.18 L787.50,549.14 L788.00,549.14 L788.50,548.94 L789.00,549.26 L789.50,549.42 L790.00,549.00 L790.50,549.37 L791.00,549.17 L791.50,549.53 L792.00,549.31 L792.50,549.24 L793.00,549.41 L793.50,549.34 L794.00,549.22 L794.50,549.38 L795.00,549.24 L795.50,549.10 L796.00,549.56 L796.50,549.29 L797.00,549.26 L797.50,549.39 L798.00,549.17 L798.50,549.20 L799.00,549.31 L799.50,549.31 L800.00,549.39 L800.50,549.53 L801.00,549.34 L801.50,549.47 L802.00,549.49 L802.50,549.29 L803.00,549.46 L803.50,549.33 L804.00,549.58 L804.50,549.51 L805.00,549.47 L805.50,549.31 L806.00,549.49 L806.50,549.40 L807.00,549.58 L807.50,549.49 L808.00,549.41 L808.50,549.63 L809.00,549.62 L809.50,549.47 L810.00,549.68 L810.50,549.52 L811.00,549.52 L811.50,549.58 L812.00,549.49 L812.50,549.53 L813.00,549.57 L813.50,549.78 L814.00,549.79 L814.50,549.59 L815.00,549.82 L815.50,549.63 L816.00,549.69 L816.50,549.75 L817.00,549.69 L817.50,549.95 L818.00,549.70 L818.50,549.54 L819.00,549.84 L819.50,549.65 L820.00,549.67 L820.50,549.35 L821.00,549.84 L821.50,549.83 L822.00,549.83 L822.50,549.86 L823.00,549.95 L823.50,549.75 L824.00,549.88 L824.50,549.69 L825.00,549.74 L825.50,549.92" fill="none" stroke="#222" stroke-width="1.2" stroke-linejoin="round" />
<path d="M370.00,781.55 L370.50,781.34 L371.00,781.55 L371.50,781.49 L372.00,781.42 L372.50,781.58 L373.00,781.48 L373.50,781.35 L374.00,781.41 L374.50,781.76 L375.00,781.37 L375.50,781.58 L376.00,781.63 L376.50,781.64 L377.00,781.42 L377.50,781.53 L378.00,781.60 L378.50,781.68 L379.00,781.51 L379.50,781.45 L380.00,781.72 L380.50,781.74 L381.00,781.65 L381.50,781.54 L382.00,781.67 L382.50,781.64 L383.00,781.73 L383.50,781.48 L384.00,781.65 L384.50,781.62 L385.00,781.51 L385.50,781.68 L386.00,781.66 L386.50,781.61 L387.00,781.71 L387.50,781.50 L388.00,781.67 L388.50,781.73 L389.00,781.72 L389.50,781.82 L390.00,781.55 L390.50,781.52 L391.00,781.73 L391.50,781.76 L392.00,781.97 L392.50,781.79 L393.00,781.62 L393.50,781.83 L394.00,781.63 L394.50,781.56 L395.00,782.06 L395.50,781.79 L396.00,781.84 L396.50,781.83 L397.00,781.98 L397.50,781.80 L398.00,781.92 L398.50,781.66 L399.00,781.62 L399.50,781.96 L400.00,781.97 L400.50,781.86 L401.00,781.83 L401.50,781.83 L402.00,781.73 L402.50,782.00 L403.00,781.90 L403.50,781.89 L404.00,781.88 L404.50,781.96 L405.00,781.90 L405.50,781.94 L406.00,781.71 L406.50,781.92 L407.00,782.12 L407.50,781.80 L408.00,781.86 L408.50,781.98 L409.00,782.00 L409.50,781.96 L410.00,781.70 L410.50,781.96 L411.00,781.76 L411.50,781.81 L412.00,781.98 L412.50,781.88 L413.00,782.02 L413.50,782.30 L414.00,782.02 L414.50,782.02 L415.00,781.83 L415.50,781.87 L416.00,781.82 L416.50,781.89 L417.00,781.83 L417.50,781.89 L418.00,781.94 L418.50,781.85 L419.00,781.81 L419.50,781.82 L420.00,782.04 L420.50,782.00 L421.00,782.12 L421.50,782.13 L422.00,781.97 L422.50,782.09 L423.00,781.85 L423.50,782.30 L424.00,782.17 L424.50,782.01 L425.00,781.90 L425.50,782.09 L426.00,781.82 L426.50,781.96 L427.00,782.15 L427.50,782.07 L428.00,782.01 L428.50,782.19 L429.00,781.95 L429.50,782.12 L430.00,782.03 L430.50,781.99 L431.00,782.15 L431.50,781.98 L432.00,782.33 L432.50,782.04 L433.00,782.36 L433.50,781.99 L434.00,782.20 L434.50,781.99 L435.00,781.97 L435.50,782.16 L436.00,782.23 L436.50,782.00 L437.00,782.30 L437.50,782.06 L438.00,782.18 L438.50,782.22 L439.00,782.25 L439.50,781.96 L440.00,782.38 L440.50,782.26 L441.00,782.14 L441.50,782.08 L442.00,782.00 L442.50,782.05 L443.00,782.28 L443.50,782.18 L444.00,782.09 L444.50,782.17 L445.00,782.42 L445.50,782.20 L446.00,782.17 L446.50,782.41 L447.00,782.31 L447.50,782.26 L448.00,782.19 L448.50,779.08 L449.00,774.13 L449.50,770.81 L450.00,773.37 L450.50,775.41 L451.00,776.97 L451.50,778.12 L452.00,779.06 L452.50,779.64 L453.00,780.07 L453.50,780.71 L454.00,781.00 L454.50,781.31 L455.00,781.57 L455.50,781.62 L456.00,781.77 L456.50,781.99 L457.00,782.10 L457.50,782.07 L458.00,782.26 L458.50,782.21 L459.00,782.15 L459.50,782.30 L460.00,782.55 L460.50,782.26 L461.00,782.49 L461.50,782.53 L462.00,782.56 L462.50,782.29 L463.00,782.64 L463.50,782.42 L464.00,782.38 L464.50,782.39 L465.00,782.50 L465.50,782.44 L466.00,782.41 L466.50,782.60 L467.00,782.36 L467.50,782.33 L468.00,782.55 L468.50,782.55 L469.00,782.60 L469.50,782.34 L470.00,782.61 L470.50,782.54 L471.00,782.70 L471.50,782.34 L472.00,782.52 L472.50,782.47 L473.00,782.32 L473.50,782.43 L474.00,782.65 L474.50,782.47 L475.00,782.44 L475.50,780.14 L476.00,775.99 L476.50,773.15 L477.00,775.04 L477.50,776.78 L478.00,778.19 L478.50,778.98 L479.00,779.75 L479.50,780.55 L480.00,781.11 L480.50,781.16 L481.00,781.27 L481.50,781.64 L482.00,781.87 L482.50,782.11 L483.00,782.31 L483.50,782.31 L484.00,782.31 L484.50,782.46 L485.00,782.37 L485.50,782.52 L486.00,782.48 L486.50,782.90 L487.00,782.69 L487.50,782.51 L488.00,782.50 L488.50,782.58 L489.00,782.45 L489.50,782.57 L490.00,782.57 L490.50,782.78 L491.00,782.63 L491.50,782.59 L492.00,782.53 L492.50,782.55 L493.00,782.69 L493.50,782.68 L494.00,782.85 L494.50,782.64 L495.00,782.85 L495.50,782.76 L496.00,782.73 L496.50,782.50 L497.00,782.59 L497.50,782.84 L498.00,782.92 L498.50,782.78 L499.00,782.85 L499.50,782.72 L500.00,782.73 L500.50,782.70 L501.00,782.90 L501.50,781.41 L502.00,777.80 L502.50,774.26 L503.00,776.25 L503.50,777.69 L504.00,778.70 L504.50,779.89 L505.00,780.42 L505.50,780.93 L506.00,781.53 L506.50,781.81 L507.00,781.93 L507.50,782.21 L508.00,782.18 L508.50,782.35 L509.00,782.26 L509.50,782.75 L510.00,782.44 L510.50,782.80 L511.00,782.66 L511.50,782.67 L512.00,782.79 L512.50,782.87 L513.00,782.93 L513.50,783.08 L514.00,782.92 L514.50,783.00 L515.00,782.83 L515.50,783.00 L516.00,782.94 L516.50,782.87 L517.00,782.92 L517.50,782.93 L518.00,782.97 L518.50,783.00 L519.00,782.89 L519.50,782.87 L520.00,783.06 L520.50,782.77 L521.00,782.90 L521.50,783.17 L522.00,782.66 L522.50,782.91 L523.00,783.08 L523.50,782.80 L524.00,783.32 L524.50,782.70 L525.00,783.19 L525.50,783.21 L526.00,783.14 L526.50,783.00 L527.00,783.08 L527.50,782.93 L528.00,783.14 L528.50,779.58 L529.00,776.36 L529.50,776.29 L530.00,777.57 L530.50,778.85 L531.00,779.84 L531.50,780.39 L532.00,781.25 L532.50,781.59 L533.00,781.72 L533.50,782.16 L534.00,782.29 L534.50,782.47 L535.00,782.68 L535.50,782.69 L536.00,782.97 L536.50,782.84 L537.00,783.09 L537.50,783.01 L538.00,783.15 L538.50,783.01 L539.00,783.03 L539.50,782.97 L540.00,783.20 L540.50,783.25 L541.00,783.41 L541.50,783.32 L542.00,783.20 L542.50,783.15 L543.00,783.23 L543.50,783.19 L544.00,783.37 L544.50,783.32 L545.00,783.11 L545.50,783.13 L546.00,783.38 L546.50,783.26 L547.00,783.20 L547.50,783.38 L548.00,783.19 L548.50,783.21 L549.00,783.20 L549.50,783.02 L550.00,783.36 L550.50,783.12 L551.00,783.20 L551.50,783.19 L552.00,783.37 L552.50,783.28 L553.00,783.29 L553.50,783.09 L554.00,783.29 L554.50,783.13 L555.00,780.68 L555.50,777.36 L556.00,776.08 L556.50,777.93 L557.00,779.00 L557.50,779.99 L558.00,780.69 L558.50,781.25 L559.00,781.85 L559.50,782.23 L560.00,782.22 L560.50,782.73 L561.00,782.84 L561.50,783.03 L562.00,783.07 L562.50,782.95 L563.00,783.03 L563.50,783.44 L564.00,783.30 L564.50,783.13 L565.00,783.37 L565.50,783.31 L566.00,783.15 L566.50,783.11 L567.00,783.21 L567.50,783.44 L568.00,783.41 L568.50,783.40 L569.00,783.47 L569.50,783.52 L570.00,783.20 L570.50,783.42 L571.00,783.36 L571.50,783.32 L572.00,783.41 L572.50,783.46 L573.00,783.45 L573.50,783.32 L574.00,783.44 L574.50,783.74 L575.00,783.38 L575.50,783.31 L576.00,783.55 L576.50,783.59 L577.00,783.58 L577.50,783.40 L578.00,783.65 L578.50,783.45 L579.00,783.41 L579.50,783.48 L580.00,783.54 L580.50,783.64 L581.00,783.64 L581.50,783.57 L582.00,783.69 L582.50,783.59 L583.00,783.69 L583.50,783.42 L584.00,783.40 L584.50,783.69 L585.00,783.44 L585.50,783.57 L586.00,783.60 L586.50,783.56 L587.00,783.57 L587.50,783.79 L588.00,783.33 L588.50,783.74 L589.00,783.92 L589.50,783.65 L590.00,783.65 L590.50,783.74 L591.00,783.88 L591.50,783.52 L592.00,783.68 L592.50,783.65 L593.00,783.75 L593.50,783.71 L594.00,783.77 L594.50,783.65 L595.00,783.71 L595.50,783.63 L596.00,783.63 L596.50,783.70 L597.00,783.70 L597.50,783.58 L598.00,783.92 L598.50,783.72 L599.00,783.57 L599.50,783.88 L600.00,783.66 L600.50,783.82 L601.00,783.76 L601.50,783.79 L602.00,783.79 L602.50,783.71 L603.00,783.78 L603.50,784.03 L604.00,783.52 L604.50,783.80 L605.00,783.85 L605.50,783.68 L606.00,783.64 L606.50,784.07 L607.00,783.77 L607.50,784.07 L608.00,783.89 L608.50,783.84 L609.00,783.90 L609.50,783.92 L610.00,783.99 L610.50,783.91 L611.00,783.87 L611.50,783.88 L612.00,784.03 L612.50,783.97 L613.00,783.76 L613.50,783.81 L614.00,783.93 L614.50,783.82 L615.00,783.85 L615.50,783.79 L616.00,783.88 L616.50,783.96 L617.00,784.04 L617.50,783.92 L618.00,784.18 L618.50,783.92 L619.00,784.32 L619.50,784.06 L620.00,784.01 L620.50,783.89 L621.00,783.62 L621.50,783.94 L622.00,783.99 L622.50,784.20 L623.00,783.81 L623.50,784.21 L624.00,783.95 L624.50,784.08 L625.00,783.69 L625.50,784.02 L626.00,783.96 L626.50,784.09 L627.00,784.03 L627.50,783.88 L628.00,784.14 L628.50,784.11 L629.00,784.11 L629.50,784.16 L630.00,784.18 L630.50,784.05 L631.00,783.89 L631.50,783.89 L632.00,784.23 L632.50,784.15 L633.00,784.09 L633.50,784.03 L634.00,784.09 L634.50,784.09 L635.00,784.05 L635.50,784.01 L636.00,784.36 L636.50,784.13 L637.00,784.04 L637.50,783.96 L638.00,784.03 L638.50,784.21 L639.00,784.22 L639.50,784.11 L640.00,784.15 L640.50,784.11 L641.00,784.02 L641.50,784.31 L642.00,784.21 L642.50,784.46 L643.00,784.08 L643.50,784.16 L644.00,784.29 L644.50,784.16 L645.00,784.02 L645.50,784.08 L646.00,784.21 L646.50,784.25 L647.00,784.20 L647.50,784.34 L648.00,784.34 L648.50,784.26 L649.00,784.23 L649.50,784.20 L650.00,784.31 L650.50,784.35 L651.00,784.26 L651.50,784.31 L652.00,784.22 L652.50,784.09 L653.00,784.15 L653.50,784.37 L654.00,784.33 L654.50,784.47 L655.00,784.29 L655.50,784.40 L656.00,784.46 L656.50,784.42 L657.00,784.23 L657.50,784.29 L658.00,784.33 L658.50,784.20 L659.00,784.38 L659.50,784.45 L660.00,784.28 L660.50,784.58 L661.00,784.31 L661.50,784.33 L662.00,784.33 L662.50,784.28 L663.00,784.42 L663.50,784.37 L664.00,784.58 L664.50,784.45 L665.00,784.45 L665.50,784.36 L666.00,784.23 L666.50,784.39 L667.00,784.30 L667.50,784.52 L668.00,784.41 L668.50,784.62 L669.00,784.51 L669.50,784.53 L670.00,784.46 L670.50,784.46 L671.00,784.52 L671.50,784.56 L672.00,784.37 L672.50,784.52 L673.00,784.78 L673.50,784.46 L674.00,784.44 L674.50,784.40 L675.00,784.31 L675.50,784.63 L676.00,784.50 L676.50,784.53 L677.00,784.72 L677.50,784.81 L678.00,784.41 L678.50,784.64 L679.00,784.60 L679.50,784.58 L680.00,784.59 L680.50,784.53 L681.00,784.73 L681.50,784.62 L682.00,784.59 L682.50,784.71 L683.00,784.67 L683.50,784.62 L684.00,784.61 L684.50,784.79 L685.00,784.64 L685.50,784.58 L686.00,784.49 L686.50,784.56 L687.00,784.48 L687.50,784.62 L688.00,784.64 L688.50,784.37 L689.00,784.62 L689.50,784.70 L690.00,784.65 L690.50,784.52 L691.00,784.79 L691.50,784.56 L692.00,784.50 L692.50,784.53 L693.00,784.66 L693.50,784.78 L694.00,784.81 L694.50,784.70 L695.00,784.54 L695.50,784.61 L696.00,784.58 L696.50,784.67 L697.00,784.49 L697.50,784.72 L698.00,784.79 L698.50,784.70 L699.00,784.77 L699.50,784.61 L700.00,784.55 L700.50,784.66 L701.00,784.88 L701.50,784.87 L702.00,784.69 L702.50,784.90 L703.00,784.72 L703.50,784.94 L704.00,784.83 L704.50,784.72 L705.00,784.87 L705.50,784.69 L706.00,784.67 L706.50,784.62 L707.00,784.83 L707.50,784.80 L708.00,784.80 L708.50,784.76 L709.00,784.99 L709.50,784.77 L710.00,784.74 L710.50,784.98 L711.00,785.01 L711.50,784.88 L712.00,784.64 L712.50,784.78 L713.00,784.93 L713.50,784.86 L714.00,785.05 L714.50,784.71 L715.00,784.96 L715.50,784.80 L716.00,785.04 L716.50,784.88 L717.00,785.02 L717.50,784.82 L718.00,784.74 L718.50,784.78 L719.00,784.84 L719.50,784.80 L720.00,785.07 L720.50,785.09 L721.00,784.97 L721.50,784.81 L722.00,784.93 L722.50,784.87 L723.00,785.13 L723.50,785.00 L724.00,785.02 L724.50,784.92 L725.00,784.73 L725.50,784.89 L726.00,784.85 L726.50,785.03 L727.00,785.00 L727.50,784.90 L728.00,784.96 L728.50,785.20 L729.00,784.90 L729.50,784.91 L730.00,784.99 L730.50,784.94 L731.00,784.98 L731.50,785.10 L732.00,785.25 L732.50,784.83 L733.00,785.05 L733.50,785.06 L734.00,785.05 L734.50,785.04 L735.00,785.03 L735.50,785.20 L736.00,785.02 L736.50,785.07 L737.00,785.09 L737.50,785.11 L738.00,785.08 L738.50,785.22 L739.00,785.11 L739.50,785.14 L740.00,785.11 L740.50,785.00 L741.00,785.03 L741.50,785.01 L742.00,785.16 L742.50,785.06 L743.00,785.02 L743.50,785.18 L744.00,785.22 L744.50,784.95 L745.00,785.37 L745.50,785.18 L746.00,785.17 L746.50,785.31 L747.00,785.20 L747.50,785.12 L748.00,785.46 L748.50,785.07 L749.00,785.20 L749.50,785.31 L750.00,785.09 L750.50,785.21 L751.00,785.27 L751.50,785.52 L752.00,785.13 L752.50,785.24 L753.00,785.33 L753.50,785.26 L754.00,785.11 L754.50,785.31 L755.00,785.28 L755.50,785.32 L756.00,785.41 L756.50,785.40 L757.00,785.33 L757.50,785.33 L758.00,785.16 L758.50,785.28 L759.00,785.33 L759.50,785.26 L760.00,785.33 L760.50,785.22 L761.00,785.51 L761.50,785.59 L762.00,785.29 L762.50,785.39 L763.00,785.32 L763.50,785.50 L764.00,785.41 L764.50,785.37 L765.00,785.34 L765.50,785.38 L766.00,785.25 L766.50,785.46 L767.00,785.30 L767.50,785.45 L768.00,785.41 L768.50,785.53 L769.00,785.40 L769.50,785.53 L770.00,785.30 L770.50,785.49 L771.00,785.40 L771.50,785.45 L772.00,785.44 L772.50,785.55 L773.00,785.20 L773.50,785.49 L774.00,785.27 L774.50,785.60 L775.00,785.23 L775.50,785.35 L776.00,785.27 L776.50,785.67 L777.00,785.33 L777.50,785.50 L778.00,785.43 L778.50,785.28 L779.00,785.46 L779.50,785.59 L780.00,785.49 L780.50,785.63 L781.00,785.48 L781.50,785.53 L782.00,785.48 L782.50,785.58 L783.00,785.77 L783.50,785.59 L784.00,785.57 L784.50,785.48 L785.00,785.47 L785.50,785.74 L786.00,785.44 L786.50,785.46 L787.00,785.57 L787.50,785.53 L788.00,785.82 L788.50,785.31 L789.00,785.64 L789.50,785.69 L790.00,785.47 L790.50,785.54 L791.00,785.67 L791.50,785.82 L792.00,785.52 L792.50,785.44 L793.00,785.75 L793.50,785.83 L794.00,785.61 L794.50,785.39 L795.00,785.83 L795.50,785.64 L796.00,785.80 L796.50,785.67 L797.00,785.63 L797.50,785.63 L798.00,785.86 L798.50,785.86 L799.00,785.44 L799.50,785.59 L800.00,785.92 L800.50,785.67 L801.00,785.55 L801.50,785.72 L802.00,785.71 L802.50,785.72 L803.00,785.68 L803.50,785.70 L804.00,785.69 L804.50,785.79 L805.00,785.66 L805.50,785.73 L806.00,785.75 L806.50,785.93 L807.00,785.82 L807.50,785.77 L808.00,785.85 L808.50,785.84 L809.00,785.93 L809.50,785.86 L810.00,786.02 L810.50,785.97 L811.00,785.81 L811.50,785.77 L812.00,785.93 L812.50,785.89 L813.00,785.82 L813.50,785.66 L814.00,785.62 L814.50,785.89 L815.00,785.95 L815.50,785.95 L816.00,785.71 L816.50,785.99 L817.00,785.81 L817.50,785.92 L818.00,785.93 L818.50,785.79 L819.00,785.82 L819.50,785.65 L820.00,785.79 L820.50,785.69 L821.00,785.96 L821.50,785.92 L822.00,786.03 L822.50,785.97 L823.00,785.86 L823.50,785.98 L824.00,785.89 L824.50,786.02 L825.00,785.99 L825.50,785.84 L826.00,785.96 L826.50,785.97 L827.00,785.93 L827.50,786.08 L828.00,786.19 L828.50,785.94 L829.00,785.95 L829.50,785.73" fill="none" stroke="#222" stroke-width="1.2" stroke-linejoin="round" />
<path d="M369.00,878.98 L369.50,878.95 L370.00,878.75 L370.50,879.05 L371.00,879.09 L371.50,878.93 L372.00,878.98 L372.50,878.91 L373.00,879.12 L373.50,878.85 L374.00,879.00 L374.50,879.27 L375.00,879.05 L375.50,879.10 L376.00,879.03 L376.50,878.91 L377.00,879.06 L377.50,879.11 L378.00,878.94 L378.50,879.11 L379.00,879.22 L379.50,879.21 L380.00,878.89 L380.50,878.97 L381.00,878.89 L381.50,879.22 L382.00,879.17 L382.50,879.18 L383.00,879.00 L383.50,878.97 L384.00,879.12 L384.50,879.13 L385.00,879.02 L385.50,879.14 L386.00,879.20 L386.50,879.16 L387.00,879.01 L387.50,878.88 L388.00,879.11 L388.50,879.16 L389.00,879.12 L389.50,879.10 L390.00,879.07 L390.50,879.24 L391.00,879.16 L391.50,879.18 L392.00,879.05 L392.50,879.10 L393.00,879.20 L393.50,879.06 L394.00,879.03 L394.50,879.15 L395.00,879.34 L395.50,879.22 L396.00,879.37 L396.50,879.19 L397.00,879.17 L397.50,879.04 L398.00,879.14 L398.50,879.39 L399.00,879.26 L399.50,879.31 L400.00,879.31 L400.50,879.23 L401.00,879.21 L401.50,879.25 L402.00,879.32 L402.50,879.30 L403.00,879.31 L403.50,879.27 L404.00,879.17 L404.50,879.23 L405.00,879.15 L405.50,879.39 L406.00,879.02 L406.50,879.25 L407.00,879.57 L407.50,879.24 L408.00,879.15 L408.50,879.29 L409.00,879.45 L409.50,879.28 L410.00,879.38 L410.50,879.32 L411.00,879.27 L411.50,879.69 L412.00,879.33 L412.50,879.26 L413.00,879.27 L413.50,879.37 L414.00,879.38 L414.50,879.43 L415.00,879.36 L415.50,879.17 L416.00,879.41 L416.50,879.31 L417.00,879.32 L417.50,879.18 L418.00,879.29 L418.50,879.28 L419.00,879.36 L419.50,879.20 L420.00,879.38 L420.50,879.39 L421.00,879.25 L421.50,879.31 L422.00,879.29 L422.50,879.50 L423.00,879.09 L423.50,879.36 L424.00,879.21 L424.50,879.36 L425.00,879.51 L425.50,879.34 L426.00,879.44 L426.50,879.32 L427.00,879.66 L427.50,879.54 L428.00,879.57 L428.50,879.28 L429.00,879.31 L429.50,879.58 L430.00,879.43 L430.50,879.42 L431.00,879.50 L431.50,879.31 L432.00,879.56 L432.50,879.47 L433.00,879.53 L433.50,879.40 L434.00,879.54 L434.50,879.40 L435.00,879.60 L435.50,879.63 L436.00,879.60 L436.50,879.56 L437.00,879.58 L437.50,879.18 L438.00,879.61 L438.50,879.48 L439.00,879.53 L439.50,879.49 L440.00,879.36 L440.50,879.46 L441.00,879.61 L441.50,879.70 L442.00,879.46 L442.50,879.43 L443.00,874.51 L443.50,869.03 L444.00,869.57 L444.50,872.23 L445.00,874.20 L445.50,875.92 L446.00,877.07 L446.50,877.47 L447.00,878.38 L447.50,878.55 L448.00,879.05 L448.50,879.03 L449.00,879.04 L449.50,879.39 L450.00,879.52 L450.50,879.72 L451.00,879.72 L451.50,879.62 L452.00,879.53 L452.50,879.52 L453.00,879.56 L453.50,879.51 L454.00,879.58 L454.50,879.32 L455.00,879.65 L455.50,879.63 L456.00,879.95 L456.50,879.73 L457.00,879.59 L457.50,879.72 L458.00,879.51 L458.50,879.59 L459.00,879.44 L459.50,879.84 L460.00,879.74 L460.50,879.53 L461.00,879.67 L461.50,879.80 L462.00,879.75 L462.50,879.74 L463.00,879.59 L463.50,879.62 L464.00,879.71 L464.50,879.81 L465.00,879.61 L465.50,879.58 L466.00,879.85 L466.50,879.61 L467.00,879.85 L467.50,879.76 L468.00,879.84 L468.50,879.94 L469.00,879.82 L469.50,879.83 L470.00,876.30 L470.50,872.17 L471.00,871.08 L471.50,873.67 L472.00,875.43 L472.50,876.82 L473.00,877.50 L473.50,878.14 L474.00,878.71 L474.50,878.93 L475.00,879.17 L475.50,879.22 L476.00,879.60 L476.50,879.44 L477.00,879.70 L477.50,879.52 L478.00,879.85 L478.50,879.63 L479.00,879.87 L479.50,879.59 L480.00,879.74 L480.50,879.95 L481.00,879.72 L481.50,879.83 L482.00,879.77 L482.50,879.56 L483.00,879.87 L483.50,879.89 L484.00,879.71 L484.50,879.92 L485.00,879.76 L485.50,879.74 L486.00,879.86 L486.50,879.78 L487.00,880.15 L487.50,879.69 L488.00,879.97 L488.50,880.00 L489.00,879.65 L489.50,879.68 L490.00,879.96 L490.50,879.84 L491.00,879.95 L491.50,880.04 L492.00,879.86 L492.50,879.78 L493.00,879.59 L493.50,879.94 L494.00,879.81 L494.50,879.96 L495.00,879.96 L495.50,879.77 L496.00,880.14 L496.50,880.07 L497.00,880.05 L497.50,876.47 L498.00,872.40 L498.50,871.14 L499.00,873.64 L499.50,875.33 L500.00,876.80 L500.50,877.69 L501.00,878.36 L501.50,878.73 L502.00,879.29 L502.50,879.40 L503.00,879.22 L503.50,879.60 L504.00,879.77 L504.50,879.95 L505.00,879.85 L505.50,879.89 L506.00,879.87 L506.50,880.05 L507.00,879.93 L507.50,879.93 L508.00,879.92 L508.50,880.08 L509.00,879.96 L509.50,879.83 L510.00,880.11 L510.50,879.96 L511.00,880.09 L511.50,880.09 L512.00,880.20 L512.50,880.18 L513.00,879.99 L513.50,880.05 L514.00,879.91 L514.50,880.27 L515.00,880.13 L515.50,880.25 L516.00,880.05 L516.50,879.84 L517.00,880.28 L517.50,880.11 L518.00,880.11 L518.50,880.11 L519.00,880.18 L519.50,880.17 L520.00,879.92 L520.50,880.25 L521.00,880.06 L521.50,880.07 L522.00,880.34 L522.50,880.24 L523.00,876.76 L523.50,872.42 L524.00,871.41 L524.50,873.94 L525.00,875.65 L525.50,876.79 L526.00,877.76 L526.50,878.36 L527.00,879.01 L527.50,879.42 L528.00,879.69 L528.50,879.65 L529.00,879.90 L529.50,880.03 L530.00,879.97 L530.50,880.06 L531.00,880.37 L531.50,880.16 L532.00,880.27 L532.50,880.12 L533.00,880.19 L533.50,879.99 L534.00,880.20 L534.50,880.36 L535.00,880.47 L535.50,880.37 L536.00,880.31 L536.50,880.24 L537.00,880.17 L537.50,880.22 L538.00,880.32 L538.50,880.16 L539.00,880.37 L539.50,880.14 L540.00,880.05 L540.50,880.14 L541.00,880.07 L541.50,880.11 L542.00,880.41 L542.50,880.26 L543.00,880.31 L543.50,880.43 L544.00,880.44 L544.50,880.23 L545.00,880.46 L545.50,880.35 L546.00,880.31 L546.50,880.36 L547.00,880.14 L547.50,880.22 L548.00,880.31 L548.50,880.40 L549.00,880.28 L549.50,879.48 L550.00,875.45 L550.50,871.34 L551.00,872.78 L551.50,875.01 L552.00,876.37 L552.50,877.50 L553.00,878.38 L553.50,878.88 L554.00,879.27 L554.50,879.82 L555.00,879.82 L555.50,879.88 L556.00,880.16 L556.50,880.41 L557.00,880.26 L557.50,880.44 L558.00,880.27 L558.50,880.29 L559.00,880.28 L559.50,880.36 L560.00,880.61 L560.50,880.26 L561.00,880.60 L561.50,880.29 L562.00,880.39 L562.50,880.52 L563.00,880.50 L563.50,880.47 L564.00,880.24 L564.50,880.48 L565.00,880.32 L565.50,880.76 L566.00,880.43 L566.50,880.48 L567.00,880.32 L567.50,880.41 L568.00,880.31 L568.50,880.59 L569.00,880.44 L569.50,880.55 L570.00,880.40 L570.50,880.43 L571.00,880.64 L571.50,880.38 L572.00,880.28 L572.50,880.55 L573.00,880.37 L573.50,880.46 L574.00,880.62 L574.50,880.42 L575.00,880.62 L575.50,880.44 L576.00,880.71 L576.50,880.69 L577.00,880.48 L577.50,880.51 L578.00,880.44 L578.50,880.57 L579.00,880.69 L579.50,880.38 L580.00,880.67 L580.50,880.40 L581.00,880.46 L581.50,880.35 L582.00,880.82 L582.50,880.58 L583.00,880.61 L583.50,880.50 L584.00,880.71 L584.50,880.34 L585.00,880.60 L585.50,880.86 L586.00,880.55 L586.50,880.61 L587.00,880.69 L587.50,880.51 L588.00,880.62 L588.50,880.73 L589.00,880.65 L589.50,880.67 L590.00,880.59 L590.50,880.67 L591.00,880.64 L591.50,880.82 L592.00,880.73 L592.50,880.62 L593.00,880.36 L593.50,880.74 L594.00,880.75 L594.50,880.55 L595.00,880.43 L595.50,880.53 L596.00,880.79 L596.50,880.55 L597.00,880.63 L597.50,880.71 L598.00,880.84 L598.50,880.69 L599.00,880.68 L599.50,880.63 L600.00,880.90 L600.50,880.84 L601.00,880.70 L601.50,880.55 L602.00,880.62 L602.50,880.79 L603.00,880.64 L603.50,880.84 L604.00,880.78 L604.50,880.77 L605.00,880.82 L605.50,880.80 L606.00,880.65 L606.50,880.71 L607.00,881.04 L607.50,880.61 L608.00,880.71 L608.50,880.89 L609.00,880.75 L609.50,880.68 L610.00,880.62 L610.50,880.85 L611.00,880.91 L611.50,880.96 L612.00,880.80 L612.50,880.92 L613.00,880.68 L613.50,880.82 L614.00,880.73 L614.50,880.83 L615.00,880.90 L615.50,880.95 L616.00,880.70 L616.50,880.98 L617.00,880.77 L617.50,880.71 L618.00,880.82 L618.50,880.66 L619.00,880.84 L619.50,880.88 L620.00,880.83 L620.50,880.92 L621.00,880.82 L621.50,880.86 L622.00,880.69 L622.50,880.87 L623.00,880.77 L623.50,880.82 L624.00,880.87 L624.50,880.91 L625.00,880.69 L625.50,880.70 L626.00,880.86 L626.50,880.96 L627.00,880.95 L627.50,881.01 L628.00,881.07 L628.50,880.97 L629.00,880.92 L629.50,880.80 L630.00,880.81 L630.50,880.87 L631.00,880.96 L631.50,880.96 L632.00,880.94 L632.50,880.93 L633.00,881.02 L633.50,880.98 L634.00,880.99 L634.50,881.00 L635.00,880.90 L635.50,880.84 L636.00,881.03 L636.50,881.02 L637.00,880.95 L637.50,880.93 L638.00,881.26 L638.50,880.90 L639.00,880.97 L639.50,881.03 L640.00,880.86 L640.50,881.02 L641.00,881.22 L641.50,881.12 L642.00,881.09 L642.50,881.09 L643.00,881.03 L643.50,881.14 L644.00,881.01 L644.50,880.98 L645.00,881.05 L645.50,881.15 L646.00,881.08 L646.50,881.13 L647.00,880.81 L647.50,881.20 L648.00,881.34 L648.50,881.22 L649.00,881.03 L649.50,880.97 L650.00,881.11 L650.50,880.96 L651.00,881.17 L651.50,881.02 L652.00,881.20 L652.50,881.25 L653.00,880.85 L653.50,881.13 L654.00,881.02 L654.50,880.94 L655.00,881.04 L655.50,881.09 L656.00,881.24 L656.50,880.94 L657.00,881.25 L657.50,881.37 L658.00,881.20 L658.50,881.20 L659.00,881.14 L659.50,881.00 L660.00,881.21 L660.50,881.20 L661.00,881.24 L661.50,881.47 L662.00,881.25 L662.50,881.22 L663.00,881.36 L663.50,881.01 L664.00,881.04 L664.50,881.13 L665.00,881.10 L665.50,881.27 L666.00,881.15 L666.50,881.40 L667.00,881.38 L667.50,881.29 L668.00,881.16 L668.50,881.28 L669.00,881.31 L669.50,881.09 L670.00,881.26 L670.50,881.31 L671.00,881.25 L671.50,881.42 L672.00,881.38 L672.50,881.14 L673.00,881.26 L673.50,881.15 L674.00,881.32 L674.50,881.15 L675.00,881.37 L675.50,881.31 L676.00,881.38 L676.50,881.25 L677.00,881.10 L677.50,881.49 L678.00,881.26 L678.50,881.45 L679.00,881.34 L679.50,881.37 L680.00,881.51 L680.50,881.34 L681.00,881.47 L681.50,881.13 L682.00,881.41 L682.50,881.28 L683.00,881.30 L683.50,881.32 L684.00,881.36 L684.50,881.53 L685.00,881.11 L685.50,881.34 L686.00,881.25 L686.50,881.48 L687.00,881.29 L687.50,881.40 L688.00,881.31 L688.50,881.44 L689.00,881.48 L689.50,881.32 L690.00,881.37 L690.50,881.20 L691.00,881.41 L691.50,881.48 L692.00,881.32 L692.50,881.52 L693.00,881.14 L693.50,881.17 L694.00,881.23 L694.50,881.34 L695.00,881.41 L695.50,881.40 L696.00,881.40 L696.50,881.50 L697.00,881.36 L697.50,881.27 L698.00,881.28 L698.50,881.68 L699.00,881.15 L699.50,881.42 L700.00,881.62 L700.50,881.50 L701.00,881.35 L701.50,881.45 L702.00,881.56 L702.50,881.60 L703.00,881.36 L703.50,881.56 L704.00,881.50 L704.50,881.61 L705.00,881.64 L705.50,881.44 L706.00,881.31 L706.50,881.54 L707.00,881.71 L707.50,881.58 L708.00,881.53 L708.50,881.79 L709.00,881.38 L709.50,881.62 L710.00,881.45 L710.50,881.52 L711.00,881.53 L711.50,881.71 L712.00,881.42 L712.50,881.47 L713.00,881.35 L713.50,881.60 L714.00,881.49 L714.50,881.60 L715.00,881.42 L715.50,881.51 L716.00,881.68 L716.50,881.54 L717.00,881.64 L717.50,881.63 L718.00,881.53 L718.50,881.39 L719.00,881.70 L719.50,881.61 L720.00,881.71 L720.50,881.35 L721.00,881.40 L721.50,881.34 L722.00,881.50 L722.50,881.73 L723.00,881.68 L723.50,881.61 L724.00,881.63 L724.50,881.71 L725.00,881.59 L725.50,881.68 L726.00,881.65 L726.50,881.37 L727.00,881.59 L727.50,881.81 L728.00,881.60 L728.50,881.63 L729.00,881.58 L729.50,881.60 L730.00,881.80 L730.50,881.63 L731.00,881.55 L731.50,881.30 L732.00,881.61 L732.50,881.44 L733.00,881.47 L733.50,881.78 L734.00,881.78 L734.50,881.47 L735.00,881.80 L735.50,881.76 L736.00,881.61 L736.50,881.80 L737.00,881.52 L737.50,881.57 L738.00,881.55 L738.50,881.59 L739.00,881.83 L739.50,881.57 L740.00,881.60 L740.50,881.63 L741.00,881.77 L741.50,881.71 L742.00,881.85 L742.50,881.67 L743.00,881.60 L743.50,881.70 L744.00,881.77 L744.50,881.66 L745.00,881.81 L745.50,881.99 L746.00,881.71 L746.50,881.79 L747.00,881.95 L747.50,881.71 L748.00,881.69 L748.50,881.67 L749.00,881.85 L749.50,881.87 L750.00,881.79 L750.50,881.82 L751.00,881.97 L751.50,881.92 L752.00,881.65 L752.50,881.82 L753.00,881.84 L753.50,881.92 L754.00,881.81 L754.50,881.76 L755.00,881.79 L755.50,881.63 L756.00,881.85 L756.50,881.78 L757.00,881.91 L757.50,881.74 L758.00,881.81 L758.50,881.75 L759.00,881.74 L759.50,881.96 L760.00,881.82 L760.50,881.94 L761.00,881.75 L761.50,881.90 L762.00,881.69 L762.50,881.84 L763.00,881.84 L763.50,881.97 L764.00,881.93 L764.50,881.89 L765.00,882.02 L765.50,881.94 L766.00,881.99 L766.50,882.02 L767.00,881.92 L767.50,881.90 L768.00,881.98 L768.50,881.89 L769.00,881.99 L769.50,882.08 L770.00,882.05 L770.50,881.91 L771.00,881.81 L771.50,881.96 L772.00,881.95 L772.50,882.10 L773.00,881.93 L773.50,881.95 L774.00,882.07 L774.50,881.93 L775.00,881.97 L775.50,882.20 L776.00,882.17 L776.50,882.08 L777.00,882.04 L777.50,881.89 L778.00,882.08 L778.50,882.02 L779.00,882.04 L779.50,881.96 L780.00,882.02 L780.50,882.01 L781.00,882.07 L781.50,882.21 L782.00,882.08 L782.50,881.85 L783.00,881.93 L783.50,881.86 L784.00,881.96 L784.50,882.13 L785.00,882.11 L785.50,881.99 L786.00,882.10 L786.50,881.98 L787.00,881.91 L787.50,881.91 L788.00,881.98 L788.50,882.26 L789.00,881.93 L789.50,882.24 L790.00,882.26 L790.50,882.08 L791.00,882.10 L791.50,882.04 L792.00,882.11 L792.50,882.20 L793.00,882.12 L793.50,882.24 L794.00,882.27 L794.50,882.17 L795.00,882.17 L795.50,882.13 L796.00,882.18 L796.50,882.01 L797.00,882.20 L797.50,882.18 L798.00,882.05 L798.50,882.42 L799.00,882.05 L799.50,882.06 L800.00,882.21 L800.50,881.94 L801.00,882.09 L801.50,882.00 L802.00,882.07 L802.50,882.17 L803.00,882.23 L803.50,882.33 L804.00,882.30 L804.50,882.35 L805.00,882.28 L805.50,882.16 L806.00,882.35 L806.50,882.16 L807.00,882.15 L807.50,882.41 L808.00,882.33 L808.50,882.26 L809.00,882.33 L809.50,882.35 L810.00,882.08 L810.50,882.24 L811.00,882.11 L811.50,882.27 L812.00,882.18 L812.50,882.43 L813.00,882.33 L813.50,882.17 L814.00,882.27 L814.50,882.13 L815.00,882.29 L815.50,882.35 L816.00,882.32 L816.50,882.06 L817.00,882.26 L817.50,882.36 L818.00,882.34 L818.50,882.45 L819.00,882.16 L819.50,882.38 L820.00,882.24 L820.50,882.35 L821.00,882.38 L821.50,882.41 L822.00,882.26 L822.50,882.36 L823.00,882.20 L823.50,882.18 L824.00,882.42 L824.50,882.35 L825.00,882.16 L825.50,882.26 L826.00,882.37 L826.50,882.55 L827.00,882.50 L827.50,882.47 L828.00,882.16 L828.50,882.37 L829.00,882.44 L829.50,882.44" fill="none" stroke="#222" stroke-width="1.2" stroke-linejoin="round" />
<path d="M368.50,653.55 L369.00,653.46 L369.50,653.75 L370.00,653.71 L370.50,653.48 L371.00,653.34 L371.50,653.80 L372.00,653.41 L372.50,653.67 L373.00,653.78 L373.50,653.35 L374.00,653.53 L374.50,653.44 L375.00,653.57 L375.50,653.54 L376.00,653.78 L376.50,653.58 L377.00,653.49 L377.50,653.66 L378.00,653.45 L378.50,653.44 L379.00,653.83 L379.50,653.37 L380.00,653.42 L380.50,653.50 L381.00,653.33 L381.50,653.17 L382.00,653.65 L382.50,653.37 L383.00,653.41 L383.50,653.44 L384.00,653.34 L384.50,653.33 L385.00,653.52 L385.50,653.85 L386.00,653.60 L386.50,653.60 L387.00,653.27 L387.50,653.49 L388.00,653.31 L388.50,653.61 L389.00,653.46 L389.50,653.50 L390.00,653.48 L390.50,653.40 L391.00,653.26 L391.50,653.58 L392.00,653.28 L392.50,653.31 L393.00,653.45 L393.50,653.39 L394.00,653.53 L394.50,653.64 L395.00,653.53 L395.50,653.52 L396.00,653.49 L396.50,653.62 L397.00,653.21 L397.50,653.55 L398.00,653.35 L398.50,653.31 L399.00,653.49 L399.50,653.43 L400.00,653.58 L400.50,653.66 L401.00,653.14 L401.50,653.48 L402.00,653.78 L402.50,653.62 L403.00,653.71 L403.50,653.51 L404.00,653.28 L404.50,653.32 L405.00,653.60 L405.50,653.63 L406.00,653.38 L406.50,653.45 L407.00,653.53 L407.50,653.23 L408.00,653.44 L408.50,653.73 L409.00,653.82 L409.50,653.47 L410.00,653.77 L410.50,653.41 L411.00,653.37 L411.50,653.16 L412.00,653.63 L412.50,653.44 L413.00,653.84 L413.50,653.54 L414.00,653.52 L414.50,653.22 L415.00,653.72 L415.50,653.44 L416.00,653.47 L416.50,653.16 L417.00,653.63 L417.50,653.64 L418.00,653.40 L418.50,653.51 L419.00,653.55 L419.50,653.64 L420.00,653.51 L420.50,653.75 L421.00,653.46 L421.50,653.40 L422.00,653.42 L422.50,653.11 L423.00,653.37 L423.50,653.64 L424.00,653.53 L424.50,653.37 L425.00,653.54 L425.50,653.19 L426.00,653.45 L426.50,653.57 L427.00,653.60 L427.50,653.38 L428.00,653.63 L428.50,653.77 L429.00,653.43 L429.50,653.60 L430.00,653.26 L430.50,653.20 L431.00,653.58 L431.50,653.50 L432.00,653.52 L432.50,653.40 L433.00,653.45 L433.50,653.61 L434.00,653.75 L434.50,653.46 L435.00,653.24 L435.50,653.68 L436.00,653.58 L436.50,653.59 L437.00,653.52 L437.50,653.84 L438.00,653.50 L438.50,653.57 L439.00,653.21 L439.50,653.41 L440.00,653.39 L440.50,653.49 L441.00,653.54 L441.50,653.38 L442.00,653.75 L442.50,653.33 L443.00,653.42 L443.50,653.53 L444.00,653.30 L444.50,653.58 L445.00,650.49 L445.50,642.60 L446.00,639.91 L446.50,643.00 L447.00,645.58 L447.50,647.32 L448.00,648.68 L448.50,649.94 L449.00,650.82 L449.50,651.44 L450.00,652.10 L450.50,652.00 L451.00,652.46 L451.50,652.56 L452.00,653.20 L452.50,653.03 L453.00,653.13 L453.50,653.11 L454.00,653.63 L454.50,653.43 L455.00,653.53 L455.50,653.19 L456.00,653.67 L456.50,653.55 L457.00,653.58 L457.50,653.68 L458.00,653.46 L458.50,653.47 L459.00,653.60 L459.50,653.56 L460.00,653.46 L460.50,653.50 L461.00,653.42 L461.50,653.60 L462.00,653.63 L462.50,653.49 L463.00,653.77 L463.50,653.26 L464.00,653.46 L464.50,652.98 L465.00,651.96 L465.50,651.23 L466.00,651.32 L466.50,651.07 L467.00,650.94 L467.50,651.59 L468.00,651.87 L468.50,652.52 L469.00,653.47 L469.50,653.42 L470.00,653.33 L470.50,653.44 L471.00,653.34 L471.50,646.75 L472.00,639.99 L472.50,643.38 L473.00,645.68 L473.50,647.43 L474.00,647.79 L474.50,642.46 L475.00,645.39 L475.50,647.31 L476.00,648.62 L476.50,650.01 L477.00,650.58 L477.50,651.57 L478.00,651.86 L478.50,652.42 L479.00,652.68 L479.50,652.77 L480.00,653.02 L480.50,652.94 L481.00,653.18 L481.50,653.43 L482.00,653.94 L482.50,653.60 L483.00,653.51 L483.50,653.34 L484.00,653.65 L484.50,653.24 L485.00,653.37 L485.50,653.55 L486.00,653.31 L486.50,653.72 L487.00,653.66 L487.50,648.91 L488.00,644.41 L488.50,639.79 L489.00,643.41 L489.50,646.33 L490.00,648.30 L490.50,649.68 L491.00,650.70 L491.50,651.34 L492.00,652.03 L492.50,652.16 L493.00,652.68 L493.50,653.12 L494.00,653.26 L494.50,653.42 L495.00,653.44 L495.50,652.80 L496.00,648.36 L496.50,643.37 L497.00,640.75 L497.50,644.25 L498.00,646.89 L498.50,648.40 L499.00,649.96 L499.50,650.79 L500.00,651.91 L500.50,652.14 L501.00,652.43 L501.50,648.94 L502.00,644.65 L502.50,640.10 L503.00,643.45 L503.50,646.30 L504.00,648.00 L504.50,649.51 L505.00,650.47 L505.50,651.22 L506.00,651.88 L506.50,652.24 L507.00,652.76 L507.50,651.81 L508.00,647.16 L508.50,642.52 L509.00,641.70 L509.50,644.47 L510.00,646.83 L510.50,648.94 L511.00,650.18 L511.50,651.14 L512.00,651.63 L512.50,651.97 L513.00,652.44 L513.50,648.18 L514.00,643.48 L514.50,640.71 L515.00,644.00 L515.50,646.53 L516.00,648.65 L516.50,649.93 L517.00,650.66 L517.50,651.39 L518.00,651.99 L518.50,652.53 L519.00,648.82 L519.50,644.47 L520.00,639.67 L520.50,643.43 L521.00,646.33 L521.50,648.34 L522.00,649.45 L522.50,650.55 L523.00,651.54 L523.50,647.13 L524.00,642.61 L524.50,641.66 L525.00,644.81 L525.50,647.28 L526.00,648.95 L526.50,649.99 L527.00,650.98 L527.50,648.98 L528.00,644.29 L528.50,639.85 L529.00,643.76 L529.50,646.03 L530.00,639.65 L530.50,642.84 L531.00,649.17 L531.50,652.21 L532.00,648.74 L532.50,642.64 L533.00,639.88 L533.50,643.67 L534.00,649.83 L534.50,652.41 L535.00,648.38 L535.50,642.16 L536.00,640.40 L536.50,644.50 L537.00,650.49 L537.50,652.11 L538.00,648.18 L538.50,641.92 L539.00,641.16 L539.50,645.55 L540.00,650.93 L540.50,651.97 L541.00,647.36 L541.50,642.14 L542.00,641.72 L542.50,646.11 L543.00,651.73 L543.50,651.80 L544.00,647.27 L544.50,642.16 L545.00,642.33 L545.50,647.23 L546.00,652.12 L546.50,651.69 L547.00,646.52 L547.50,642.18 L548.00,642.82 L548.50,648.22 L549.00,652.03 L549.50,651.44 L550.00,646.39 L550.50,641.86 L551.00,643.22 L551.50,648.94 L552.00,652.86 L552.50,651.07 L553.00,646.01 L553.50,642.19 L554.00,643.90 L554.50,649.37 L555.00,652.95 L555.50,650.76 L556.00,645.25 L556.50,642.08 L557.00,644.33 L557.50,650.24 L558.00,653.07 L558.50,650.15 L559.00,644.77 L559.50,641.95 L560.00,644.88 L560.50,650.59 L561.00,653.14 L561.50,650.30 L562.00,644.19 L562.50,641.97 L563.00,645.30 L563.50,651.00 L564.00,653.56 L564.50,649.20 L565.00,643.60 L565.50,641.89 L566.00,645.83 L566.50,651.86 L567.00,653.35 L567.50,648.95 L568.00,643.48 L568.50,641.79 L569.00,646.43 L569.50,652.13 L570.00,653.19 L570.50,648.49 L571.00,642.67 L571.50,641.88 L572.00,646.95 L572.50,652.90 L573.00,652.90 L573.50,647.66 L574.00,642.01 L574.50,641.89 L575.00,647.72 L575.50,653.16 L576.00,652.81 L576.50,647.27 L577.00,641.67 L577.50,642.42 L578.00,648.39 L578.50,653.82 L579.00,652.74 L579.50,646.45 L580.00,641.50 L580.50,642.53 L581.00,649.14 L581.50,654.02 L582.00,651.71 L582.50,645.33 L583.00,640.84 L583.50,643.10 L584.00,649.75 L584.50,654.47 L585.00,651.97 L585.50,644.78 L586.00,640.87 L586.50,643.82 L587.00,650.65 L587.50,654.35 L588.00,651.47 L588.50,644.17 L589.00,640.55 L589.50,644.23 L590.00,651.23 L590.50,654.76 L591.00,650.81 L591.50,643.80 L592.00,640.79 L592.50,644.83 L593.00,651.99 L593.50,654.75 L594.00,650.04 L594.50,643.58 L595.00,640.91 L595.50,645.68 L596.00,652.84 L596.50,654.66 L597.00,649.50 L597.50,642.74 L598.00,641.39 L598.50,646.77 L599.00,653.37 L599.50,654.34 L600.00,648.98 L600.50,642.65 L601.00,641.95 L601.50,647.08 L602.00,653.64 L602.50,654.04 L603.00,648.31 L603.50,642.42 L604.00,642.58 L604.50,648.53 L605.00,654.18 L605.50,653.85 L606.00,648.08 L606.50,642.29 L607.00,643.19 L607.50,649.54 L608.00,654.59 L608.50,653.19 L609.00,647.39 L609.50,642.40 L610.00,643.88 L610.50,650.29 L611.00,654.84 L611.50,653.05 L612.00,647.03 L612.50,642.69 L613.00,644.69 L613.50,650.95 L614.00,654.96 L614.50,652.60 L615.00,646.44 L615.50,642.86 L616.00,645.31 L616.50,651.41 L617.00,655.17 L617.50,652.14 L618.00,646.14 L618.50,643.11 L619.00,646.22 L619.50,652.21 L620.00,654.96 L620.50,651.55 L621.00,645.95 L621.50,643.31 L622.00,647.09 L622.50,652.44 L623.00,654.68 L623.50,651.29 L624.00,645.46 L624.50,643.60 L625.00,647.66 L625.50,653.01 L626.00,654.67 L626.50,650.24 L627.00,645.08 L627.50,643.87 L628.00,648.30 L628.50,653.65 L629.00,654.27 L629.50,650.22 L630.00,644.71 L630.50,643.90 L631.00,648.42 L631.50,654.03 L632.00,654.06 L632.50,649.23 L633.00,644.32 L633.50,644.25 L634.00,649.48 L634.50,653.99 L635.00,653.95 L635.50,648.60 L636.00,643.67 L636.50,644.71 L637.00,649.68 L637.50,654.10 L638.00,653.45 L638.50,647.84 L639.00,643.76 L639.50,644.74 L640.00,650.03 L640.50,654.28 L641.00,652.58 L641.50,647.26 L642.00,643.27 L642.50,644.89 L643.00,650.61 L643.50,654.28 L644.00,652.01 L644.50,646.35 L645.00,642.61 L645.50,645.11 L646.00,650.73 L646.50,654.15 L647.00,651.41 L647.50,645.19 L648.00,642.12 L648.50,645.10 L649.00,651.32 L649.50,653.89 L650.00,650.64 L650.50,644.61 L651.00,641.80 L651.50,645.14 L652.00,651.54 L652.50,653.94 L653.00,649.68 L653.50,643.61 L654.00,641.46 L654.50,645.69 L655.00,651.78 L655.50,653.41 L656.00,648.77 L656.50,642.53 L657.00,641.14 L657.50,646.00 L658.00,652.05 L658.50,653.12 L659.00,647.91 L659.50,641.40 L660.00,640.74 L660.50,646.18 L661.00,652.30 L661.50,652.62 L662.00,646.82 L662.50,640.70 L663.00,640.87 L663.50,646.76 L664.00,652.28 L664.50,652.13 L665.00,645.69 L665.50,640.38 L666.00,640.74 L666.50,647.14 L667.00,652.68 L667.50,651.50 L668.00,644.88 L668.50,639.78 L669.00,641.03 L669.50,647.84 L670.00,652.92 L670.50,650.72 L671.00,644.21 L671.50,639.22 L672.00,641.45 L672.50,648.13 L673.00,652.89 L673.50,650.22 L674.00,643.01 L674.50,639.18 L675.00,641.84 L675.50,648.78 L676.00,652.75 L676.50,649.56 L677.00,642.50 L677.50,638.81 L678.00,642.49 L678.50,649.58 L679.00,652.41 L679.50,648.61 L680.00,641.53 L680.50,638.79 L681.00,643.17 L681.50,649.98 L682.00,652.24 L682.50,647.91 L683.00,641.29 L683.50,638.90 L684.00,643.66 L684.50,650.40 L685.00,651.87 L685.50,647.36 L686.00,640.79 L686.50,639.41 L687.00,644.29 L687.50,650.66 L688.00,651.75 L688.50,646.61 L689.00,640.47 L689.50,639.81 L690.00,645.49 L690.50,651.34 L691.00,651.37 L691.50,645.86 L692.00,640.56 L692.50,640.30 L693.00,646.21 L693.50,651.68 L694.00,651.01 L694.50,645.35 L695.00,640.27 L695.50,640.84 L696.00,646.62 L696.50,651.61 L697.00,650.81 L697.50,644.82 L698.00,640.26 L698.50,641.56 L699.00,647.29 L699.50,652.06 L700.00,649.90 L700.50,644.33 L701.00,640.49 L701.50,642.11 L702.00,648.26 L702.50,652.13 L703.00,649.67 L703.50,644.04 L704.00,640.39 L704.50,643.08 L705.00,648.81 L705.50,652.03 L706.00,649.55 L706.50,643.69 L707.00,640.95 L707.50,643.77 L708.00,649.20 L708.50,652.04 L709.00,648.95 L709.50,643.04 L710.00,641.15 L710.50,644.33 L711.00,649.96 L711.50,651.82 L712.00,648.39 L712.50,642.93 L713.00,641.10 L713.50,644.96 L714.00,650.06 L714.50,652.06 L715.00,647.70 L715.50,642.19 L716.00,641.20 L716.50,645.43 L717.00,650.90 L717.50,651.58 L718.00,647.36 L718.50,642.00 L719.00,641.87 L719.50,646.22 L720.00,651.51 L720.50,651.38 L721.00,646.83 L721.50,641.61 L722.00,641.82 L722.50,646.82 L723.00,651.34 L723.50,651.11 L724.00,645.93 L724.50,641.13 L725.00,641.84 L725.50,647.16 L726.00,651.68 L726.50,651.00 L727.00,645.52 L727.50,640.77 L728.00,642.11 L728.50,647.89 L729.00,652.15 L729.50,650.51 L730.00,644.87 L730.50,640.73 L731.00,642.59 L731.50,648.46 L732.00,652.72 L732.50,650.45 L733.00,643.97 L733.50,640.26 L734.00,643.01 L734.50,648.98 L735.00,652.67 L735.50,649.70 L736.00,643.20 L736.50,639.98 L737.00,643.02 L737.50,649.64 L738.00,652.43 L738.50,649.48 L739.00,642.82 L739.50,640.03 L740.00,643.81 L740.50,650.49 L741.00,652.98 L741.50,648.68 L742.00,642.06 L742.50,639.65 L743.00,644.42 L743.50,650.88 L744.00,652.60 L744.50,647.72 L745.00,641.38 L745.50,640.01 L746.00,644.83 L746.50,651.82 L747.00,652.91 L747.50,647.17 L748.00,640.74 L748.50,640.05 L749.00,645.94 L749.50,652.07 L750.00,652.36 L750.50,646.62 L751.00,640.10 L751.50,640.43 L752.00,646.79 L752.50,652.69 L753.00,652.40 L753.50,646.00 L754.00,640.25 L754.50,640.93 L755.00,647.36 L755.50,653.06 L756.00,651.98 L756.50,645.52 L757.00,640.26 L757.50,641.61 L758.00,648.26 L758.50,653.37 L759.00,651.61 L759.50,645.01 L760.00,640.09 L760.50,642.29 L761.00,649.15 L761.50,653.92 L762.00,651.30 L762.50,644.34 L763.00,640.24 L763.50,643.41 L764.00,650.11 L764.50,654.26 L765.00,651.03 L765.50,643.99 L766.00,640.68 L766.50,644.07 L767.00,650.85 L767.50,654.10 L768.00,650.28 L768.50,643.79 L769.00,640.99 L769.50,645.15 L770.00,651.87 L770.50,653.75 L771.00,650.70 L771.50,644.93 L772.00,643.55 L772.50,647.22 L773.00,652.77 L773.50,654.42 L774.00,650.08 L774.50,645.22 L775.00,644.11 L775.50,647.95 L776.00,653.39 L776.50,654.17 L777.00,649.96 L777.50,645.15 L778.00,645.25 L778.50,649.02 L779.00,653.49 L779.50,653.92 L780.00,649.70 L780.50,645.31 L781.00,645.42 L781.50,649.72 L782.00,654.23 L782.50,653.83 L783.00,649.28 L783.50,645.38 L784.00,646.02 L784.50,650.75 L785.00,654.53 L785.50,653.66 L786.00,649.21 L786.50,645.68 L787.00,647.01 L787.50,651.19 L788.00,654.77 L788.50,653.58 L789.00,648.79 L789.50,645.82 L790.00,645.65 L790.50,651.15 L791.00,654.93 L791.50,652.95 L792.00,647.40 L792.50,643.87 L793.00,646.27 L793.50,652.20 L794.00,654.78 L794.50,652.41 L795.00,646.93 L795.50,643.99 L796.00,646.91 L796.50,652.43 L797.00,655.09 L797.50,652.09 L798.00,646.29 L798.50,644.04 L799.00,647.33 L799.50,652.83 L800.00,654.93 L800.50,651.17 L801.00,645.91 L801.50,644.27 L802.00,648.08 L802.50,653.50 L803.00,654.66 L803.50,650.95 L804.00,645.13 L804.50,643.99 L805.00,648.56 L805.50,653.52 L806.00,654.72 L806.50,650.06 L807.00,644.61 L807.50,643.83 L808.00,648.78 L808.50,653.92 L809.00,654.45 L809.50,649.43 L810.00,643.79 L810.50,643.87 L811.00,649.10 L811.50,654.06 L812.00,653.74 L812.50,648.42 L813.00,643.33 L813.50,643.70 L814.00,649.50 L814.50,654.51 L815.00,653.25 L815.50,647.37 L816.00,642.96 L816.50,644.19 L817.00,649.78 L817.50,654.36 L818.00,652.91 L818.50,646.40 L819.00,642.10 L819.50,644.04 L820.00,650.55 L820.50,654.24 L821.00,651.87 L821.50,645.44 L822.00,641.76 L822.50,644.27 L823.00,650.65 L823.50,654.67 L824.00,651.57 L824.50,644.63 L825.00,641.12 L825.50,644.63 L826.00,651.53 L826.50,654.51 L827.00,650.74 L827.50,643.74 L828.00,640.78 L828.50,644.78 L829.00,651.81 L829.50,654.24" fill="none" stroke="#1a1a1a" stroke-width="1.0" stroke-linejoin="round" />
</svg></body></html>
